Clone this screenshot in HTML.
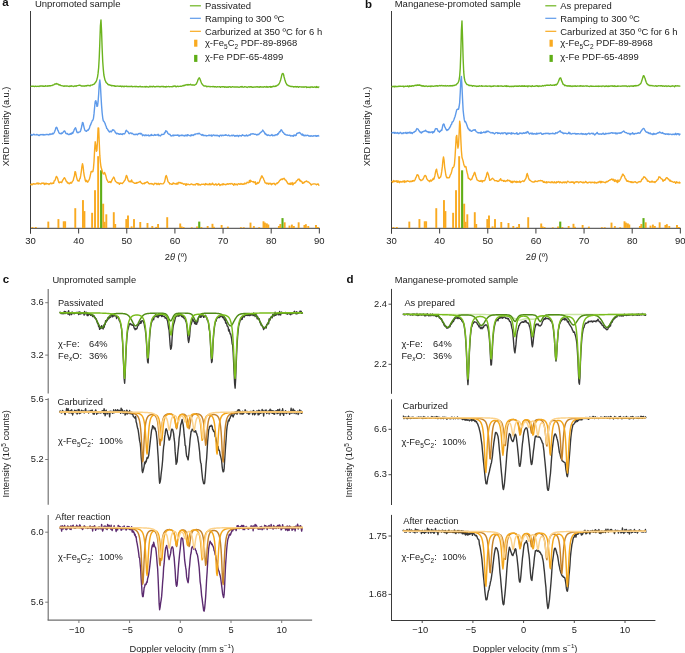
<!DOCTYPE html>
<html><head><meta charset="utf-8"><style>
html,body{margin:0;padding:0;background:#fff;width:685px;height:653px;overflow:hidden}
svg{display:block;will-change:transform}
text{font-family:"Liberation Sans", sans-serif}
.t{opacity:0.99}
</style></head><body>
<svg width="685" height="653" viewBox="0 0 685 653">
<rect width="685" height="653" fill="#fff"/>
<line x1="30.5" y1="11" x2="30.5" y2="233.5" stroke="#3c3c3c" stroke-width="1"/>
<line x1="30.5" y1="228.3" x2="319.84" y2="228.3" stroke="#3c3c3c" stroke-width="1"/>
<line x1="30.5" y1="228.3" x2="30.5" y2="233.5" stroke="#3c3c3c" stroke-width="1"/>
<text x="30.5" y="243.7" font-size="9.5" text-anchor="middle" font-weight="normal" fill="#222" >30</text>
<line x1="78.64" y1="228.3" x2="78.64" y2="233.5" stroke="#3c3c3c" stroke-width="1"/>
<text x="78.64" y="243.7" font-size="9.5" text-anchor="middle" font-weight="normal" fill="#222" >40</text>
<line x1="126.78" y1="228.3" x2="126.78" y2="233.5" stroke="#3c3c3c" stroke-width="1"/>
<text x="126.78" y="243.7" font-size="9.5" text-anchor="middle" font-weight="normal" fill="#222" >50</text>
<line x1="174.92" y1="228.3" x2="174.92" y2="233.5" stroke="#3c3c3c" stroke-width="1"/>
<text x="174.92" y="243.7" font-size="9.5" text-anchor="middle" font-weight="normal" fill="#222" >60</text>
<line x1="223.06" y1="228.3" x2="223.06" y2="233.5" stroke="#3c3c3c" stroke-width="1"/>
<text x="223.06" y="243.7" font-size="9.5" text-anchor="middle" font-weight="normal" fill="#222" >70</text>
<line x1="271.2" y1="228.3" x2="271.2" y2="233.5" stroke="#3c3c3c" stroke-width="1"/>
<text x="271.2" y="243.7" font-size="9.5" text-anchor="middle" font-weight="normal" fill="#222" >80</text>
<line x1="319.34" y1="228.3" x2="319.34" y2="233.5" stroke="#3c3c3c" stroke-width="1"/>
<text x="319.34" y="243.7" font-size="9.5" text-anchor="middle" font-weight="normal" fill="#222" >90</text>
<text x="176" y="260.1" font-size="9.3" text-anchor="middle" fill="#222">2<tspan font-style="italic">θ</tspan> (º)</text>
<rect x="31.48" y="227" width="1.9" height="1" fill="#f9aa20"/>
<rect x="34.85" y="227" width="1.9" height="1" fill="#f9aa20"/>
<rect x="47.36" y="221.6" width="1.9" height="6.4" fill="#f9aa20"/>
<rect x="57.47" y="219.1" width="1.9" height="8.9" fill="#f9aa20"/>
<rect x="62.77" y="221.3" width="1.9" height="6.7" fill="#f9aa20"/>
<rect x="64.21" y="221.3" width="1.9" height="6.7" fill="#f9aa20"/>
<rect x="74.32" y="208.2" width="1.9" height="19.8" fill="#f9aa20"/>
<rect x="82.02" y="200.1" width="1.9" height="27.9" fill="#f9aa20"/>
<rect x="83.47" y="211.1" width="1.9" height="16.9" fill="#f9aa20"/>
<rect x="91.17" y="212.8" width="1.9" height="15.2" fill="#f9aa20"/>
<rect x="94.06" y="190.2" width="1.9" height="37.8" fill="#f9aa20"/>
<rect x="97.19" y="156.2" width="1.9" height="71.8" fill="#f9aa20"/>
<rect x="102.24" y="203.7" width="1.9" height="24.3" fill="#f9aa20"/>
<rect x="103.69" y="221.8" width="1.9" height="6.2" fill="#f9aa20"/>
<rect x="105.37" y="214.3" width="1.9" height="13.7" fill="#f9aa20"/>
<rect x="112.83" y="212.2" width="1.9" height="15.8" fill="#f9aa20"/>
<rect x="114.28" y="224" width="1.9" height="4" fill="#f9aa20"/>
<rect x="125.35" y="219.1" width="1.9" height="8.9" fill="#f9aa20"/>
<rect x="127.03" y="215.5" width="1.9" height="12.5" fill="#f9aa20"/>
<rect x="130.64" y="226.4" width="1.9" height="1.6" fill="#f9aa20"/>
<rect x="133.05" y="219.1" width="1.9" height="8.9" fill="#f9aa20"/>
<rect x="139.31" y="222" width="1.9" height="6" fill="#f9aa20"/>
<rect x="146.53" y="223" width="1.9" height="5" fill="#f9aa20"/>
<rect x="151.34" y="226" width="1.9" height="2" fill="#f9aa20"/>
<rect x="155.2" y="226.9" width="1.9" height="1.1" fill="#f9aa20"/>
<rect x="157.12" y="224" width="1.9" height="4" fill="#f9aa20"/>
<rect x="166.27" y="217.2" width="1.9" height="10.8" fill="#f9aa20"/>
<rect x="179.27" y="223.5" width="1.9" height="4.5" fill="#f9aa20"/>
<rect x="180.71" y="226.5" width="1.9" height="1.5" fill="#f9aa20"/>
<rect x="182.64" y="227" width="1.9" height="1" fill="#f9aa20"/>
<rect x="190.82" y="227.3" width="1.9" height="0.7" fill="#f9aa20"/>
<rect x="196.11" y="226.5" width="1.9" height="1.5" fill="#f9aa20"/>
<rect x="200.45" y="227" width="1.9" height="1" fill="#f9aa20"/>
<rect x="206.71" y="226" width="1.9" height="2" fill="#f9aa20"/>
<rect x="211.52" y="223.8" width="1.9" height="4.2" fill="#f9aa20"/>
<rect x="212.96" y="226.8" width="1.9" height="1.2" fill="#f9aa20"/>
<rect x="220.67" y="225" width="1.9" height="3" fill="#f9aa20"/>
<rect x="226.92" y="226.6" width="1.9" height="1.4" fill="#f9aa20"/>
<rect x="239.92" y="227.2" width="1.9" height="0.8" fill="#f9aa20"/>
<rect x="242.81" y="227.2" width="1.9" height="0.8" fill="#f9aa20"/>
<rect x="249.55" y="222.6" width="1.9" height="5.4" fill="#f9aa20"/>
<rect x="252.92" y="226.1" width="1.9" height="1.9" fill="#f9aa20"/>
<rect x="258.21" y="227.2" width="1.9" height="0.8" fill="#f9aa20"/>
<rect x="262.55" y="221.3" width="1.9" height="6.7" fill="#f9aa20"/>
<rect x="263.99" y="222.6" width="1.9" height="5.4" fill="#f9aa20"/>
<rect x="265.92" y="223.4" width="1.9" height="4.6" fill="#f9aa20"/>
<rect x="267.36" y="224.5" width="1.9" height="3.5" fill="#f9aa20"/>
<rect x="277.95" y="226" width="1.9" height="2" fill="#f9aa20"/>
<rect x="279.4" y="224" width="1.9" height="4" fill="#f9aa20"/>
<rect x="283.73" y="222.3" width="1.9" height="5.7" fill="#f9aa20"/>
<rect x="288.54" y="225.6" width="1.9" height="2.4" fill="#f9aa20"/>
<rect x="290.95" y="224.6" width="1.9" height="3.4" fill="#f9aa20"/>
<rect x="292.88" y="226" width="1.9" height="2" fill="#f9aa20"/>
<rect x="297.69" y="222.3" width="1.9" height="5.7" fill="#f9aa20"/>
<rect x="303.47" y="225" width="1.9" height="3" fill="#f9aa20"/>
<rect x="304.91" y="224.2" width="1.9" height="3.8" fill="#f9aa20"/>
<rect x="307.32" y="226" width="1.9" height="2" fill="#f9aa20"/>
<rect x="315.02" y="225" width="1.9" height="3" fill="#f9aa20"/>
<rect x="316.95" y="227" width="1.9" height="1" fill="#f9aa20"/>
<rect x="100.07" y="170.3" width="2.1" height="57.7" fill="#5fae16"/>
<rect x="198.18" y="221.6" width="2.1" height="6.4" fill="#5fae16"/>
<rect x="281.46" y="218.1" width="2.1" height="9.9" fill="#5fae16"/>
<path d="M30.5 86.34L31.08 86.4L31.66 86.27L32.23 86.14L32.81 86.23L33.39 86.11L33.97 86.35L34.54 86.63L35.12 86.22L35.7 86.19L36.28 86.43L36.85 86.4L37.43 86.34L38.01 86.11L38.59 86.31L39.17 86.47L39.74 86.01L40.32 86.2L40.9 85.88L41.48 86.01L42.05 85.88L42.63 86.23L43.21 85.99L43.79 86.32L44.36 86.28L44.94 86.19L45.52 85.67L46.1 86.08L46.68 86.17L47.25 86.18L47.83 85.78L48.41 85.97L48.99 85.81L49.56 85.78L50.14 86.1L50.72 85.58L51.3 85.62L51.87 85.66L52.45 85.14L53.03 85.02L53.61 84.82L54.18 84.54L54.76 83.99L55.34 84.05L55.92 84.16L56.5 83.47L57.07 84.05L57.65 84.05L58.23 84.12L58.81 84.97L59.38 84.96L59.96 84.78L60.54 85.28L61.12 85.59L61.69 85.58L62.27 85.9L62.85 85.85L63.43 86.09L64.01 86.33L64.58 85.91L65.16 86.15L65.74 86.03L66.32 86.19L66.89 85.92L67.47 86.06L68.05 86.16L68.63 86.41L69.2 86.47L69.78 85.93L70.36 86.05L70.94 86.37L71.52 85.78L72.09 86.11L72.67 86.18L73.25 86.46L73.83 86.32L74.4 86.06L74.98 86L75.56 85.96L76.14 86.27L76.71 85.72L77.29 85.61L77.87 85.61L78.45 85.38L79.03 85.29L79.6 85.11L80.18 85.45L80.76 85.48L81.34 85.95L81.91 85.94L82.49 85.86L83.07 86.06L83.65 85.87L84.22 86.18L84.8 85.95L85.38 86.06L85.96 85.62L86.53 85.95L87.11 85.46L87.69 85.34L88.27 85.66L88.85 85.46L89.42 85.61L90 85.98L90.58 85.19L91.16 85.1L91.73 85.12L92.31 84.99L92.89 84.6L93.47 84.3L94.04 84.13L94.62 83.63L95.2 82.67L95.78 82.08L96.36 81L96.93 79.18L97.51 77.12L98.09 73.16L98.67 67.49L99.24 57.48L99.82 42.78L100.4 25.98L100.98 19.85L101.55 30.88L102.13 47.93L102.71 61.32L103.29 69.19L103.87 75L104.44 77.61L105.02 80.21L105.6 81.25L106.18 82.61L106.75 83.2L107.33 83.4L107.91 84.45L108.49 84.84L109.06 84.79L109.64 84.97L110.22 85.18L110.8 85.16L111.38 85.75L111.95 85.5L112.53 85.71L113.11 85.63L113.69 85.74L114.26 85.66L114.84 86.28L115.42 86.02L116 86.31L116.57 86.14L117.15 86.02L117.73 86.14L118.31 86.12L118.89 86.27L119.46 86.21L120.04 86.25L120.62 86.03L121.2 86.18L121.77 86.74L122.35 86.24L122.93 86.18L123.51 86.5L124.08 86.74L124.66 86.13L125.24 86.41L125.82 86.33L126.39 86.09L126.97 86.65L127.55 86.5L128.13 86.53L128.71 86.35L129.28 86.63L129.86 86.42L130.44 86.51L131.02 86.31L131.59 86.29L132.17 86.86L132.75 86.46L133.33 86.64L133.9 86.57L134.48 86.49L135.06 86.48L135.64 86.73L136.22 86.53L136.79 86.57L137.37 86.61L137.95 86.87L138.53 86.77L139.1 86.71L139.68 86.5L140.26 86.32L140.84 86.84L141.41 86.85L141.99 86.61L142.57 86.76L143.15 86.82L143.73 86.83L144.3 86.85L144.88 86.55L145.46 86.99L146.04 86.39L146.61 86.85L147.19 86.77L147.77 86.86L148.35 87.08L148.92 87L149.5 86.42L150.08 86.3L150.66 86.86L151.24 86.46L151.81 86.68L152.39 86.87L152.97 86.32L153.55 86.22L154.12 86.74L154.7 86.7L155.28 86.64L155.86 86.7L156.43 86.5L157.01 86.36L157.59 86.66L158.17 86.48L158.74 86.33L159.32 86.81L159.9 86.68L160.48 86.79L161.06 86.48L161.63 86.55L162.21 86.48L162.79 86.5L163.37 86.74L163.94 86.52L164.52 86.77L165.1 86.76L165.68 87.13L166.25 86.38L166.83 86.88L167.41 86.66L167.99 86.67L168.57 86.35L169.14 86.57L169.72 86.83L170.3 86.64L170.88 86.67L171.45 86.58L172.03 86.89L172.61 86.62L173.19 86.13L173.76 86.46L174.34 86.16L174.92 85.86L175.5 86.44L176.08 86.83L176.65 86.53L177.23 86.23L177.81 86.24L178.39 86.66L178.96 86.4L179.54 86.32L180.12 86.23L180.7 86.18L181.27 86.26L181.85 86.11L182.43 85.93L183.01 85.53L183.59 85.74L184.16 85.34L184.74 85.58L185.32 84.91L185.9 85.01L186.47 84.91L187.05 84.5L187.63 85.08L188.21 84.96L188.78 84.53L189.36 84.82L189.94 84.78L190.52 84.2L191.1 84.91L191.67 84.93L192.25 85.03L192.83 84.82L193.41 85.01L193.98 84.99L194.56 85.19L195.14 84.79L195.72 84.35L196.29 84.1L196.87 82.74L197.45 81.51L198.03 79.58L198.6 78.73L199.18 77.81L199.76 78.44L200.34 79.98L200.92 81.58L201.49 83.02L202.07 83.96L202.65 84.7L203.23 85.26L203.8 85.92L204.38 85.95L204.96 86L205.54 86.02L206.11 86.11L206.69 86.69L207.27 86.52L207.85 86.48L208.43 86.44L209 86.32L209.58 86.58L210.16 86.82L210.74 86.57L211.31 86.63L211.89 86.65L212.47 86.75L213.05 86.39L213.62 86.7L214.2 86.58L214.78 86.98L215.36 86.62L215.94 86.93L216.51 87.15L217.09 86.76L217.67 86.7L218.25 86.88L218.82 86.85L219.4 86.64L219.98 86.96L220.56 87.31L221.13 86.82L221.71 86.84L222.29 86.66L222.87 86.96L223.45 86.62L224.02 86.66L224.6 87.19L225.18 86.71L225.76 87.15L226.33 87.25L226.91 86.98L227.49 87.05L228.07 87.36L228.64 86.89L229.22 86.81L229.8 86.64L230.38 86.95L230.95 87.27L231.53 87.16L232.11 86.74L232.69 86.77L233.27 86.85L233.84 87.02L234.42 86.92L235 87.01L235.58 87.03L236.15 86.9L236.73 86.96L237.31 87.02L237.89 86.96L238.46 87.09L239.04 87.39L239.62 87.11L240.2 87L240.78 86.61L241.35 87.07L241.93 86.56L242.51 86.68L243.09 87.18L243.66 87.15L244.24 86.96L244.82 86.62L245.4 86.92L245.97 86.85L246.55 87.14L247.13 87.5L247.71 87.05L248.29 86.83L248.86 86.75L249.44 86.99L250.02 86.97L250.6 86.75L251.17 87.03L251.75 86.75L252.33 87.25L252.91 87.24L253.48 87.24L254.06 86.9L254.64 87.12L255.22 86.97L255.8 86.92L256.37 86.93L256.95 86.71L257.53 86.68L258.11 87.17L258.68 86.95L259.26 87.04L259.84 87.21L260.42 86.6L260.99 86.81L261.57 87.02L262.15 87.06L262.73 86.88L263.31 87.19L263.88 87L264.46 86.68L265.04 86.73L265.62 87.1L266.19 87.02L266.77 86.49L267.35 87.19L267.93 87.01L268.5 87.15L269.08 86.75L269.66 86.75L270.24 86.54L270.81 87.31L271.39 86.68L271.97 87.02L272.55 86.48L273.13 86.6L273.7 86.13L274.28 86.33L274.86 86.53L275.44 85.91L276.01 86.27L276.59 85.91L277.17 85.35L277.75 85.12L278.32 84.64L278.9 84.05L279.48 82.99L280.06 81.6L280.64 79.93L281.21 77.56L281.79 75.12L282.37 73.57L282.95 73.47L283.52 74.35L284.1 76.99L284.68 79.17L285.26 81.04L285.83 82.92L286.41 83.69L286.99 84.9L287.57 84.95L288.15 85.59L288.72 85.75L289.3 85.85L289.88 86.32L290.46 86.29L291.03 86.57L291.61 86.52L292.19 86.37L292.77 86.65L293.34 86.74L293.92 86.99L294.5 86.62L295.08 86.85L295.66 86.51L296.23 87.06L296.81 86.71L297.39 86.57L297.97 86.97L298.54 87.25L299.12 86.69L299.7 86.8L300.28 86.89L300.85 86.82L301.43 87.16L302.01 86.91L302.59 86.94L303.16 87.24L303.74 86.95L304.32 87.22L304.9 86.92L305.48 86.87L306.05 86.74L306.63 87.56L307.21 87.09L307.79 87.22L308.36 87.17L308.94 87.21L309.52 87.19L310.1 87.61L310.67 86.97L311.25 86.86L311.83 86.98L312.41 86.91L312.99 87.38L313.56 87.4L314.14 87.01L314.72 86.92L315.3 87.15L315.87 87.54L316.45 86.61L317.03 87.35L317.61 87L318.18 87.47L318.76 87.01L319.34 87.19" fill="none" stroke="#6cb41e" stroke-width="1.4" stroke-linejoin="round"/>
<path d="M30.5 134.28L31.08 134.49L31.66 135.44L32.23 135.21L32.81 134.72L33.39 134.53L33.97 134.12L34.54 134.72L35.12 134.86L35.7 134.84L36.28 134.83L36.85 134.42L37.43 134.84L38.01 134.85L38.59 135.38L39.17 135.6L39.74 134.8L40.32 134.54L40.9 134.82L41.48 134.6L42.05 134.54L42.63 134.8L43.21 134.4L43.79 135.05L44.36 134.76L44.94 134.89L45.52 134.71L46.1 134.47L46.68 134.37L47.25 134.63L47.83 134.49L48.41 134.77L48.99 134.64L49.56 134.06L50.14 134.58L50.72 133.95L51.3 134.16L51.87 134.18L52.45 133.3L53.03 133.9L53.61 133.47L54.18 132.6L54.76 131.31L55.34 129.69L55.92 127.71L56.5 127.14L57.07 127.84L57.65 129.8L58.23 130.88L58.81 132.59L59.38 133.25L59.96 133.51L60.54 133.55L61.12 133.96L61.69 132.91L62.27 133.38L62.85 132.64L63.43 131.8L64.01 131.19L64.58 130.94L65.16 131.92L65.74 133.12L66.32 133.64L66.89 133.91L67.47 133.41L68.05 134.32L68.63 134.61L69.2 134.55L69.78 134.21L70.36 133.45L70.94 134.36L71.52 133.8L72.09 132.63L72.67 133.4L73.25 131.94L73.83 130.81L74.4 129.32L74.98 128.43L75.56 127.71L76.14 129.48L76.71 131.67L77.29 132.67L77.87 132.51L78.45 132.6L79.03 132.09L79.6 131.94L80.18 131.64L80.76 130.27L81.34 128L81.91 125.53L82.49 122.48L83.07 122.91L83.65 125.59L84.22 128.07L84.8 130.07L85.38 130.81L85.96 130.97L86.53 131.3L87.11 130.58L87.69 129.94L88.27 130.23L88.85 129.12L89.42 128.14L90 125.94L90.58 124.9L91.16 123.27L91.73 121.98L92.31 120.53L92.89 120.1L93.47 118.19L94.04 113.67L94.62 107.12L95.2 101.54L95.78 100.68L96.36 102.52L96.93 106.38L97.51 106.17L98.09 101.69L98.67 93.93L99.24 84.49L99.82 79.98L100.4 85.19L100.98 95.83L101.55 105.22L102.13 112.71L102.71 117.76L103.29 120.84L103.87 121.36L104.44 122.22L105.02 123.32L105.6 125.24L106.18 126.35L106.75 128.48L107.33 128.76L107.91 130.02L108.49 130.72L109.06 131.62L109.64 132.07L110.22 131.24L110.8 131.5L111.38 131.8L111.95 130.92L112.53 129.85L113.11 130.17L113.69 129.85L114.26 130.6L114.84 131.26L115.42 132.76L116 132.9L116.57 133.85L117.15 133.31L117.73 133.51L118.31 134.05L118.89 133.78L119.46 134.39L120.04 134.27L120.62 133.83L121.2 134.24L121.77 134.05L122.35 134.51L122.93 133.79L123.51 133.67L124.08 133.96L124.66 133.76L125.24 132.77L125.82 130.95L126.39 130.31L126.97 131.09L127.55 131.38L128.13 132.01L128.71 133.15L129.28 133.66L129.86 133.27L130.44 132.9L131.02 132.89L131.59 133.72L132.17 133.3L132.75 133.79L133.33 134.19L133.9 134.57L134.48 134.34L135.06 134.76L135.64 134.25L136.22 134.44L136.79 134.11L137.37 134.84L137.95 134.18L138.53 133.63L139.1 133.54L139.68 133.46L140.26 133.92L140.84 133.27L141.41 133.79L141.99 134.32L142.57 135.69L143.15 135.2L143.73 134.87L144.3 135.26L144.88 135.84L145.46 134.96L146.04 134.93L146.61 135.59L147.19 135.32L147.77 135.4L148.35 134.94L148.92 135.93L149.5 135.85L150.08 135.4L150.66 135.46L151.24 134.38L151.81 135.45L152.39 135.13L152.97 135.38L153.55 135.49L154.12 135.08L154.7 134.54L155.28 135.37L155.86 134.92L156.43 135.08L157.01 134.97L157.59 135.07L158.17 134.28L158.74 135.68L159.32 135.28L159.9 135.6L160.48 135.93L161.06 135.11L161.63 134.33L162.21 134.61L162.79 134.36L163.37 134.43L163.94 134.26L164.52 132.76L165.1 132.7L165.68 130.83L166.25 130.98L166.83 131.4L167.41 132.45L167.99 133.55L168.57 134.04L169.14 134.42L169.72 134.22L170.3 135.01L170.88 135.84L171.45 135.95L172.03 135.73L172.61 135.52L173.19 135L173.76 135.86L174.34 135.28L174.92 135.29L175.5 135.22L176.08 135.38L176.65 135.18L177.23 135.33L177.81 134.93L178.39 135.22L178.96 136.29L179.54 135.36L180.12 135.29L180.7 135.61L181.27 135.68L181.85 134.95L182.43 135.32L183.01 135.77L183.59 135.51L184.16 135.46L184.74 136.03L185.32 135.14L185.9 135.44L186.47 135.2L187.05 136L187.63 134.62L188.21 135.13L188.78 135.18L189.36 135.65L189.94 135.62L190.52 135.92L191.1 134.72L191.67 135.63L192.25 135.18L192.83 134.99L193.41 135.41L193.98 134.73L194.56 134.13L195.14 134.61L195.72 133.89L196.29 133.89L196.87 133.92L197.45 133.57L198.03 133.95L198.6 133.37L199.18 133.17L199.76 133.86L200.34 134.14L200.92 134.3L201.49 135.16L202.07 134.87L202.65 134.44L203.23 135.58L203.8 135.3L204.38 135.53L204.96 135.45L205.54 135.68L206.11 135.46L206.69 135.96L207.27 135.65L207.85 135.64L208.43 135.66L209 134.92L209.58 135.45L210.16 135.41L210.74 135.61L211.31 134.99L211.89 136.19L212.47 135.58L213.05 135.06L213.62 134.87L214.2 135.44L214.78 135.52L215.36 135.27L215.94 135.6L216.51 135.31L217.09 135.79L217.67 135.28L218.25 135.56L218.82 135.97L219.4 136.61L219.98 135.18L220.56 135.4L221.13 135.25L221.71 135.9L222.29 135.13L222.87 135.4L223.45 135.58L224.02 135.21L224.6 135.22L225.18 135.41L225.76 134.76L226.33 135.02L226.91 135.44L227.49 135.66L228.07 135.53L228.64 134.9L229.22 135.42L229.8 135.93L230.38 135.83L230.95 135.58L231.53 135.26L232.11 135.86L232.69 135.38L233.27 135.14L233.84 135.29L234.42 136.19L235 135.7L235.58 136.07L236.15 135.41L236.73 135.98L237.31 135.36L237.89 135.54L238.46 136.59L239.04 135.9L239.62 135.39L240.2 135.55L240.78 135.7L241.35 136.05L241.93 135.36L242.51 134.85L243.09 135.42L243.66 135.53L244.24 135.54L244.82 136L245.4 135.57L245.97 135.73L246.55 134.92L247.13 135.63L247.71 136.03L248.29 135.39L248.86 135.03L249.44 134.8L250.02 135.24L250.6 133.91L251.17 134L251.75 134.03L252.33 134.05L252.91 133.6L253.48 134.03L254.06 133.98L254.64 134.34L255.22 134.42L255.8 134.16L256.37 134.7L256.95 135.09L257.53 134.32L258.11 134.49L258.68 134.63L259.26 133.58L259.84 133.55L260.42 132.33L260.99 132.32L261.57 131.87L262.15 131.08L262.73 130.07L263.31 131L263.88 131.64L264.46 132.57L265.04 133.96L265.62 133.43L266.19 134.83L266.77 134.7L267.35 135.5L267.93 135.15L268.5 134.9L269.08 135.34L269.66 135.57L270.24 135.33L270.81 135.53L271.39 135.13L271.97 134.49L272.55 135.7L273.13 135.6L273.7 135.35L274.28 135.28L274.86 135.61L275.44 134.92L276.01 134.7L276.59 134.72L277.17 135.01L277.75 133.6L278.32 134.12L278.9 132.73L279.48 131.76L280.06 131.85L280.64 130.58L281.21 129.74L281.79 130.31L282.37 131.46L282.95 132.41L283.52 132.59L284.1 133.64L284.68 134.33L285.26 134.21L285.83 134.92L286.41 134.98L286.99 134.93L287.57 135.05L288.15 135.35L288.72 135.39L289.3 135.19L289.88 135.27L290.46 135.91L291.03 135.56L291.61 135.83L292.19 135.95L292.77 135.68L293.34 136.32L293.92 135.03L294.5 135.59L295.08 135L295.66 135.65L296.23 135.28L296.81 133.39L297.39 133.25L297.97 133.31L298.54 132.85L299.12 132.63L299.7 132.52L300.28 133.26L300.85 133.94L301.43 134.2L302.01 135.08L302.59 134.1L303.16 135.49L303.74 134.98L304.32 135.88L304.9 135.48L305.48 135.28L306.05 135.82L306.63 135.35L307.21 135.37L307.79 135.13L308.36 135.77L308.94 136L309.52 136.22L310.1 135.77L310.67 136.26L311.25 135.86L311.83 135.82L312.41 136.1L312.99 136.3L313.56 135.75L314.14 135.79L314.72 135.83L315.3 135.94L315.87 135.55L316.45 136.33L317.03 135.76L317.61 136.11L318.18 135.6L318.76 136.08L319.34 136.1" fill="none" stroke="#5e9aea" stroke-width="1.4" stroke-linejoin="round"/>
<path d="M30.5 183.73L31.08 184.83L31.66 184.09L32.23 184.72L32.81 184.35L33.39 183.62L33.97 183.74L34.54 184.11L35.12 183.94L35.7 183.93L36.28 183.78L36.85 183.09L37.43 183.8L38.01 182.9L38.59 184.06L39.17 183.57L39.74 183.57L40.32 183.79L40.9 184L41.48 183.23L42.05 183.08L42.63 183.38L43.21 182.94L43.79 183.41L44.36 184.55L44.94 183.35L45.52 184.11L46.1 183.19L46.68 183.92L47.25 183.62L47.83 183.72L48.41 183.98L48.99 184.48L49.56 183.74L50.14 183.66L50.72 183.1L51.3 183.72L51.87 183.24L52.45 183.57L53.03 182.92L53.61 183.31L54.18 180.92L54.76 180.57L55.34 179.57L55.92 177.39L56.5 176.39L57.07 177.37L57.65 178.45L58.23 180.59L58.81 182.67L59.38 182.71L59.96 182L60.54 182.2L61.12 182.3L61.69 182.58L62.27 181.06L62.85 179.97L63.43 179.18L64.01 178.03L64.58 177.75L65.16 178.82L65.74 180.07L66.32 181.48L66.89 181.41L67.47 183.08L68.05 182.62L68.63 183.2L69.2 183.84L69.78 183.5L70.36 182.38L70.94 183.16L71.52 183.09L72.09 181.89L72.67 181.16L73.25 180.36L73.83 177.66L74.4 176.11L74.98 171.6L75.56 172.1L76.14 175.07L76.71 177.83L77.29 179.82L77.87 180.77L78.45 180.8L79.03 181.18L79.6 178.94L80.18 178.33L80.76 175.23L81.34 171.43L81.91 166.68L82.49 163.73L83.07 166.26L83.65 171.67L84.22 175.62L84.8 177.93L85.38 180.74L85.96 181.68L86.53 180.35L87.11 181.27L87.69 182.19L88.27 181.14L88.85 180.28L89.42 178.94L90 176.84L90.58 174.21L91.16 171.41L91.73 171.41L92.31 171.85L92.89 171.68L93.47 168.18L94.04 161.27L94.62 149.72L95.2 141.78L95.78 145.42L96.36 151.27L96.93 150.58L97.51 140.78L98.09 127.96L98.67 128.24L99.24 142.15L99.82 155.66L100.4 162.32L100.98 167.01L101.55 168.79L102.13 170.79L102.71 172.94L103.29 173.91L103.87 174.02L104.44 172.46L105.02 173.41L105.6 175.04L106.18 177.11L106.75 179.67L107.33 180.15L107.91 181.6L108.49 182.41L109.06 182.4L109.64 181.57L110.22 181.75L110.8 182.62L111.38 181.35L111.95 180.12L112.53 179L113.11 178.01L113.69 177.07L114.26 177.84L114.84 179.76L115.42 181.34L116 181.74L116.57 182.09L117.15 182.91L117.73 182.64L118.31 183.15L118.89 183.3L119.46 184.35L120.04 182.94L120.62 183.26L121.2 183.21L121.77 183.43L122.35 183.6L122.93 182.72L123.51 182.25L124.08 181.27L124.66 180.54L125.24 179.56L125.82 177.3L126.39 175.39L126.97 176.19L127.55 178.26L128.13 180.31L128.71 181.04L129.28 181.79L129.86 181.17L130.44 181.18L131.02 181.96L131.59 180.03L132.17 181.25L132.75 182.19L133.33 182.51L133.9 182.71L134.48 183.27L135.06 183.4L135.64 183.4L136.22 182.56L136.79 183.23L137.37 182.7L137.95 182.48L138.53 182.35L139.1 182.01L139.68 181.82L140.26 181.36L140.84 182.5L141.41 183.14L141.99 183.53L142.57 183.9L143.15 183.34L143.73 183.36L144.3 183.74L144.88 182.61L145.46 183.09L146.04 182.5L146.61 182.37L147.19 181.73L147.77 182.3L148.35 182.99L148.92 183.68L149.5 183.96L150.08 183.64L150.66 183.71L151.24 183.49L151.81 184.09L152.39 183.83L152.97 184.24L153.55 184.77L154.12 183.98L154.7 183.33L155.28 183.62L155.86 183.35L156.43 183.47L157.01 184.59L157.59 184.09L158.17 183.29L158.74 184.25L159.32 184.5L159.9 183.74L160.48 183.55L161.06 183.64L161.63 183.84L162.21 183.87L162.79 183.92L163.37 183.59L163.94 182.92L164.52 181.81L165.1 179.59L165.68 176.25L166.25 175.61L166.83 177.08L167.41 179.12L167.99 181.61L168.57 182.23L169.14 182.62L169.72 184.04L170.3 183.88L170.88 183.8L171.45 184.2L172.03 184.32L172.61 184.03L173.19 182.79L173.76 183.6L174.34 183.69L174.92 183.43L175.5 183.91L176.08 184.27L176.65 183.39L177.23 182.94L177.81 184.16L178.39 182.82L178.96 182.27L179.54 182.81L180.12 182.93L180.7 182.59L181.27 183.49L181.85 183.15L182.43 183.16L183.01 183.82L183.59 184.21L184.16 183.67L184.74 184.17L185.32 184.03L185.9 185.38L186.47 183.81L187.05 184.77L187.63 184.14L188.21 184.12L188.78 184.52L189.36 184.61L189.94 184.78L190.52 184.37L191.1 183.96L191.67 183.99L192.25 184.47L192.83 184.5L193.41 184.88L193.98 184.44L194.56 184.73L195.14 184.94L195.72 184.34L196.29 183.6L196.87 183.74L197.45 183.63L198.03 184.99L198.6 183.9L199.18 184.83L199.76 184.55L200.34 185.06L200.92 184.74L201.49 184.24L202.07 184.2L202.65 184.33L203.23 184.37L203.8 184.06L204.38 184.28L204.96 185.02L205.54 183.54L206.11 184.42L206.69 183.9L207.27 184.39L207.85 184.69L208.43 184.28L209 184.66L209.58 183.6L210.16 184.81L210.74 184.04L211.31 184.59L211.89 184.4L212.47 183.15L213.05 183.98L213.62 184.42L214.2 185.02L214.78 184.45L215.36 184.44L215.94 183.69L216.51 184.97L217.09 185.14L217.67 184.34L218.25 184.22L218.82 183.6L219.4 184.72L219.98 185.54L220.56 184.65L221.13 184.89L221.71 184.57L222.29 183.88L222.87 184.93L223.45 183.77L224.02 184.23L224.6 184.45L225.18 184.72L225.76 184.51L226.33 184.5L226.91 183.98L227.49 183.74L228.07 184.35L228.64 184L229.22 183.73L229.8 183.74L230.38 184.09L230.95 183.47L231.53 183.7L232.11 183.57L232.69 184.38L233.27 184.48L233.84 185.19L234.42 183.61L235 183.97L235.58 184.68L236.15 184.17L236.73 184.11L237.31 185.02L237.89 184.09L238.46 183.71L239.04 183.62L239.62 184.35L240.2 184.32L240.78 183.55L241.35 183.7L241.93 184.35L242.51 184.34L243.09 183.75L243.66 184.27L244.24 184.18L244.82 183.03L245.4 183.58L245.97 183.76L246.55 183.11L247.13 182.15L247.71 182.66L248.29 182.74L248.86 182.66L249.44 180.5L250.02 182.24L250.6 180.28L251.17 181.15L251.75 181.45L252.33 181.69L252.91 181.73L253.48 181.55L254.06 182.71L254.64 182.39L255.22 181.78L255.8 184.31L256.37 183.4L256.95 183.85L257.53 182.48L258.11 183.26L258.68 182.85L259.26 182.15L259.84 180.49L260.42 178.79L260.99 177.98L261.57 176.05L262.15 175.98L262.73 177.4L263.31 178.09L263.88 179.75L264.46 180.91L265.04 182.73L265.62 183.1L266.19 182.95L266.77 183.82L267.35 183.13L267.93 183.47L268.5 184.14L269.08 183.24L269.66 183.73L270.24 183.3L270.81 183.97L271.39 184.67L271.97 183.6L272.55 184.04L273.13 183.53L273.7 183.39L274.28 183.32L274.86 184.48L275.44 184.81L276.01 183.85L276.59 183.14L277.17 183.51L277.75 182.65L278.32 182.61L278.9 181.66L279.48 180.85L280.06 180.31L280.64 179.48L281.21 179.61L281.79 179.09L282.37 179.54L282.95 178.73L283.52 178.87L284.1 178.34L284.68 179.16L285.26 180.1L285.83 180.18L286.41 181.29L286.99 181.91L287.57 183.17L288.15 183.95L288.72 183.8L289.3 183.42L289.88 184.33L290.46 183.05L291.03 184.43L291.61 183.47L292.19 182.49L292.77 184.89L293.34 184.33L293.92 183.02L294.5 183.35L295.08 182.86L295.66 182.53L296.23 181.17L296.81 180.71L297.39 180.28L297.97 179.31L298.54 179.3L299.12 179.01L299.7 180.77L300.28 180.3L300.85 181.58L301.43 181.25L302.01 181.99L302.59 183.39L303.16 182.44L303.74 183.01L304.32 182.52L304.9 181.75L305.48 181.66L306.05 181.22L306.63 181.04L307.21 181.68L307.79 181.98L308.36 181.9L308.94 182.24L309.52 183.19L310.1 183.36L310.67 184.13L311.25 185.05L311.83 184.37L312.41 184.08L312.99 184.09L313.56 183.83L314.14 183.85L314.72 183.85L315.3 184.15L315.87 184.16L316.45 184.71L317.03 184.21L317.61 184.32L318.18 183.87L318.76 185.18L319.34 184.68" fill="none" stroke="#f9aa20" stroke-width="1.4" stroke-linejoin="round"/>
<text x="2.3" y="6.1" font-size="11.5" text-anchor="start" font-weight="bold" fill="#111" >a</text>
<text x="34.9" y="6.8" font-size="9.5" text-anchor="start" font-weight="normal" fill="#222" >Unpromoted sample</text>
<text transform="translate(9.4 126.5) rotate(-90)" font-size="9.2" text-anchor="middle" fill="#222">XRD intensity (a.u.)</text>
<line x1="189.9" y1="5.8" x2="200.9" y2="5.8" stroke="#6cb41e" stroke-width="1.2"/>
<line x1="189.9" y1="18.3" x2="200.9" y2="18.3" stroke="#5e9aea" stroke-width="1.2"/>
<line x1="189.9" y1="31.3" x2="200.9" y2="31.3" stroke="#f9aa20" stroke-width="1.2"/>
<rect x="194.1" y="39.7" width="3.3" height="7" fill="#f9aa20"/>
<rect x="194.1" y="54.9" width="3.3" height="7" fill="#5fae16"/>
<text x="204.9" y="9.3" font-size="9.45" text-anchor="start" font-weight="normal" fill="#222" >Passivated</text>
<text x="204.9" y="21.6" font-size="9.45" text-anchor="start" font-weight="normal" fill="#222" >Ramping to 300 ºC</text>
<text x="204.9" y="34.5" font-size="9.45" text-anchor="start" font-weight="normal" fill="#222" >Carburized at 350 ºC for 6 h</text>
<text x="204.9" y="45.8" font-size="9.45" fill="#222">χ-Fe<tspan font-size="6.5" dy="2.7">5</tspan><tspan dy="-2.7">C</tspan><tspan font-size="6.5" dy="2.7">2</tspan><tspan dy="-2.7"> PDF-89-8968</tspan></text>
<text x="204.9" y="60.3" font-size="9.45" text-anchor="start" font-weight="normal" fill="#222" >χ-Fe PDF-65-4899</text>
<line x1="391.5" y1="11" x2="391.5" y2="233.5" stroke="#3c3c3c" stroke-width="1"/>
<line x1="391.5" y1="228.3" x2="680.84" y2="228.3" stroke="#3c3c3c" stroke-width="1"/>
<line x1="391.5" y1="228.3" x2="391.5" y2="233.5" stroke="#3c3c3c" stroke-width="1"/>
<text x="391.5" y="243.7" font-size="9.5" text-anchor="middle" font-weight="normal" fill="#222" >30</text>
<line x1="439.64" y1="228.3" x2="439.64" y2="233.5" stroke="#3c3c3c" stroke-width="1"/>
<text x="439.64" y="243.7" font-size="9.5" text-anchor="middle" font-weight="normal" fill="#222" >40</text>
<line x1="487.78" y1="228.3" x2="487.78" y2="233.5" stroke="#3c3c3c" stroke-width="1"/>
<text x="487.78" y="243.7" font-size="9.5" text-anchor="middle" font-weight="normal" fill="#222" >50</text>
<line x1="535.92" y1="228.3" x2="535.92" y2="233.5" stroke="#3c3c3c" stroke-width="1"/>
<text x="535.92" y="243.7" font-size="9.5" text-anchor="middle" font-weight="normal" fill="#222" >60</text>
<line x1="584.06" y1="228.3" x2="584.06" y2="233.5" stroke="#3c3c3c" stroke-width="1"/>
<text x="584.06" y="243.7" font-size="9.5" text-anchor="middle" font-weight="normal" fill="#222" >70</text>
<line x1="632.2" y1="228.3" x2="632.2" y2="233.5" stroke="#3c3c3c" stroke-width="1"/>
<text x="632.2" y="243.7" font-size="9.5" text-anchor="middle" font-weight="normal" fill="#222" >80</text>
<line x1="680.34" y1="228.3" x2="680.34" y2="233.5" stroke="#3c3c3c" stroke-width="1"/>
<text x="680.34" y="243.7" font-size="9.5" text-anchor="middle" font-weight="normal" fill="#222" >90</text>
<text x="537" y="260.1" font-size="9.3" text-anchor="middle" fill="#222">2<tspan font-style="italic">θ</tspan> (º)</text>
<rect x="392.48" y="227" width="1.9" height="1" fill="#f9aa20"/>
<rect x="395.85" y="227" width="1.9" height="1" fill="#f9aa20"/>
<rect x="408.36" y="221.6" width="1.9" height="6.4" fill="#f9aa20"/>
<rect x="418.47" y="219.1" width="1.9" height="8.9" fill="#f9aa20"/>
<rect x="423.77" y="221.3" width="1.9" height="6.7" fill="#f9aa20"/>
<rect x="425.21" y="221.3" width="1.9" height="6.7" fill="#f9aa20"/>
<rect x="435.32" y="208.2" width="1.9" height="19.8" fill="#f9aa20"/>
<rect x="443.02" y="200.1" width="1.9" height="27.9" fill="#f9aa20"/>
<rect x="444.47" y="211.1" width="1.9" height="16.9" fill="#f9aa20"/>
<rect x="452.17" y="212.8" width="1.9" height="15.2" fill="#f9aa20"/>
<rect x="455.06" y="190.2" width="1.9" height="37.8" fill="#f9aa20"/>
<rect x="458.19" y="156.2" width="1.9" height="71.8" fill="#f9aa20"/>
<rect x="463.24" y="203.7" width="1.9" height="24.3" fill="#f9aa20"/>
<rect x="464.69" y="221.8" width="1.9" height="6.2" fill="#f9aa20"/>
<rect x="466.37" y="214.3" width="1.9" height="13.7" fill="#f9aa20"/>
<rect x="473.83" y="212.2" width="1.9" height="15.8" fill="#f9aa20"/>
<rect x="475.28" y="224" width="1.9" height="4" fill="#f9aa20"/>
<rect x="486.35" y="219.1" width="1.9" height="8.9" fill="#f9aa20"/>
<rect x="488.03" y="215.5" width="1.9" height="12.5" fill="#f9aa20"/>
<rect x="491.64" y="226.4" width="1.9" height="1.6" fill="#f9aa20"/>
<rect x="494.05" y="219.1" width="1.9" height="8.9" fill="#f9aa20"/>
<rect x="500.31" y="222" width="1.9" height="6" fill="#f9aa20"/>
<rect x="507.53" y="223" width="1.9" height="5" fill="#f9aa20"/>
<rect x="512.34" y="226" width="1.9" height="2" fill="#f9aa20"/>
<rect x="516.2" y="226.9" width="1.9" height="1.1" fill="#f9aa20"/>
<rect x="518.12" y="224" width="1.9" height="4" fill="#f9aa20"/>
<rect x="527.27" y="217.2" width="1.9" height="10.8" fill="#f9aa20"/>
<rect x="540.27" y="223.5" width="1.9" height="4.5" fill="#f9aa20"/>
<rect x="541.71" y="226.5" width="1.9" height="1.5" fill="#f9aa20"/>
<rect x="543.64" y="227" width="1.9" height="1" fill="#f9aa20"/>
<rect x="551.82" y="227.3" width="1.9" height="0.7" fill="#f9aa20"/>
<rect x="557.11" y="226.5" width="1.9" height="1.5" fill="#f9aa20"/>
<rect x="561.45" y="227" width="1.9" height="1" fill="#f9aa20"/>
<rect x="567.71" y="226" width="1.9" height="2" fill="#f9aa20"/>
<rect x="572.52" y="223.8" width="1.9" height="4.2" fill="#f9aa20"/>
<rect x="573.96" y="226.8" width="1.9" height="1.2" fill="#f9aa20"/>
<rect x="581.67" y="225" width="1.9" height="3" fill="#f9aa20"/>
<rect x="587.92" y="226.6" width="1.9" height="1.4" fill="#f9aa20"/>
<rect x="600.92" y="227.2" width="1.9" height="0.8" fill="#f9aa20"/>
<rect x="603.81" y="227.2" width="1.9" height="0.8" fill="#f9aa20"/>
<rect x="610.55" y="222.6" width="1.9" height="5.4" fill="#f9aa20"/>
<rect x="613.92" y="226.1" width="1.9" height="1.9" fill="#f9aa20"/>
<rect x="619.21" y="227.2" width="1.9" height="0.8" fill="#f9aa20"/>
<rect x="623.55" y="221.3" width="1.9" height="6.7" fill="#f9aa20"/>
<rect x="624.99" y="222.6" width="1.9" height="5.4" fill="#f9aa20"/>
<rect x="626.92" y="223.4" width="1.9" height="4.6" fill="#f9aa20"/>
<rect x="628.36" y="224.5" width="1.9" height="3.5" fill="#f9aa20"/>
<rect x="638.95" y="226" width="1.9" height="2" fill="#f9aa20"/>
<rect x="640.4" y="224" width="1.9" height="4" fill="#f9aa20"/>
<rect x="644.73" y="222.3" width="1.9" height="5.7" fill="#f9aa20"/>
<rect x="649.54" y="225.6" width="1.9" height="2.4" fill="#f9aa20"/>
<rect x="651.95" y="224.6" width="1.9" height="3.4" fill="#f9aa20"/>
<rect x="653.88" y="226" width="1.9" height="2" fill="#f9aa20"/>
<rect x="658.69" y="222.3" width="1.9" height="5.7" fill="#f9aa20"/>
<rect x="664.47" y="225" width="1.9" height="3" fill="#f9aa20"/>
<rect x="665.91" y="224.2" width="1.9" height="3.8" fill="#f9aa20"/>
<rect x="668.32" y="226" width="1.9" height="2" fill="#f9aa20"/>
<rect x="676.02" y="225" width="1.9" height="3" fill="#f9aa20"/>
<rect x="677.95" y="227" width="1.9" height="1" fill="#f9aa20"/>
<rect x="461.07" y="170.3" width="2.1" height="57.7" fill="#5fae16"/>
<rect x="559.18" y="221.6" width="2.1" height="6.4" fill="#5fae16"/>
<rect x="642.46" y="218.1" width="2.1" height="9.9" fill="#5fae16"/>
<path d="M391.5 86.76L392.08 86.54L392.66 86.69L393.23 86.31L393.81 86.52L394.39 86.95L394.97 86.09L395.54 86.61L396.12 86.73L396.7 86.44L397.28 86.52L397.85 86.63L398.43 86.2L399.01 86.43L399.59 86.14L400.17 86.18L400.74 86.19L401.32 86.29L401.9 86.35L402.48 86.42L403.05 85.99L403.63 86.75L404.21 86.56L404.79 86.46L405.36 86.21L405.94 86.26L406.52 86.39L407.1 86.35L407.68 85.86L408.25 86.39L408.83 86.87L409.41 85.77L409.99 86.38L410.56 86.2L411.14 86.05L411.72 86.33L412.3 85.68L412.87 85.91L413.45 86.11L414.03 85.63L414.61 85.47L415.18 85.47L415.76 85.23L416.34 85.58L416.92 84.96L417.5 85.33L418.07 84.88L418.65 85.38L419.23 85.3L419.81 84.85L420.38 85.55L420.96 85.42L421.54 85.66L422.12 86.19L422.69 85.67L423.27 85.74L423.85 86.36L424.43 86.1L425.01 86.46L425.58 86.21L426.16 85.95L426.74 86.15L427.32 86.46L427.89 86.4L428.47 86.2L429.05 86.21L429.63 86.18L430.2 86.07L430.78 86.64L431.36 86.2L431.94 85.94L432.52 86.09L433.09 86.35L433.67 86.32L434.25 86.14L434.83 86L435.4 86.13L435.98 85.72L436.56 85.76L437.14 86.17L437.71 85.8L438.29 85.89L438.87 85.96L439.45 85.7L440.03 85.45L440.6 85.88L441.18 85.59L441.76 85.45L442.34 85.81L442.91 85.85L443.49 85.65L444.07 85.93L444.65 85.92L445.22 85.55L445.8 85.97L446.38 85.95L446.96 85.91L447.53 85.63L448.11 85.91L448.69 85.96L449.27 85.97L449.85 85.66L450.42 86.03L451 85.57L451.58 85.74L452.16 86.03L452.73 85.51L453.31 85.46L453.89 85.71L454.47 85.25L455.04 85.11L455.62 85.01L456.2 84.92L456.78 83.82L457.36 83.62L457.93 82.84L458.51 81.71L459.09 79.87L459.67 76.11L460.24 68.24L460.82 52.28L461.4 30.49L461.98 20.87L462.55 37.7L463.13 58.71L463.71 71.94L464.29 77.95L464.87 80.68L465.44 82.37L466.02 83.14L466.6 84.05L467.18 84.64L467.75 84.6L468.33 84.99L468.91 85.48L469.49 85.27L470.06 85.55L470.64 85.38L471.22 85.51L471.8 85.64L472.38 86.29L472.95 85.77L473.53 85.79L474.11 85.82L474.69 85.94L475.26 86.14L475.84 86.06L476.42 86.5L477 86.11L477.57 86.4L478.15 86.15L478.73 86.24L479.31 85.8L479.89 86.1L480.46 86.12L481.04 86.09L481.62 85.68L482.2 86.36L482.77 86.08L483.35 86.08L483.93 86.12L484.51 86.13L485.08 86.28L485.66 85.91L486.24 85.99L486.82 86.26L487.39 86.24L487.97 86.12L488.55 86.08L489.13 86.03L489.71 86.2L490.28 86.48L490.86 85.99L491.44 86.55L492.02 86.41L492.59 86.12L493.17 86.4L493.75 85.9L494.33 85.85L494.9 85.94L495.48 86.14L496.06 86.16L496.64 86.12L497.22 86.25L497.79 85.76L498.37 86.34L498.95 85.92L499.53 86.09L500.1 86.14L500.68 85.98L501.26 85.93L501.84 86.01L502.41 86.23L502.99 86.36L503.57 86.36L504.15 86.01L504.73 86.06L505.3 86.03L505.88 86.33L506.46 85.78L507.04 86.5L507.61 86.13L508.19 86.06L508.77 86.31L509.35 86.46L509.92 86.31L510.5 86.46L511.08 86.26L511.66 86.5L512.24 86.5L512.81 86.2L513.39 86.54L513.97 86.26L514.55 86.24L515.12 86.02L515.7 86.16L516.28 86.39L516.86 85.93L517.43 86.36L518.01 86.29L518.59 86.28L519.17 85.73L519.74 86.19L520.32 86.36L520.9 86.04L521.48 86.23L522.06 85.68L522.63 86.35L523.21 86.06L523.79 86.39L524.37 85.79L524.94 86.35L525.52 86.14L526.1 86.37L526.68 85.99L527.25 86.05L527.83 86.68L528.41 86L528.99 86.02L529.57 86.11L530.14 85.95L530.72 86.43L531.3 86.54L531.88 86L532.45 85.77L533.03 86.4L533.61 86.38L534.19 86.31L534.76 86.38L535.34 85.93L535.92 86.07L536.5 85.79L537.08 85.77L537.65 86.29L538.23 85.91L538.81 86.54L539.39 86.03L539.96 85.85L540.54 86.13L541.12 86.32L541.7 85.99L542.27 85.57L542.85 85.87L543.43 86.03L544.01 85.56L544.59 85.43L545.16 85.75L545.74 85.48L546.32 85.13L546.9 85.21L547.47 85.05L548.05 85.22L548.63 85.13L549.21 85.33L549.78 85.22L550.36 84.72L550.94 85.17L551.52 85.31L552.1 85.24L552.67 85.4L553.25 85.07L553.83 84.99L554.41 85.38L554.98 84.89L555.56 84.55L556.14 85.06L556.72 84.34L557.29 83.88L557.87 82.75L558.45 81.49L559.03 79.92L559.6 78.49L560.18 77.85L560.76 77.88L561.34 80.11L561.92 81.37L562.49 82.78L563.07 84.15L563.65 84.63L564.23 84.72L564.8 85.73L565.38 85.31L565.96 85.67L566.54 85.75L567.11 86.09L567.69 85.73L568.27 86.1L568.85 85.75L569.43 86.19L570 85.8L570.58 85.91L571.16 86.43L571.74 86.1L572.31 86.06L572.89 86.54L573.47 86.14L574.05 85.89L574.62 86.24L575.2 85.83L575.78 86.34L576.36 86.36L576.94 85.98L577.51 85.97L578.09 86.15L578.67 86.12L579.25 85.91L579.82 86.25L580.4 85.68L580.98 86.03L581.56 86.04L582.13 86.07L582.71 86.2L583.29 85.87L583.87 86.27L584.45 86.1L585.02 86L585.6 85.84L586.18 85.88L586.76 86.22L587.33 85.93L587.91 86.16L588.49 86.38L589.07 86.37L589.64 86.49L590.22 86.08L590.8 85.91L591.38 86.37L591.95 86.22L592.53 86.4L593.11 86.15L593.69 86.41L594.27 86.33L594.84 86.31L595.42 86.26L596 86.24L596.58 86.2L597.15 86.2L597.73 86.37L598.31 86.03L598.89 86.53L599.46 86.12L600.04 86.36L600.62 86.13L601.2 86.09L601.78 86.59L602.35 86.08L602.93 85.86L603.51 85.99L604.09 86.07L604.66 86.62L605.24 86.19L605.82 86.35L606.4 85.92L606.97 86.22L607.55 86.29L608.13 86.53L608.71 85.98L609.29 86.27L609.86 86.2L610.44 85.91L611.02 86.13L611.6 86.07L612.17 85.62L612.75 86.26L613.33 86.24L613.91 86.03L614.48 85.83L615.06 86.45L615.64 86.18L616.22 86.34L616.8 86.43L617.37 86L617.95 86.29L618.53 86.06L619.11 86.09L619.68 86.09L620.26 86.1L620.84 86.34L621.42 86.12L621.99 86.06L622.57 86.03L623.15 86.16L623.73 85.88L624.31 85.97L624.88 86.06L625.46 85.94L626.04 86.03L626.62 85.92L627.19 86.49L627.77 86.33L628.35 86.13L628.93 86.01L629.5 86.49L630.08 86.07L630.66 85.97L631.24 86.04L631.81 86.02L632.39 86.24L632.97 85.91L633.55 86.35L634.13 85.66L634.7 85.97L635.28 85.55L635.86 86.12L636.44 85.58L637.01 85.56L637.59 85.68L638.17 85.61L638.75 84.91L639.32 84.8L639.9 84.14L640.48 83.83L641.06 82.79L641.64 81.32L642.21 79.42L642.79 77.44L643.37 75.74L643.95 75.74L644.52 77.22L645.1 78.46L645.68 80.8L646.26 82.29L646.83 83.61L647.41 84.05L647.99 84.71L648.57 84.83L649.15 85.43L649.72 85.44L650.3 85.5L650.88 85.7L651.46 85.63L652.03 85.4L652.61 85.92L653.19 85.89L653.77 85.82L654.34 86.1L654.92 86.17L655.5 85.69L656.08 85.77L656.66 86.3L657.23 86.28L657.81 85.82L658.39 85.73L658.97 85.86L659.54 85.9L660.12 85.67L660.7 86.03L661.28 85.74L661.85 85.76L662.43 86.24L663.01 85.89L663.59 86.03L664.16 86.18L664.74 86.23L665.32 85.98L665.9 86.06L666.48 85.88L667.05 86.44L667.63 86.2L668.21 85.82L668.79 86.06L669.36 86.22L669.94 86.17L670.52 86.47L671.1 86.37L671.67 85.95L672.25 86.05L672.83 85.79L673.41 86.13L673.99 86.11L674.56 86.67L675.14 86.09L675.72 85.61L676.3 85.93L676.87 86.1L677.45 85.8L678.03 85.88L678.61 85.99L679.18 86.15L679.76 86.04L680.34 85.88" fill="none" stroke="#6cb41e" stroke-width="1.4" stroke-linejoin="round"/>
<path d="M391.5 133.33L392.08 132.8L392.66 132.81L393.23 132.46L393.81 132.7L394.39 133.27L394.97 132.36L395.54 132.98L396.12 133.3L396.7 132.86L397.28 133.11L397.85 132.56L398.43 133.53L399.01 133.45L399.59 133.1L400.17 132.3L400.74 132.58L401.32 133.39L401.9 133.68L402.48 133.11L403.05 133.49L403.63 132.74L404.21 132.91L404.79 132.98L405.36 133.14L405.94 132.35L406.52 133.33L407.1 133.48L407.68 132.48L408.25 132.38L408.83 133.05L409.41 132.63L409.99 131.93L410.56 133.17L411.14 132.88L411.72 132.59L412.3 133.57L412.87 132.71L413.45 132.25L414.03 132.42L414.61 131.68L415.18 131.32L415.76 131.04L416.34 129.64L416.92 128.59L417.5 128.9L418.07 129.09L418.65 130.13L419.23 131.02L419.81 131.71L420.38 132.53L420.96 132.17L421.54 133.02L422.12 131.89L422.69 132.05L423.27 131.34L423.85 131.3L424.43 131.05L425.01 130.97L425.58 130.24L426.16 131.07L426.74 131.5L427.32 131.76L427.89 131.82L428.47 132.45L429.05 131.79L429.63 132.55L430.2 132.51L430.78 132.22L431.36 132.04L431.94 131.83L432.52 133.03L433.09 131.6L433.67 132.48L434.25 131.6L434.83 130.37L435.4 128.84L435.98 128.57L436.56 128.79L437.14 128.76L437.71 130.12L438.29 131.37L438.87 131.44L439.45 132.19L440.03 131.07L440.6 131.23L441.18 129.95L441.76 130.29L442.34 127.57L442.91 124.91L443.49 124.02L444.07 124.1L444.65 126.61L445.22 127.53L445.8 128.93L446.38 129.84L446.96 130.47L447.53 129.74L448.11 129.89L448.69 129.21L449.27 128.22L449.85 127.5L450.42 126.41L451 124.8L451.58 124.33L452.16 122.03L452.73 121.99L453.31 121.02L453.89 119.67L454.47 118.1L455.04 116.46L455.62 114.35L456.2 111.91L456.78 109.78L457.36 109.39L457.93 109.02L458.51 109.28L459.09 106.74L459.67 102.56L460.24 92.71L460.82 80.26L461.4 76.53L461.98 86.57L462.55 98.96L463.13 110.12L463.71 115.48L464.29 119.69L464.87 121.85L465.44 121.56L466.02 122.84L466.6 124.22L467.18 126.1L467.75 127.63L468.33 128.98L468.91 128.88L469.49 130.49L470.06 129.91L470.64 130.7L471.22 131.27L471.8 131.19L472.38 130.49L472.95 130.36L473.53 130.03L474.11 129.75L474.69 130.18L475.26 129.73L475.84 131.13L476.42 131.76L477 132.12L477.57 132.33L478.15 132.91L478.73 132.6L479.31 132.83L479.89 132.78L480.46 133.33L481.04 131.89L481.62 133.2L482.2 132.61L482.77 132.61L483.35 132.34L483.93 131.96L484.51 132.5L485.08 132.25L485.66 132.48L486.24 131.31L486.82 131.98L487.39 131.18L487.97 131.13L488.55 131.44L489.13 131.9L489.71 132.12L490.28 132.57L490.86 132.92L491.44 132.92L492.02 132.48L492.59 132.98L493.17 132.76L493.75 133.21L494.33 133.91L494.9 133.44L495.48 133.08L496.06 132.57L496.64 132.67L497.22 132.57L497.79 133.55L498.37 132.96L498.95 133.3L499.53 133.04L500.1 133.34L500.68 133.87L501.26 133.04L501.84 133.19L502.41 133.01L502.99 133.69L503.57 132.94L504.15 132.9L504.73 132.81L505.3 132.8L505.88 133.56L506.46 134.41L507.04 132.99L507.61 133.77L508.19 133.5L508.77 132.96L509.35 133.29L509.92 133.32L510.5 133.14L511.08 134.19L511.66 132.66L512.24 133.58L512.81 133.57L513.39 133.2L513.97 133.5L514.55 133.79L515.12 133.51L515.7 133.62L516.28 133.73L516.86 132.64L517.43 134.05L518.01 134.37L518.59 133.85L519.17 133.87L519.74 132.9L520.32 133.41L520.9 133.13L521.48 133.22L522.06 133.83L522.63 133.11L523.21 133.36L523.79 132.62L524.37 133.26L524.94 133.25L525.52 132.72L526.1 132.38L526.68 133.01L527.25 131.55L527.83 131.84L528.41 132.36L528.99 133.5L529.57 134.08L530.14 133.49L530.72 133.13L531.3 133.28L531.88 133.91L532.45 133.13L533.03 134.09L533.61 134.09L534.19 133.56L534.76 133.8L535.34 133.85L535.92 134.18L536.5 133.14L537.08 134.04L537.65 133.42L538.23 133.27L538.81 133.62L539.39 133.49L539.96 133.19L540.54 132.95L541.12 133.21L541.7 134.17L542.27 134.38L542.85 133.85L543.43 134.07L544.01 133.39L544.59 133.57L545.16 133.71L545.74 133.17L546.32 133.21L546.9 133.64L547.47 133.47L548.05 133.17L548.63 133.75L549.21 133.49L549.78 134L550.36 133.58L550.94 133.46L551.52 133.62L552.1 133.49L552.67 133.28L553.25 133.37L553.83 133.81L554.41 133.74L554.98 133.95L555.56 132.69L556.14 133.11L556.72 132.95L557.29 132.94L557.87 132.35L558.45 131.88L559.03 131.9L559.6 131.26L560.18 130.66L560.76 131.97L561.34 132.33L561.92 132.18L562.49 133.13L563.07 132.78L563.65 133.71L564.23 133.29L564.8 133.14L565.38 133.36L565.96 133.25L566.54 133.66L567.11 133.68L567.69 133.64L568.27 133.42L568.85 132.19L569.43 133.7L570 132.92L570.58 133.78L571.16 134.15L571.74 133.81L572.31 133.55L572.89 133.64L573.47 133.67L574.05 133.5L574.62 133.5L575.2 133.36L575.78 134.21L576.36 133.74L576.94 134.13L577.51 133.65L578.09 133.78L578.67 133.69L579.25 133.94L579.82 134.09L580.4 133.86L580.98 133.5L581.56 133.46L582.13 134.44L582.71 133.66L583.29 133.66L583.87 134.37L584.45 134.22L585.02 134L585.6 133.63L586.18 134.73L586.76 133.95L587.33 134.01L587.91 133.73L588.49 133.23L589.07 133.27L589.64 133.96L590.22 133.96L590.8 133.71L591.38 133.34L591.95 133.23L592.53 133.68L593.11 133.23L593.69 134.17L594.27 134.27L594.84 134.94L595.42 134.16L596 133.58L596.58 133.46L597.15 132.43L597.73 133.57L598.31 133.74L598.89 134.2L599.46 134.05L600.04 134.04L600.62 133.89L601.2 134.07L601.78 134.38L602.35 133.37L602.93 133.6L603.51 133.22L604.09 134.42L604.66 134.28L605.24 134.04L605.82 133.24L606.4 133.76L606.97 133.55L607.55 133.62L608.13 133.44L608.71 133.63L609.29 133.16L609.86 133.53L610.44 133.16L611.02 132.82L611.6 132.82L612.17 132.67L612.75 133.22L613.33 132.89L613.91 133.23L614.48 133.08L615.06 132.74L615.64 133.78L616.22 133.06L616.8 133.79L617.37 133.7L617.95 132.87L618.53 133.12L619.11 133.23L619.68 132.99L620.26 132.68L620.84 133.2L621.42 132.48L621.99 132.33L622.57 131.58L623.15 131.56L623.73 131.09L624.31 131.63L624.88 132.28L625.46 132.49L626.04 132.65L626.62 132.68L627.19 133.39L627.77 133.6L628.35 133.45L628.93 133.31L629.5 133.88L630.08 134.68L630.66 133.59L631.24 133.85L631.81 133.88L632.39 132.7L632.97 133.77L633.55 133.43L634.13 134.25L634.7 133.58L635.28 133.34L635.86 133.53L636.44 133.64L637.01 133.28L637.59 133.4L638.17 132.75L638.75 133.02L639.32 133.14L639.9 133.21L640.48 132.12L641.06 131.18L641.64 130.58L642.21 129.49L642.79 128.93L643.37 128.45L643.95 128.45L644.52 129.54L645.1 130.53L645.68 131.49L646.26 132.16L646.83 132.29L647.41 132.13L647.99 132.95L648.57 132.57L649.15 133.53L649.72 133.59L650.3 132.98L650.88 133.97L651.46 134.08L652.03 133.79L652.61 134.44L653.19 134.54L653.77 133.31L654.34 134.21L654.92 133.95L655.5 133.92L656.08 134.07L656.66 133.32L657.23 133.25L657.81 132.98L658.39 132.78L658.97 132.8L659.54 132.04L660.12 132.12L660.7 132.87L661.28 132.84L661.85 133.28L662.43 132.61L663.01 133.25L663.59 133.48L664.16 133.82L664.74 133.64L665.32 134.3L665.9 133.94L666.48 133.99L667.05 134.01L667.63 134.31L668.21 133.85L668.79 134.5L669.36 134.25L669.94 134.13L670.52 134.1L671.1 134.3L671.67 134.5L672.25 134.48L672.83 134.26L673.41 134.46L673.99 134.16L674.56 134.62L675.14 134.12L675.72 133.3L676.3 134.67L676.87 134.18L677.45 133.68L678.03 134.07L678.61 133.8L679.18 135L679.76 134.36L680.34 133.54" fill="none" stroke="#5e9aea" stroke-width="1.4" stroke-linejoin="round"/>
<path d="M391.5 181.85L392.08 181.43L392.66 182.47L393.23 181.13L393.81 180.59L394.39 181.64L394.97 181.45L395.54 181.42L396.12 180.64L396.7 181.79L397.28 182.35L397.85 180.74L398.43 182.12L399.01 181.34L399.59 182.65L400.17 181.78L400.74 181.5L401.32 182.08L401.9 181.81L402.48 181.31L403.05 181.89L403.63 181.33L404.21 180.75L404.79 182.46L405.36 181.38L405.94 181.25L406.52 181.67L407.1 180.8L407.68 180.88L408.25 181.24L408.83 181.21L409.41 181.45L409.99 181.89L410.56 181.14L411.14 181.52L411.72 181.51L412.3 180.67L412.87 181.15L413.45 180.47L414.03 181.12L414.61 180.42L415.18 179.52L415.76 177.8L416.34 176.92L416.92 174.89L417.5 174.75L418.07 175.12L418.65 176.39L419.23 178.63L419.81 179.57L420.38 179.59L420.96 180.68L421.54 180.09L422.12 179.96L422.69 179.76L423.27 178.58L423.85 177.45L424.43 175.93L425.01 175.43L425.58 175.72L426.16 176.47L426.74 178.89L427.32 179.27L427.89 180.14L428.47 180.73L429.05 180.64L429.63 181.68L430.2 180.71L430.78 180.03L431.36 181.08L431.94 180.16L432.52 179.99L433.09 178.4L433.67 179.5L434.25 178.12L434.83 175.89L435.4 172.76L435.98 170.05L436.56 169.17L437.14 172.42L437.71 174.64L438.29 176.76L438.87 178.35L439.45 178.28L440.03 177.18L440.6 176.99L441.18 174.82L441.76 171.14L442.34 166.63L442.91 160.44L443.49 156.95L444.07 160.06L444.65 167.1L445.22 170.64L445.8 174.76L446.38 176.82L446.96 177.79L447.53 177.36L448.11 177.84L448.69 177.85L449.27 177.65L449.85 176.15L450.42 174.61L451 173.82L451.58 171.73L452.16 169.32L452.73 167.54L453.31 167.47L453.89 166.5L454.47 163.97L455.04 156.68L455.62 147.15L456.2 136.91L456.78 135.35L457.36 143.19L457.93 148.16L458.51 145.02L459.09 134.02L459.67 121.15L460.24 124.78L460.82 139.16L461.4 150.71L461.98 157.27L462.55 159.17L463.13 161.11L463.71 163.97L464.29 165.65L464.87 167.01L465.44 166.39L466.02 166.79L466.6 170.36L467.18 172.75L467.75 174.89L468.33 178.34L468.91 178.28L469.49 179.02L470.06 179.27L470.64 179.97L471.22 179.24L471.8 179.34L472.38 177.58L472.95 176.03L473.53 175.28L474.11 173.23L474.69 172.28L475.26 173.83L475.84 176.15L476.42 177.65L477 179.89L477.57 180.22L478.15 180.56L478.73 180.75L479.31 181.21L479.89 181.07L480.46 181.24L481.04 180.42L481.62 181.18L482.2 181.92L482.77 180.64L483.35 180.71L483.93 180.97L484.51 180.64L485.08 179.82L485.66 177.63L486.24 176.75L486.82 173.71L487.39 172.26L487.97 173.46L488.55 175.22L489.13 177.79L489.71 180.24L490.28 179.88L490.86 180L491.44 179.02L492.02 178.68L492.59 178.3L493.17 178.94L493.75 179.38L494.33 180.17L494.9 180.78L495.48 180.65L496.06 180.58L496.64 180.64L497.22 181.43L497.79 181.15L498.37 181.37L498.95 181.04L499.53 179.93L500.1 179.86L500.68 178.61L501.26 180.46L501.84 180.47L502.41 180.37L502.99 180.35L503.57 181.31L504.15 180.43L504.73 180.95L505.3 181.57L505.88 181.12L506.46 180.65L507.04 181.04L507.61 179.94L508.19 180.51L508.77 180.36L509.35 180.5L509.92 181.37L510.5 180.95L511.08 182.42L511.66 181.41L512.24 182.65L512.81 181.31L513.39 182.11L513.97 181.32L514.55 181.27L515.12 181.96L515.7 182.2L516.28 181.33L516.86 182.44L517.43 181.55L518.01 181.96L518.59 182.06L519.17 182.15L519.74 181.06L520.32 182.57L520.9 182.06L521.48 181.58L522.06 181.25L522.63 180.86L523.21 180.89L523.79 181.55L524.37 180.81L524.94 179.82L525.52 178.92L526.1 177.97L526.68 174.8L527.25 173.43L527.83 175.56L528.41 177.48L528.99 179.18L529.57 180.07L530.14 180.28L530.72 180.8L531.3 181.3L531.88 181.54L532.45 181.88L533.03 182.03L533.61 181.92L534.19 181.94L534.76 181.39L535.34 180.87L535.92 181.58L536.5 181.33L537.08 181.38L537.65 181.43L538.23 180.83L538.81 180.69L539.39 180.92L539.96 180.82L540.54 180.36L541.12 180.91L541.7 180.76L542.27 180.63L542.85 181.34L543.43 182.37L544.01 181.39L544.59 182.35L545.16 182.53L545.74 182.66L546.32 181.66L546.9 182.97L547.47 182.15L548.05 182L548.63 182.03L549.21 182.42L549.78 182.18L550.36 182.09L550.94 182.76L551.52 181.86L552.1 181.73L552.67 182.56L553.25 182.53L553.83 182.71L554.41 181.74L554.98 182.72L555.56 182.45L556.14 183.03L556.72 181.68L557.29 182.35L557.87 182.13L558.45 181.54L559.03 181.94L559.6 182.77L560.18 182.06L560.76 181.95L561.34 182.67L561.92 182.72L562.49 182.72L563.07 181.93L563.65 182.26L564.23 182.75L564.8 182L565.38 181.96L565.96 182.67L566.54 183L567.11 181.78L567.69 181.14L568.27 181.66L568.85 181.86L569.43 182.25L570 182.59L570.58 182.25L571.16 182L571.74 182.39L572.31 181.89L572.89 182.31L573.47 182.04L574.05 183.54L574.62 182.7L575.2 181.96L575.78 181.89L576.36 182.14L576.94 181.6L577.51 182.01L578.09 182.01L578.67 182.74L579.25 182.15L579.82 181.99L580.4 181.75L580.98 181.82L581.56 182.32L582.13 182.26L582.71 182.86L583.29 182.07L583.87 182.83L584.45 182.47L585.02 182.36L585.6 181.45L586.18 181.78L586.76 182.69L587.33 182.99L587.91 182.45L588.49 182.7L589.07 182.18L589.64 182.19L590.22 182.06L590.8 182.8L591.38 182.51L591.95 182.25L592.53 182.21L593.11 182.6L593.69 182.5L594.27 181.97L594.84 183.12L595.42 182.46L596 182.34L596.58 183L597.15 182.79L597.73 182.28L598.31 182.55L598.89 181.82L599.46 182.01L600.04 181.27L600.62 182.82L601.2 181.4L601.78 182.54L602.35 181.84L602.93 181.75L603.51 182.07L604.09 182.23L604.66 182.33L605.24 182.79L605.82 182.06L606.4 182.17L606.97 181.34L607.55 181.72L608.13 181.2L608.71 180.59L609.29 180.39L609.86 180L610.44 179.74L611.02 179.57L611.6 179.07L612.17 179.09L612.75 180.04L613.33 179.29L613.91 180.13L614.48 181.42L615.06 179.75L615.64 180.84L616.22 181.58L616.8 180.58L617.37 182.48L617.95 180.05L618.53 181.67L619.11 181.4L619.68 180.6L620.26 179.34L620.84 178.58L621.42 176.76L621.99 176.17L622.57 174.21L623.15 174.27L623.73 175.49L624.31 175.8L624.88 177.51L625.46 178.96L626.04 179.24L626.62 181.07L627.19 181.18L627.77 180.68L628.35 181.56L628.93 181.39L629.5 181.56L630.08 181.97L630.66 181.68L631.24 182.48L631.81 181.77L632.39 182.55L632.97 182.11L633.55 182.53L634.13 181.91L634.7 181.92L635.28 181.63L635.86 182.39L636.44 182.53L637.01 183.03L637.59 182.61L638.17 182.08L638.75 181.78L639.32 181.91L639.9 181.52L640.48 181.89L641.06 181.21L641.64 179.79L642.21 179.04L642.79 179L643.37 177.55L643.95 176.66L644.52 177.3L645.1 177.24L645.68 178.25L646.26 179.13L646.83 179.27L647.41 181.16L647.99 180.66L648.57 181.25L649.15 181.37L649.72 182.16L650.3 181.88L650.88 181.96L651.46 181.23L652.03 181.95L652.61 181.31L653.19 182.08L653.77 182.05L654.34 181.79L654.92 182.57L655.5 181.67L656.08 181.36L656.66 180.68L657.23 179.86L657.81 179.53L658.39 178.62L658.97 176.65L659.54 177.25L660.12 177.2L660.7 178.14L661.28 178.82L661.85 178.86L662.43 179.5L663.01 181.22L663.59 180.66L664.16 179.83L664.74 180.36L665.32 179.62L665.9 178.43L666.48 177.72L667.05 177.71L667.63 178.6L668.21 178.86L668.79 179.39L669.36 180.27L669.94 180.98L670.52 180.24L671.1 181.41L671.67 181.44L672.25 181.45L672.83 181.89L673.41 182.18L673.99 182.19L674.56 181.72L675.14 182.2L675.72 183.37L676.3 182.02L676.87 181.76L677.45 182.67L678.03 182.83L678.61 182.79L679.18 182.1L679.76 183.07L680.34 182.28" fill="none" stroke="#f9aa20" stroke-width="1.4" stroke-linejoin="round"/>
<text x="364.9" y="7.9" font-size="11.5" text-anchor="start" font-weight="bold" fill="#111" >b</text>
<text x="394.7" y="7.2" font-size="9.5" text-anchor="start" font-weight="normal" fill="#222" >Manganese-promoted sample</text>
<text transform="translate(370.4 126.5) rotate(-90)" font-size="9.2" text-anchor="middle" fill="#222">XRD intensity (a.u.)</text>
<line x1="545.3" y1="5.8" x2="556.3" y2="5.8" stroke="#6cb41e" stroke-width="1.2"/>
<line x1="545.3" y1="18.3" x2="556.3" y2="18.3" stroke="#5e9aea" stroke-width="1.2"/>
<line x1="545.3" y1="31.3" x2="556.3" y2="31.3" stroke="#f9aa20" stroke-width="1.2"/>
<rect x="549.5" y="39.7" width="3.3" height="7" fill="#f9aa20"/>
<rect x="549.5" y="54.9" width="3.3" height="7" fill="#5fae16"/>
<text x="560.3" y="9.3" font-size="9.45" text-anchor="start" font-weight="normal" fill="#222" >As prepared</text>
<text x="560.3" y="21.6" font-size="9.45" text-anchor="start" font-weight="normal" fill="#222" >Ramping to 300 ºC</text>
<text x="560.3" y="34.5" font-size="9.45" text-anchor="start" font-weight="normal" fill="#222" >Carburized at 350 ºC for 6 h</text>
<text x="560.3" y="45.8" font-size="9.45" fill="#222">χ-Fe<tspan font-size="6.5" dy="2.7">5</tspan><tspan dy="-2.7">C</tspan><tspan font-size="6.5" dy="2.7">2</tspan><tspan dy="-2.7"> PDF-89-8968</tspan></text>
<text x="560.3" y="60.3" font-size="9.45" text-anchor="start" font-weight="normal" fill="#222" >χ-Fe PDF-65-4899</text>
<text x="2.8" y="282.8" font-size="11.5" font-weight="bold" fill="#111">c</text>
<text x="52.38" y="283.4" font-size="9.3" text-anchor="start" font-weight="normal" fill="#222" >Unpromoted sample</text>
<line x1="47.62" y1="620.1" x2="312.12" y2="620.1" stroke="#6e6e6e" stroke-width="1.15"/>
<line x1="78.9" y1="620.1" x2="78.9" y2="623" stroke="#6e6e6e" stroke-width="0.9"/>
<text x="76.9" y="632.9" font-size="9.3" text-anchor="middle" font-weight="normal" fill="#222" >−10</text>
<line x1="129.6" y1="620.1" x2="129.6" y2="623" stroke="#6e6e6e" stroke-width="0.9"/>
<text x="127.6" y="632.9" font-size="9.3" text-anchor="middle" font-weight="normal" fill="#222" >−5</text>
<line x1="180.3" y1="620.1" x2="180.3" y2="623" stroke="#6e6e6e" stroke-width="0.9"/>
<text x="180.3" y="632.9" font-size="9.3" text-anchor="middle" font-weight="normal" fill="#222" >0</text>
<line x1="231" y1="620.1" x2="231" y2="623" stroke="#6e6e6e" stroke-width="0.9"/>
<text x="231" y="632.9" font-size="9.3" text-anchor="middle" font-weight="normal" fill="#222" >5</text>
<line x1="281.7" y1="620.1" x2="281.7" y2="623" stroke="#6e6e6e" stroke-width="0.9"/>
<text x="281.7" y="632.9" font-size="9.3" text-anchor="middle" font-weight="normal" fill="#222" >10</text>
<text x="181.8" y="651.5" font-size="9.3" text-anchor="middle" fill="#222">Doppler velocity (mm s<tspan font-size="6.2" dy="-3.4">−1</tspan><tspan dy="3.4">)</tspan></text>
<text transform="translate(8.7 453.8) rotate(-90)" font-size="9.3" text-anchor="middle" fill="#222">Intensity (10<tspan font-size="6.5" dy="-3.2">5</tspan><tspan dy="3.2"> counts)</tspan></text>
<line x1="48.2" y1="288.9" x2="48.2" y2="393.4" stroke="#6e6e6e" stroke-width="1.15"/>
<line x1="45.2" y1="302.7" x2="48.2" y2="302.7" stroke="#6e6e6e" stroke-width="0.9"/>
<text x="43.68" y="305.3" font-size="9.3" text-anchor="end" font-weight="normal" fill="#222" >3.6</text>
<line x1="45.2" y1="355.1" x2="48.2" y2="355.1" stroke="#6e6e6e" stroke-width="0.9"/>
<text x="43.68" y="357.7" font-size="9.3" text-anchor="end" font-weight="normal" fill="#222" >3.2</text>
<path d="M59.63 311.86L60.13 312.34L60.63 312.79L61.13 313.54L61.63 313.46L62.13 312.88L62.63 313.74L63.13 312.98L63.63 313.72L64.13 311.65L64.63 311.5L65.13 313.62L65.63 311.68L66.13 312.66L66.63 312.85L67.13 312.5L67.63 312.54L68.13 314.21L68.63 310.68L69.13 313.76L69.63 315.04L70.13 313L70.63 312.97L71.13 313.64L71.63 314.64L72.13 311.93L72.63 313.09L73.13 312.85L73.63 313.53L74.13 313.18L74.63 313.64L75.13 312.67L75.63 313.1L76.13 312.47L76.63 312.48L77.13 312.96L77.63 312.98L78.13 312.06L78.63 314.54L79.13 313.02L79.63 311.91L80.13 314.16L80.63 312.51L81.13 313.66L81.63 313.21L82.13 313.47L82.63 313.42L83.13 312.77L83.63 313.34L84.13 315.16L84.63 311.35L85.13 313.45L85.63 313.82L86.13 312.51L86.63 312.27L87.13 315.49L87.63 313.27L88.13 315.54L88.63 314.23L89.13 313.91L89.63 314.38L90.13 314.66L90.63 315.32L91.13 314.85L91.63 314.83L92.13 315.14L92.63 316.55L93.13 316.47L93.63 315.31L94.13 316.19L94.63 317.69L95.13 317.55L95.63 318.55L96.13 318.89L96.63 320.44L97.13 322.04L97.63 323.56L98.13 323.7L98.63 326.56L99.13 325.57L99.63 329.38L100.13 328.14L100.63 328.24L101.13 327.7L101.63 325.73L102.13 328.01L102.63 327.97L103.13 329L103.63 325.31L104.13 327.44L104.63 324.58L105.13 324.49L105.63 320.58L106.13 322.03L106.63 320.67L107.13 320.73L107.63 319.4L108.13 317.57L108.63 318.81L109.13 318.03L109.63 317.47L110.13 317.45L110.63 317.22L111.13 315.96L111.63 314.57L112.13 314.42L112.63 316.8L113.13 316.2L113.63 315.67L114.13 315.24L114.63 315.76L115.13 315.89L115.63 315.75L116.13 315.66L116.63 318.53L117.13 317.14L117.63 316.84L118.13 316.76L118.63 317.97L119.13 320.14L119.63 321.29L120.13 321.87L120.63 324.06L121.13 326.38L121.63 329.32L122.13 336.67L122.63 343.24L123.13 355.46L123.63 365.56L124.13 378.31L124.63 383.27L125.13 374.87L125.63 360.89L126.13 349.25L126.63 341.17L127.13 335.12L127.63 330.48L128.13 328.62L128.63 326.72L129.13 324.92L129.63 323.96L130.13 323.41L130.63 324.13L131.13 324.69L131.63 324.34L132.13 325.24L132.63 325.19L133.13 324.9L133.63 325.94L134.13 328.14L134.63 328.34L135.13 329.67L135.63 328.38L136.13 328.97L136.63 329.01L137.13 328.15L137.63 326L138.13 325.57L138.63 325L139.13 323.15L139.63 323.66L140.13 323.43L140.63 321.46L141.13 323.18L141.63 320.83L142.13 320.78L142.63 320.85L143.13 320.82L143.63 322.57L144.13 323.42L144.63 326.74L145.13 328.56L145.63 332.58L146.13 337.85L146.63 344.95L147.13 355.69L147.63 362.02L148.13 362.97L148.63 354.24L149.13 346.1L149.63 337.21L150.13 331.44L150.63 326.79L151.13 323.88L151.63 322.21L152.13 320.94L152.63 318.34L153.13 318.56L153.63 319.81L154.13 316.85L154.63 316.28L155.13 315.55L155.63 314.59L156.13 316.74L156.63 315.55L157.13 315.62L157.63 316.89L158.13 317.4L158.63 314.27L159.13 315.97L159.63 315.56L160.13 315.35L160.63 315.43L161.13 315.01L161.63 316.51L162.13 315.71L162.63 315.58L163.13 316.53L163.63 316.4L164.13 316.25L164.63 316.45L165.13 318.17L165.63 317.62L166.13 317.86L166.63 318.22L167.13 320.08L167.63 321.31L168.13 324.83L168.63 328.24L169.13 330.46L169.63 337.82L170.13 344.64L170.63 349.19L171.13 348.57L171.63 345.86L172.13 337.49L172.63 331.1L173.13 326.67L173.63 324.27L174.13 322.72L174.63 321.1L175.13 318.94L175.63 316.73L176.13 316.51L176.63 315.79L177.13 316.06L177.63 314.34L178.13 315.84L178.63 316.17L179.13 315.36L179.63 315.85L180.13 314.58L180.63 314.14L181.13 314.93L181.63 316.65L182.13 316.69L182.63 315.57L183.13 317.36L183.63 316.38L184.13 318.56L184.63 318.35L185.13 318.5L185.63 321L186.13 321.55L186.63 324.23L187.13 327.78L187.63 334.61L188.13 339.8L188.63 342.47L189.13 339.88L189.63 336.26L190.13 329.38L190.63 325.2L191.13 324.33L191.63 322.83L192.13 320.92L192.63 318.66L193.13 319.74L193.63 321.23L194.13 321.36L194.63 323.54L195.13 321.68L195.63 324.05L196.13 322.97L196.63 324.3L197.13 322.18L197.63 322.07L198.13 319.4L198.63 317.63L199.13 316.96L199.63 316.66L200.13 315.71L200.63 317.3L201.13 317.16L201.63 316.05L202.13 314.81L202.63 315.65L203.13 315.21L203.63 317.27L204.13 316.43L204.63 316.84L205.13 316.36L205.63 315.33L206.13 316.99L206.63 317.38L207.13 319.63L207.63 320.6L208.13 321.44L208.63 324.1L209.13 329.07L209.63 331.4L210.13 337.98L210.63 347.32L211.13 356.47L211.63 362.62L212.13 361.17L212.63 353.67L213.13 341.08L213.63 335.12L214.13 329.77L214.63 325.9L215.13 323.17L215.63 321.15L216.13 321L216.63 318.67L217.13 318.23L217.63 317.78L218.13 317.46L218.63 316.91L219.13 317.75L219.63 316.71L220.13 316.82L220.63 316.63L221.13 315.86L221.63 316.17L222.13 316.21L222.63 317.65L223.13 317.25L223.63 317.45L224.13 319.24L224.63 320.22L225.13 319L225.63 323.06L226.13 322.62L226.63 323.65L227.13 325.93L227.63 326.34L228.13 327.08L228.63 330.98L229.13 329.42L229.63 331.68L230.13 333.93L230.63 333.69L231.13 336.27L231.63 338.87L232.13 343.67L232.63 345.05L233.13 352.27L233.63 362.22L234.13 373.67L234.63 383.68L235.13 388.17L235.63 379.54L236.13 365.99L236.63 353.69L237.13 343.74L237.63 336.13L238.13 331.02L238.63 326.13L239.13 324.33L239.63 322.65L240.13 320.56L240.63 319.83L241.13 318.06L241.63 319.44L242.13 319.39L242.63 316.6L243.13 316.91L243.63 316L244.13 317.06L244.63 316.07L245.13 315.54L245.63 315.09L246.13 315.26L246.63 314.11L247.13 315.51L247.63 314.17L248.13 315.21L248.63 314.78L249.13 315.6L249.63 314.56L250.13 315.47L250.63 313.7L251.13 315.09L251.63 314.36L252.13 314.78L252.63 314.73L253.13 315.61L253.63 313.08L254.13 315.36L254.63 313.94L255.13 316.64L255.63 314.11L256.13 315.38L256.63 315.25L257.13 318.77L257.63 316.77L258.13 318.74L258.63 318.94L259.13 318.66L259.63 320.89L260.13 322.75L260.63 322.98L261.13 324.98L261.63 324.77L262.13 325.99L262.63 326.42L263.13 327.71L263.63 329.56L264.13 328.41L264.63 328.26L265.13 327.28L265.63 326.7L266.13 328.05L266.63 324.93L267.13 324.2L267.63 323.96L268.13 322.65L268.63 323.78L269.13 318.9L269.63 320.41L270.13 319.84L270.63 317.37L271.13 317.05L271.63 317.36L272.13 317.85L272.63 315.05L273.13 314.02L273.63 315.95L274.13 316.13L274.63 314.2L275.13 312.29L275.63 315.41L276.13 313.78L276.63 314.85L277.13 313.7L277.63 313.32L278.13 313.18L278.63 314.86L279.13 314.77L279.63 311.51L280.13 312.56L280.63 314.96L281.13 313L281.63 312.08L282.13 313.29L282.63 313.16L283.13 313.15L283.63 312.78L284.13 312.92L284.63 312.77L285.13 313.46L285.63 312.42L286.13 312.87L286.63 312.99L287.13 314.28L287.63 313.43L288.13 312.98L288.63 313.55L289.13 313.43L289.63 314.03L290.13 313.5L290.63 314.65L291.13 314.23L291.63 312.98L292.13 312.63L292.63 313.79L293.13 313.46L293.63 312.9L294.13 311.65L294.63 311.32L295.13 313.28L295.63 313.65L296.13 313.68L296.63 311.79L297.13 313.88L297.63 312.46L298.13 313.28L298.63 313.3L299.13 312.2L299.63 312.39L300.13 311.05L300.63 312.09L301.13 311.29L301.63 313.3L302.13 312.96L302.63 313.72" fill="none" stroke="#383838" stroke-width="1.4" stroke-linejoin="round"/>
<path d="M59.63 312.8L60.13 312.8L60.63 312.81L61.13 312.81L61.63 312.81L62.13 312.81L62.63 312.82L63.13 312.82L63.63 312.82L64.13 312.82L64.63 312.83L65.13 312.83L65.63 312.83L66.13 312.84L66.63 312.84L67.13 312.84L67.63 312.85L68.13 312.85L68.63 312.85L69.13 312.86L69.63 312.86L70.13 312.87L70.63 312.87L71.13 312.87L71.63 312.88L72.13 312.88L72.63 312.89L73.13 312.9L73.63 312.9L74.13 312.91L74.63 312.92L75.13 312.92L75.63 312.93L76.13 312.94L76.63 312.95L77.13 312.95L77.63 312.96L78.13 312.97L78.63 312.98L79.13 312.99L79.63 313.01L80.13 313.02L80.63 313.03L81.13 313.04L81.63 313.06L82.13 313.08L82.63 313.09L83.13 313.11L83.63 313.13L84.13 313.15L84.63 313.18L85.13 313.2L85.63 313.23L86.13 313.27L86.63 313.31L87.13 313.35L87.63 313.4L88.13 313.46L88.63 313.53L89.13 313.62L89.63 313.73L90.13 313.86L90.63 314.02L91.13 314.21L91.63 314.45L92.13 314.73L92.63 315.07L93.13 315.47L93.63 315.94L94.13 316.48L94.63 317.1L95.13 317.8L95.63 318.58L96.13 319.43L96.63 320.35L97.13 321.32L97.63 322.32L98.13 323.33L98.63 324.32L99.13 325.26L99.63 326.1L100.13 326.82L100.63 327.37L101.13 327.7L101.63 327.81L102.13 327.68L102.63 327.31L103.13 326.75L103.63 326.02L104.13 325.16L104.63 324.22L105.13 323.23L105.63 322.22L106.13 321.23L106.63 320.28L107.13 319.38L107.63 318.54L108.13 317.78L108.63 317.1L109.13 316.49L109.63 315.97L110.13 315.52L110.63 315.13L111.13 314.81L111.63 314.54L112.13 314.32L112.63 314.14L113.13 314L113.63 313.88L114.13 313.79L114.63 313.71L115.13 313.65L115.63 313.61L116.13 313.57L116.63 313.54L117.13 313.52L117.63 313.5L118.13 313.49L118.63 313.49L119.13 313.48L119.63 313.48L120.13 313.49L120.63 313.5L121.13 313.51L121.63 313.53L122.13 313.55L122.63 313.59L123.13 313.63L123.63 313.68L124.13 313.74L124.63 313.83L125.13 313.93L125.63 314.06L126.13 314.23L126.63 314.43L127.13 314.69L127.63 315L128.13 315.37L128.63 315.82L129.13 316.35L129.63 316.96L130.13 317.65L130.63 318.42L131.13 319.27L131.63 320.17L132.13 321.12L132.63 322.08L133.13 323.02L133.63 323.9L134.13 324.68L134.63 325.29L135.13 325.69L135.63 325.86L136.13 325.76L136.63 325.41L137.13 324.84L137.63 324.1L138.13 323.24L138.63 322.31L139.13 321.34L139.63 320.38L140.13 319.46L140.63 318.59L141.13 317.8L141.63 317.08L142.13 316.44L142.63 315.89L143.13 315.41L143.63 315.01L144.13 314.68L144.63 314.4L145.13 314.17L145.63 313.99L146.13 313.84L146.63 313.73L147.13 313.63L147.63 313.55L148.13 313.49L148.63 313.43L149.13 313.39L149.63 313.35L150.13 313.32L150.63 313.29L151.13 313.27L151.63 313.25L152.13 313.23L152.63 313.21L153.13 313.2L153.63 313.18L154.13 313.17L154.63 313.16L155.13 313.16L155.63 313.15L156.13 313.15L156.63 313.14L157.13 313.14L157.63 313.14L158.13 313.15L158.63 313.15L159.13 313.16L159.63 313.17L160.13 313.18L160.63 313.19L161.13 313.21L161.63 313.23L162.13 313.26L162.63 313.3L163.13 313.34L163.63 313.4L164.13 313.48L164.63 313.59L165.13 313.75L165.63 313.98L166.13 314.3L166.63 314.74L167.13 315.33L167.63 316.07L168.13 316.97L168.63 317.98L169.13 319.03L169.63 319.99L170.13 320.67L170.63 320.9L171.13 320.6L171.63 319.86L172.13 318.88L172.63 317.83L173.13 316.83L173.63 315.96L174.13 315.23L174.63 314.67L175.13 314.24L175.63 313.93L176.13 313.72L176.63 313.56L177.13 313.46L177.63 313.38L178.13 313.32L178.63 313.28L179.13 313.24L179.63 313.21L180.13 313.19L180.63 313.18L181.13 313.16L181.63 313.15L182.13 313.14L182.63 313.14L183.13 313.14L183.63 313.14L184.13 313.14L184.63 313.15L185.13 313.16L185.63 313.17L186.13 313.19L186.63 313.21L187.13 313.23L187.63 313.26L188.13 313.3L188.63 313.35L189.13 313.41L189.63 313.5L190.13 313.62L190.63 313.79L191.13 314.04L191.63 314.38L192.13 314.85L192.63 315.47L193.13 316.26L193.63 317.21L194.13 318.29L194.63 319.41L195.13 320.43L195.63 321.15L196.13 321.4L196.63 321.08L197.13 320.3L197.63 319.26L198.13 318.15L198.63 317.09L199.13 316.16L199.63 315.39L200.13 314.79L200.63 314.34L201.13 314.01L201.63 313.78L202.13 313.62L202.63 313.51L203.13 313.43L203.63 313.36L204.13 313.32L204.63 313.28L205.13 313.25L205.63 313.23L206.13 313.21L206.63 313.2L207.13 313.18L207.63 313.18L208.13 313.17L208.63 313.16L209.13 313.16L209.63 313.16L210.13 313.16L210.63 313.17L211.13 313.17L211.63 313.18L212.13 313.19L212.63 313.2L213.13 313.21L213.63 313.22L214.13 313.24L214.63 313.26L215.13 313.28L215.63 313.3L216.13 313.33L216.63 313.36L217.13 313.4L217.63 313.45L218.13 313.5L218.63 313.57L219.13 313.65L219.63 313.75L220.13 313.87L220.63 314.02L221.13 314.21L221.63 314.44L222.13 314.72L222.63 315.06L223.13 315.47L223.63 315.96L224.13 316.52L224.63 317.17L225.13 317.9L225.63 318.71L226.13 319.59L226.63 320.52L227.13 321.48L227.63 322.44L228.13 323.37L228.63 324.21L229.13 324.93L229.63 325.47L230.13 325.79L230.63 325.85L231.13 325.66L231.63 325.22L232.13 324.58L232.63 323.79L233.13 322.9L233.63 321.95L234.13 320.99L234.63 320.05L235.13 319.15L235.63 318.32L236.13 317.56L236.63 316.88L237.13 316.28L237.63 315.76L238.13 315.32L238.63 314.96L239.13 314.65L239.63 314.41L240.13 314.21L240.63 314.05L241.13 313.92L241.63 313.82L242.13 313.74L242.63 313.68L243.13 313.63L243.63 313.59L244.13 313.56L244.63 313.53L245.13 313.52L245.63 313.5L246.13 313.5L246.63 313.49L247.13 313.49L247.63 313.5L248.13 313.51L248.63 313.52L249.13 313.54L249.63 313.56L250.13 313.6L250.63 313.64L251.13 313.69L251.63 313.76L252.13 313.84L252.63 313.94L253.13 314.08L253.63 314.24L254.13 314.44L254.63 314.68L255.13 314.98L255.63 315.33L256.13 315.75L256.63 316.24L257.13 316.81L257.63 317.46L258.13 318.18L258.63 318.98L259.13 319.86L259.63 320.79L260.13 321.76L260.63 322.76L261.13 323.76L261.63 324.73L262.13 325.64L262.63 326.43L263.13 327.08L263.63 327.54L264.13 327.78L264.63 327.78L265.13 327.55L265.63 327.1L266.13 326.46L266.63 325.66L267.13 324.76L267.63 323.79L268.13 322.79L268.63 321.78L269.13 320.79L269.63 319.85L270.13 318.97L270.63 318.16L271.13 317.42L271.63 316.76L272.13 316.18L272.63 315.68L273.13 315.25L273.63 314.88L274.13 314.57L274.63 314.32L275.13 314.1L275.63 313.93L276.13 313.79L276.63 313.67L277.13 313.57L277.63 313.49L278.13 313.43L278.63 313.37L279.13 313.33L279.63 313.28L280.13 313.25L280.63 313.22L281.13 313.19L281.63 313.16L282.13 313.14L282.63 313.12L283.13 313.1L283.63 313.08L284.13 313.07L284.63 313.05L285.13 313.04L285.63 313.02L286.13 313.01L286.63 313L287.13 312.99L287.63 312.98L288.13 312.97L288.63 312.96L289.13 312.95L289.63 312.94L290.13 312.93L290.63 312.93L291.13 312.92L291.63 312.91L292.13 312.91L292.63 312.9L293.13 312.89L293.63 312.89L294.13 312.88L294.63 312.88L295.13 312.87L295.63 312.87L296.13 312.86L296.63 312.86L297.13 312.85L297.63 312.85L298.13 312.85L298.63 312.84L299.13 312.84L299.63 312.84L300.13 312.83L300.63 312.83L301.13 312.83L301.63 312.82L302.13 312.82L302.63 312.82" fill="none" stroke="#4f8c16" stroke-width="1.45" stroke-linejoin="round"/>
<path d="M59.63 312.78L60.13 312.78L60.63 312.78L61.13 312.78L61.63 312.78L62.13 312.78L62.63 312.78L63.13 312.79L63.63 312.79L64.13 312.79L64.63 312.79L65.13 312.79L65.63 312.79L66.13 312.79L66.63 312.79L67.13 312.79L67.63 312.8L68.13 312.8L68.63 312.8L69.13 312.8L69.63 312.8L70.13 312.8L70.63 312.81L71.13 312.81L71.63 312.81L72.13 312.81L72.63 312.81L73.13 312.81L73.63 312.82L74.13 312.82L74.63 312.82L75.13 312.82L75.63 312.82L76.13 312.83L76.63 312.83L77.13 312.83L77.63 312.83L78.13 312.83L78.63 312.84L79.13 312.84L79.63 312.84L80.13 312.84L80.63 312.85L81.13 312.85L81.63 312.85L82.13 312.86L82.63 312.86L83.13 312.86L83.63 312.86L84.13 312.87L84.63 312.87L85.13 312.88L85.63 312.88L86.13 312.88L86.63 312.89L87.13 312.89L87.63 312.9L88.13 312.9L88.63 312.9L89.13 312.91L89.63 312.91L90.13 312.92L90.63 312.92L91.13 312.93L91.63 312.94L92.13 312.94L92.63 312.95L93.13 312.96L93.63 312.96L94.13 312.97L94.63 312.98L95.13 312.99L95.63 312.99L96.13 313L96.63 313.01L97.13 313.02L97.63 313.03L98.13 313.04L98.63 313.05L99.13 313.07L99.63 313.08L100.13 313.09L100.63 313.11L101.13 313.12L101.63 313.14L102.13 313.15L102.63 313.17L103.13 313.19L103.63 313.21L104.13 313.23L104.63 313.26L105.13 313.28L105.63 313.31L106.13 313.34L106.63 313.37L107.13 313.4L107.63 313.44L108.13 313.48L108.63 313.52L109.13 313.57L109.63 313.63L110.13 313.68L110.63 313.75L111.13 313.82L111.63 313.9L112.13 313.99L112.63 314.08L113.13 314.2L113.63 314.32L114.13 314.47L114.63 314.63L115.13 314.82L115.63 315.04L116.13 315.3L116.63 315.61L117.13 315.98L117.63 316.42L118.13 316.96L118.63 317.63L119.13 318.48L119.63 319.55L120.13 320.95L120.63 322.81L121.13 325.33L121.63 328.83L122.13 333.79L122.63 340.85L123.13 350.69L123.63 363.05L124.13 374.58L124.63 378.33L125.13 371.22L125.63 358.78L126.13 347.12L126.63 338.29L127.13 332.04L127.63 327.66L128.13 324.55L128.63 322.31L129.13 320.65L129.63 319.4L130.13 318.44L130.63 317.69L131.13 317.1L131.63 316.63L132.13 316.25L132.63 315.94L133.13 315.7L133.63 315.5L134.13 315.34L134.63 315.21L135.13 315.11L135.63 315.04L136.13 315L136.63 314.98L137.13 314.98L137.63 315L138.13 315.05L138.63 315.12L139.13 315.23L139.63 315.37L140.13 315.55L140.63 315.78L141.13 316.07L141.63 316.44L142.13 316.92L142.63 317.53L143.13 318.33L143.63 319.39L144.13 320.82L144.63 322.79L145.13 325.55L145.63 329.5L146.13 335.12L146.63 342.74L147.13 351.53L147.63 357.96L148.13 357.41L148.63 350.34L149.13 341.55L149.63 334.19L150.13 328.81L150.63 325.03L151.13 322.38L151.63 320.47L152.13 319.08L152.63 318.05L153.13 317.26L153.63 316.64L154.13 316.16L154.63 315.78L155.13 315.47L155.63 315.22L156.13 315.01L156.63 314.84L157.13 314.7L157.63 314.59L158.13 314.5L158.63 314.42L159.13 314.37L159.63 314.33L160.13 314.3L160.63 314.29L161.13 314.29L161.63 314.31L162.13 314.34L162.63 314.39L163.13 314.46L163.63 314.56L164.13 314.68L164.63 314.85L165.13 315.06L165.63 315.33L166.13 315.7L166.63 316.18L167.13 316.82L167.63 317.71L168.13 318.96L168.63 320.74L169.13 323.28L169.63 326.77L170.13 331L170.63 334.54L171.13 335.05L171.63 332.1L172.13 327.85L172.63 324.11L173.13 321.34L173.63 319.39L174.13 318.02L174.63 317.06L175.13 316.36L175.63 315.85L176.13 315.47L176.63 315.18L177.13 314.97L177.63 314.81L178.13 314.69L178.63 314.61L179.13 314.56L179.63 314.54L180.13 314.54L180.63 314.57L181.13 314.63L181.63 314.73L182.13 314.86L182.63 315.03L183.13 315.27L183.63 315.59L184.13 316L184.63 316.57L185.13 317.35L185.63 318.43L186.13 319.97L186.63 322.17L187.13 325.26L187.63 329.28L188.13 333.36L188.63 335.32L189.13 333.58L189.63 329.55L190.13 325.49L190.63 322.32L191.13 320.07L191.63 318.49L192.13 317.38L192.63 316.58L193.13 316L193.63 315.56L194.13 315.23L194.63 314.98L195.13 314.79L195.63 314.64L196.13 314.52L196.63 314.43L197.13 314.37L197.63 314.33L198.13 314.3L198.63 314.29L199.13 314.29L199.63 314.31L200.13 314.34L200.63 314.38L201.13 314.45L201.63 314.52L202.13 314.62L202.63 314.74L203.13 314.89L203.63 315.07L204.13 315.29L204.63 315.56L205.13 315.9L205.63 316.31L206.13 316.83L206.63 317.5L207.13 318.36L207.63 319.51L208.13 321.05L208.63 323.17L209.13 326.15L209.63 330.41L210.13 336.43L210.63 344.43L211.13 353.15L211.63 358.5L212.13 356.4L212.63 348.6L213.13 339.96L213.63 333.02L214.13 328.02L214.63 324.51L215.13 322.05L215.63 320.29L216.13 319L216.63 318.03L217.13 317.31L217.63 316.74L218.13 316.31L218.63 315.96L219.13 315.69L219.63 315.48L220.13 315.32L220.63 315.19L221.13 315.1L221.63 315.03L222.13 314.99L222.63 314.97L223.13 314.98L223.63 315.01L224.13 315.06L224.63 315.14L225.13 315.25L225.63 315.39L226.13 315.56L226.63 315.77L227.13 316.04L227.63 316.37L228.13 316.78L228.63 317.28L229.13 317.92L229.63 318.73L230.13 319.78L230.63 321.15L231.13 322.99L231.63 325.48L232.13 328.96L232.63 333.89L233.13 340.94L233.63 350.75L234.13 363.09L234.63 374.59L235.13 378.33L235.63 371.2L236.13 358.73L236.63 347.06L237.13 338.2L237.63 331.92L238.13 327.52L238.63 324.39L239.13 322.12L239.63 320.44L240.13 319.16L240.63 318.17L241.13 317.39L241.63 316.77L242.13 316.26L242.63 315.85L243.13 315.5L243.63 315.21L244.13 314.97L244.63 314.76L245.13 314.57L245.63 314.42L246.13 314.28L246.63 314.16L247.13 314.05L247.63 313.95L248.13 313.87L248.63 313.79L249.13 313.72L249.63 313.66L250.13 313.61L250.63 313.56L251.13 313.51L251.63 313.47L252.13 313.43L252.63 313.39L253.13 313.36L253.63 313.33L254.13 313.3L254.63 313.27L255.13 313.25L255.63 313.23L256.13 313.2L256.63 313.18L257.13 313.17L257.63 313.15L258.13 313.13L258.63 313.12L259.13 313.1L259.63 313.09L260.13 313.07L260.63 313.06L261.13 313.05L261.63 313.04L262.13 313.03L262.63 313.02L263.13 313.01L263.63 313L264.13 312.99L264.63 312.98L265.13 312.97L265.63 312.97L266.13 312.96L266.63 312.95L267.13 312.95L267.63 312.94L268.13 312.93L268.63 312.93L269.13 312.92L269.63 312.92L270.13 312.91L270.63 312.91L271.13 312.9L271.63 312.9L272.13 312.89L272.63 312.89L273.13 312.89L273.63 312.88L274.13 312.88L274.63 312.87L275.13 312.87L275.63 312.87L276.13 312.86L276.63 312.86L277.13 312.86L277.63 312.85L278.13 312.85L278.63 312.85L279.13 312.85L279.63 312.84L280.13 312.84L280.63 312.84L281.13 312.84L281.63 312.83L282.13 312.83L282.63 312.83L283.13 312.83L283.63 312.82L284.13 312.82L284.63 312.82L285.13 312.82L285.63 312.82L286.13 312.81L286.63 312.81L287.13 312.81L287.63 312.81L288.13 312.81L288.63 312.81L289.13 312.8L289.63 312.8L290.13 312.8L290.63 312.8L291.13 312.8L291.63 312.8L292.13 312.8L292.63 312.79L293.13 312.79L293.63 312.79L294.13 312.79L294.63 312.79L295.13 312.79L295.63 312.79L296.13 312.79L296.63 312.78L297.13 312.78L297.63 312.78L298.13 312.78L298.63 312.78L299.13 312.78L299.63 312.78L300.13 312.78L300.63 312.78L301.13 312.78L301.63 312.77L302.13 312.77L302.63 312.77" fill="none" stroke="#79bd1d" stroke-width="1.45" stroke-linejoin="round"/>
<text x="57.9" y="305.8" font-size="9.3" text-anchor="start" font-weight="normal" fill="#222" >Passivated</text>
<text x="58.08" y="347.4" font-size="9.3" fill="#222">χ-Fe:</text>
<text x="88.98" y="347.4" font-size="9.3" fill="#222">64%</text>
<text x="58.08" y="358.8" font-size="9.3" fill="#222">Fe<tspan font-size="6.5" font-style="italic" dy="2.2">x</tspan><tspan dy="-2.2">O:</tspan></text>
<text x="88.98" y="358.8" font-size="9.3" fill="#222">36%</text>
<line x1="48.2" y1="398.3" x2="48.2" y2="504.8" stroke="#6e6e6e" stroke-width="1.15"/>
<line x1="45.2" y1="399.5" x2="48.2" y2="399.5" stroke="#6e6e6e" stroke-width="0.9"/>
<text x="43.68" y="402.1" font-size="9.3" text-anchor="end" font-weight="normal" fill="#222" >5.6</text>
<line x1="45.2" y1="459.5" x2="48.2" y2="459.5" stroke="#6e6e6e" stroke-width="0.9"/>
<text x="43.68" y="462.1" font-size="9.3" text-anchor="end" font-weight="normal" fill="#222" >5.2</text>
<path d="M59.63 412.55L60.13 411.02L60.63 412.53L61.13 411.4L61.63 412.94L62.13 412.49L62.63 410.48L63.13 412L63.63 412.09L64.13 411.53L64.63 413.38L65.13 414.64L65.63 411.43L66.13 411.46L66.63 408.54L67.13 411.8L67.63 411.33L68.13 408.67L68.63 412.44L69.13 412.91L69.63 410.87L70.13 411.43L70.63 410.51L71.13 413.17L71.63 409.66L72.13 411.52L72.63 415L73.13 412.08L73.63 412.72L74.13 411.77L74.63 410.19L75.13 411.95L75.63 412.63L76.13 410.43L76.63 412.53L77.13 413.92L77.63 413.65L78.13 409.56L78.63 410.5L79.13 409.51L79.63 413.65L80.13 412.94L80.63 413.08L81.13 410.65L81.63 410.2L82.13 412.12L82.63 412.16L83.13 410.68L83.63 412.22L84.13 412.99L84.63 412.35L85.13 410.4L85.63 408.75L86.13 411.6L86.63 412.25L87.13 411.6L87.63 411.34L88.13 410.94L88.63 413.1L89.13 411.92L89.63 412.19L90.13 410.5L90.63 411.04L91.13 412.25L91.63 410.45L92.13 410.06L92.63 411.49L93.13 413.85L93.63 412.29L94.13 414.25L94.63 411.8L95.13 411.52L95.63 409.86L96.13 411.11L96.63 414.21L97.13 412.5L97.63 413.13L98.13 413.09L98.63 411.99L99.13 411.68L99.63 412.18L100.13 413.03L100.63 412.71L101.13 412.76L101.63 412.24L102.13 410.81L102.63 411.6L103.13 410.55L103.63 413.55L104.13 408.76L104.63 411.66L105.13 415.68L105.63 411.47L106.13 410.25L106.63 411.97L107.13 413.99L107.63 411.75L108.13 412.94L108.63 412.15L109.13 411.43L109.63 416.85L110.13 412.11L110.63 411.17L111.13 411.25L111.63 412.59L112.13 412.63L112.63 413.19L113.13 412.22L113.63 409.8L114.13 412.82L114.63 411.52L115.13 411.56L115.63 409.72L116.13 411.12L116.63 410.88L117.13 411.94L117.63 409.76L118.13 412.08L118.63 412.19L119.13 410.28L119.63 411.04L120.13 410.68L120.63 413.4L121.13 408.11L121.63 411.48L122.13 409.46L122.63 411.37L123.13 413.35L123.63 411.09L124.13 412.29L124.63 410.8L125.13 415.11L125.63 413.56L126.13 413.91L126.63 410.17L127.13 410.55L127.63 413.94L128.13 412.02L128.63 411.97L129.13 412.93L129.63 410.54L130.13 413.7L130.63 412.68L131.13 413.6L131.63 412.19L132.13 414.36L132.63 413.08L133.13 415.97L133.63 416.78L134.13 417.13L134.63 417.38L135.13 418.33L135.63 416.46L136.13 421.84L136.63 423.22L137.13 426.11L137.63 428.32L138.13 429.88L138.63 433.3L139.13 437.26L139.63 441.14L140.13 442.94L140.63 447.68L141.13 456.71L141.63 462.03L142.13 470.83L142.63 472.49L143.13 470.85L143.63 468.66L144.13 466.28L144.63 462.18L145.13 463.77L145.63 461.3L146.13 462.04L146.63 459.5L147.13 457.51L147.63 458.39L148.13 457.35L148.63 455.81L149.13 452.02L149.63 447.3L150.13 442.8L150.63 438.24L151.13 433.98L151.63 430.03L152.13 428.85L152.63 425.7L153.13 427.23L153.63 426.55L154.13 428.85L154.63 428L155.13 428.24L155.63 430.88L156.13 431.68L156.63 436.41L157.13 440.77L157.63 449.8L158.13 456.55L158.63 465.87L159.13 477.11L159.63 483.25L160.13 482.03L160.63 479.1L161.13 474.05L161.63 469.98L162.13 465.77L162.63 460.27L163.13 452.33L163.63 446.7L164.13 443.79L164.63 436.94L165.13 434.16L165.63 429.96L166.13 428.71L166.63 429.79L167.13 430.9L167.63 433.92L168.13 435.48L168.63 438.02L169.13 440.06L169.63 439.92L170.13 437.68L170.63 435.8L171.13 431.39L171.63 429.3L172.13 429.29L172.63 429.35L173.13 431.5L173.63 433.63L174.13 438.7L174.63 442.34L175.13 451.39L175.63 457.17L176.13 464.36L176.63 462.93L177.13 461.71L177.63 454.66L178.13 449.71L178.63 445.1L179.13 438.22L179.63 435.09L180.13 430.52L180.63 424.94L181.13 423.87L181.63 421.68L182.13 419.49L182.63 422.34L183.13 424.33L183.63 428.56L184.13 434.44L184.63 438.75L185.13 445.55L185.63 445.9L186.13 452.07L186.63 456.25L187.13 456.77L187.63 458.65L188.13 459.97L188.63 455.34L189.13 450.63L189.63 445.39L190.13 439.08L190.63 435.39L191.13 431.21L191.63 431.5L192.13 429.1L192.63 429.99L193.13 430.03L193.63 428.83L194.13 431.88L194.63 431.71L195.13 431.97L195.63 430.7L196.13 432.21L196.63 433.4L197.13 435.22L197.63 436.62L198.13 440.27L198.63 443.13L199.13 447.65L199.63 451.99L200.13 458.77L200.63 462.45L201.13 463.8L201.63 469.83L202.13 474.53L202.63 479.28L203.13 481.33L203.63 483.47L204.13 483.81L204.63 483.05L205.13 477.46L205.63 471.02L206.13 463.92L206.63 458.39L207.13 450.5L207.63 441.33L208.13 435.95L208.63 430.19L209.13 428.47L209.63 426.46L210.13 426.27L210.63 426.24L211.13 425.22L211.63 426.23L212.13 426.08L212.63 429.67L213.13 429.66L213.63 431.63L214.13 431.3L214.63 431.36L215.13 436.46L215.63 437.38L216.13 439.73L216.63 441.98L217.13 444.7L217.63 446.58L218.13 446.37L218.63 450.15L219.13 450.07L219.63 451.52L220.13 455.04L220.63 456.37L221.13 458.33L221.63 460.71L222.13 466.3L222.63 469.99L223.13 471.81L223.63 471.59L224.13 468.64L224.63 460.79L225.13 453.08L225.63 445.57L226.13 439.13L226.63 430.87L227.13 426.43L227.63 423.96L228.13 421.13L228.63 419.95L229.13 420.97L229.63 418.17L230.13 418.19L230.63 416.03L231.13 415.96L231.63 413.09L232.13 414.76L232.63 416.01L233.13 416.96L233.63 415.34L234.13 414.32L234.63 413.17L235.13 412.06L235.63 412.64L236.13 413.72L236.63 411.5L237.13 414.05L237.63 411.04L238.13 409.75L238.63 410.86L239.13 409.79L239.63 410.18L240.13 413.98L240.63 411.89L241.13 412.49L241.63 413.9L242.13 414.02L242.63 411.28L243.13 414.08L243.63 412.61L244.13 412.01L244.63 412.68L245.13 409.8L245.63 410.79L246.13 411.83L246.63 412.94L247.13 411.43L247.63 411.8L248.13 413.49L248.63 414.17L249.13 413.18L249.63 413.95L250.13 411.38L250.63 411.53L251.13 412.49L251.63 411.54L252.13 411.22L252.63 414.54L253.13 411.69L253.63 410.51L254.13 412.75L254.63 414.83L255.13 412.12L255.63 413.9L256.13 411.33L256.63 411.24L257.13 410.94L257.63 411.78L258.13 414.83L258.63 410.22L259.13 414.52L259.63 410.45L260.13 411.64L260.63 413.29L261.13 412.97L261.63 412.43L262.13 409.46L262.63 412.56L263.13 410.43L263.63 415.96L264.13 411.67L264.63 412.29L265.13 410.23L265.63 411.26L266.13 410.01L266.63 413.51L267.13 411.6L267.63 412.87L268.13 410.95L268.63 411.23L269.13 413.98L269.63 410.5L270.13 409.23L270.63 412.63L271.13 410.24L271.63 411.32L272.13 413.4L272.63 410.74L273.13 413.35L273.63 410.95L274.13 414.3L274.63 414.04L275.13 411.27L275.63 411.67L276.13 410.72L276.63 412.31L277.13 413.77L277.63 409.77L278.13 413.41L278.63 409.96L279.13 410.68L279.63 409.25L280.13 415.24L280.63 412.09L281.13 412.38L281.63 410.96L282.13 413.64L282.63 408.76L283.13 412.04L283.63 415.4L284.13 411.41L284.63 412.03L285.13 413.04L285.63 410.75L286.13 412.04L286.63 413.48L287.13 412.3L287.63 412.57L288.13 411.46L288.63 412.49L289.13 412.09L289.63 414.24L290.13 413.12L290.63 411.62L291.13 408.23L291.63 413.1L292.13 413.16L292.63 410.59L293.13 408.92L293.63 410.24L294.13 413.43L294.63 410.36L295.13 411.29L295.63 412.34L296.13 413.89L296.63 411.97L297.13 411.85L297.63 411.15L298.13 414.51L298.63 413.64L299.13 411.85L299.63 409.85L300.13 410.78L300.63 412.89L301.13 410.89L301.63 413.37L302.13 412.56L302.63 412.45" fill="none" stroke="#383838" stroke-width="1.4" stroke-linejoin="round"/>
<path d="M59.63 412.04L60.13 412.04L60.63 412.04L61.13 412.04L61.63 412.04L62.13 412.04L62.63 412.04L63.13 412.04L63.63 412.04L64.13 412.04L64.63 412.04L65.13 412.04L65.63 412.04L66.13 412.04L66.63 412.04L67.13 412.04L67.63 412.04L68.13 412.04L68.63 412.04L69.13 412.04L69.63 412.04L70.13 412.05L70.63 412.05L71.13 412.05L71.63 412.05L72.13 412.05L72.63 412.05L73.13 412.05L73.63 412.05L74.13 412.05L74.63 412.05L75.13 412.05L75.63 412.05L76.13 412.05L76.63 412.05L77.13 412.05L77.63 412.05L78.13 412.05L78.63 412.06L79.13 412.06L79.63 412.06L80.13 412.06L80.63 412.06L81.13 412.06L81.63 412.06L82.13 412.06L82.63 412.06L83.13 412.06L83.63 412.06L84.13 412.06L84.63 412.06L85.13 412.07L85.63 412.07L86.13 412.07L86.63 412.07L87.13 412.07L87.63 412.07L88.13 412.07L88.63 412.07L89.13 412.07L89.63 412.07L90.13 412.08L90.63 412.08L91.13 412.08L91.63 412.08L92.13 412.08L92.63 412.08L93.13 412.08L93.63 412.09L94.13 412.09L94.63 412.09L95.13 412.09L95.63 412.09L96.13 412.09L96.63 412.09L97.13 412.1L97.63 412.1L98.13 412.1L98.63 412.1L99.13 412.1L99.63 412.11L100.13 412.11L100.63 412.11L101.13 412.11L101.63 412.11L102.13 412.12L102.63 412.12L103.13 412.12L103.63 412.12L104.13 412.13L104.63 412.13L105.13 412.13L105.63 412.13L106.13 412.14L106.63 412.14L107.13 412.14L107.63 412.15L108.13 412.15L108.63 412.15L109.13 412.16L109.63 412.16L110.13 412.17L110.63 412.17L111.13 412.17L111.63 412.18L112.13 412.18L112.63 412.19L113.13 412.19L113.63 412.2L114.13 412.21L114.63 412.21L115.13 412.22L115.63 412.22L116.13 412.23L116.63 412.24L117.13 412.25L117.63 412.26L118.13 412.26L118.63 412.27L119.13 412.28L119.63 412.29L120.13 412.3L120.63 412.32L121.13 412.33L121.63 412.34L122.13 412.36L122.63 412.37L123.13 412.39L123.63 412.4L124.13 412.42L124.63 412.44L125.13 412.46L125.63 412.49L126.13 412.51L126.63 412.54L127.13 412.57L127.63 412.6L128.13 412.64L128.63 412.68L129.13 412.72L129.63 412.77L130.13 412.83L130.63 412.89L131.13 412.96L131.63 413.03L132.13 413.12L132.63 413.22L133.13 413.34L133.63 413.47L134.13 413.63L134.63 413.81L135.13 414.03L135.63 414.29L136.13 414.6L136.63 415L137.13 415.48L137.63 416.1L138.13 416.91L138.63 417.97L139.13 419.41L139.63 421.42L140.13 424.28L140.63 428.48L141.13 434.67L141.63 443.47L142.13 454.08L142.63 461.72L143.13 459.98L143.63 450.56L144.13 440.3L144.63 432.44L145.13 427.04L145.63 423.39L146.13 420.9L146.63 419.15L147.13 417.89L147.63 416.98L148.13 416.29L148.63 415.78L149.13 415.39L149.63 415.09L150.13 414.87L150.63 414.72L151.13 414.61L151.63 414.56L152.13 414.55L152.63 414.59L153.13 414.68L153.63 414.82L154.13 415.04L154.63 415.34L155.13 415.75L155.63 416.33L156.13 417.12L156.63 418.23L157.13 419.82L157.63 422.16L158.13 425.63L158.63 430.69L159.13 437.39L159.63 443.77L160.13 445.35L160.63 440.6L161.13 433.59L161.63 427.68L162.13 423.5L162.63 420.67L163.13 418.74L163.63 417.4L164.13 416.45L164.63 415.75L165.13 415.23L165.63 414.84L166.13 414.54L166.63 414.31L167.13 414.14L167.63 414.01L168.13 413.92L168.63 413.86L169.13 413.83L169.63 413.84L170.13 413.87L170.63 413.94L171.13 414.06L171.63 414.23L172.13 414.48L172.63 414.83L173.13 415.32L173.63 416.04L174.13 417.08L174.63 418.63L175.13 420.92L175.63 424.04L176.13 427.32L176.63 428.72L177.13 426.93L177.63 423.59L178.13 420.58L178.63 418.41L179.13 416.95L179.63 415.97L180.13 415.31L180.63 414.85L181.13 414.54L181.63 414.33L182.13 414.21L182.63 414.15L183.13 414.14L183.63 414.2L184.13 414.32L184.63 414.52L185.13 414.83L185.63 415.27L186.13 415.92L186.63 416.87L187.13 418.3L187.63 420.41L188.13 423.37L188.63 426.74L189.13 428.7L189.63 427.49L190.13 424.26L190.63 421.1L191.13 418.75L191.63 417.16L192.13 416.09L192.63 415.36L193.13 414.86L193.63 414.5L194.13 414.25L194.63 414.07L195.13 413.95L195.63 413.88L196.13 413.84L196.63 413.83L197.13 413.86L197.63 413.91L198.13 414L198.63 414.13L199.13 414.3L199.63 414.52L200.13 414.82L200.63 415.2L201.13 415.71L201.63 416.39L202.13 417.33L202.63 418.64L203.13 420.52L203.63 423.28L204.13 427.36L204.63 433.16L205.13 440.17L205.63 445.21L206.13 444.06L206.63 437.84L207.13 431.08L207.63 425.9L208.13 422.34L208.63 419.95L209.13 418.31L209.63 417.18L210.13 416.37L210.63 415.79L211.13 415.36L211.63 415.05L212.13 414.83L212.63 414.69L213.13 414.59L213.63 414.55L214.13 414.56L214.63 414.61L215.13 414.71L215.63 414.86L216.13 415.08L216.63 415.36L217.13 415.75L217.63 416.25L218.13 416.93L218.63 417.83L219.13 419.06L219.63 420.77L220.13 423.2L220.63 426.76L221.13 432.03L221.63 439.72L222.13 449.86L222.63 459.54L223.13 461.93L223.63 454.74L224.13 444.12L224.63 435.15L225.13 428.81L225.63 424.51L226.13 421.57L226.63 419.52L227.13 418.05L227.63 416.97L228.13 416.15L228.63 415.52L229.13 415.02L229.63 414.63L230.13 414.31L230.63 414.04L231.13 413.82L231.63 413.64L232.13 413.48L232.63 413.34L233.13 413.23L233.63 413.13L234.13 413.04L234.63 412.96L235.13 412.89L235.63 412.83L236.13 412.78L236.63 412.73L237.13 412.68L237.63 412.64L238.13 412.61L238.63 412.57L239.13 412.54L239.63 412.51L240.13 412.49L240.63 412.47L241.13 412.44L241.63 412.42L242.13 412.41L242.63 412.39L243.13 412.37L243.63 412.36L244.13 412.34L244.63 412.33L245.13 412.32L245.63 412.3L246.13 412.29L246.63 412.28L247.13 412.27L247.63 412.26L248.13 412.26L248.63 412.25L249.13 412.24L249.63 412.23L250.13 412.23L250.63 412.22L251.13 412.21L251.63 412.21L252.13 412.2L252.63 412.19L253.13 412.19L253.63 412.18L254.13 412.18L254.63 412.17L255.13 412.17L255.63 412.17L256.13 412.16L256.63 412.16L257.13 412.15L257.63 412.15L258.13 412.15L258.63 412.14L259.13 412.14L259.63 412.14L260.13 412.13L260.63 412.13L261.13 412.13L261.63 412.13L262.13 412.12L262.63 412.12L263.13 412.12L263.63 412.12L264.13 412.11L264.63 412.11L265.13 412.11L265.63 412.11L266.13 412.11L266.63 412.1L267.13 412.1L267.63 412.1L268.13 412.1L268.63 412.1L269.13 412.09L269.63 412.09L270.13 412.09L270.63 412.09L271.13 412.09L271.63 412.09L272.13 412.09L272.63 412.08L273.13 412.08L273.63 412.08L274.13 412.08L274.63 412.08L275.13 412.08L275.63 412.08L276.13 412.08L276.63 412.07L277.13 412.07L277.63 412.07L278.13 412.07L278.63 412.07L279.13 412.07L279.63 412.07L280.13 412.07L280.63 412.07L281.13 412.06L281.63 412.06L282.13 412.06L282.63 412.06L283.13 412.06L283.63 412.06L284.13 412.06L284.63 412.06L285.13 412.06L285.63 412.06L286.13 412.06L286.63 412.06L287.13 412.06L287.63 412.05L288.13 412.05L288.63 412.05L289.13 412.05L289.63 412.05L290.13 412.05L290.63 412.05L291.13 412.05L291.63 412.05L292.13 412.05L292.63 412.05L293.13 412.05L293.63 412.05L294.13 412.05L294.63 412.05L295.13 412.05L295.63 412.05L296.13 412.04L296.63 412.04L297.13 412.04L297.63 412.04L298.13 412.04L298.63 412.04L299.13 412.04L299.63 412.04L300.13 412.04L300.63 412.04L301.13 412.04L301.63 412.04L302.13 412.04L302.63 412.04" fill="none" stroke="#c6832a" stroke-width="1.45" stroke-linejoin="round"/>
<path d="M59.63 412.03L60.13 412.03L60.63 412.03L61.13 412.03L61.63 412.03L62.13 412.03L62.63 412.03L63.13 412.03L63.63 412.03L64.13 412.03L64.63 412.03L65.13 412.03L65.63 412.03L66.13 412.03L66.63 412.03L67.13 412.03L67.63 412.04L68.13 412.04L68.63 412.04L69.13 412.04L69.63 412.04L70.13 412.04L70.63 412.04L71.13 412.04L71.63 412.04L72.13 412.04L72.63 412.04L73.13 412.04L73.63 412.04L74.13 412.04L74.63 412.04L75.13 412.04L75.63 412.04L76.13 412.04L76.63 412.04L77.13 412.04L77.63 412.04L78.13 412.04L78.63 412.04L79.13 412.05L79.63 412.05L80.13 412.05L80.63 412.05L81.13 412.05L81.63 412.05L82.13 412.05L82.63 412.05L83.13 412.05L83.63 412.05L84.13 412.05L84.63 412.05L85.13 412.05L85.63 412.05L86.13 412.05L86.63 412.05L87.13 412.06L87.63 412.06L88.13 412.06L88.63 412.06L89.13 412.06L89.63 412.06L90.13 412.06L90.63 412.06L91.13 412.06L91.63 412.06L92.13 412.06L92.63 412.07L93.13 412.07L93.63 412.07L94.13 412.07L94.63 412.07L95.13 412.07L95.63 412.07L96.13 412.07L96.63 412.07L97.13 412.07L97.63 412.08L98.13 412.08L98.63 412.08L99.13 412.08L99.63 412.08L100.13 412.08L100.63 412.08L101.13 412.09L101.63 412.09L102.13 412.09L102.63 412.09L103.13 412.09L103.63 412.09L104.13 412.1L104.63 412.1L105.13 412.1L105.63 412.1L106.13 412.1L106.63 412.11L107.13 412.11L107.63 412.11L108.13 412.11L108.63 412.11L109.13 412.12L109.63 412.12L110.13 412.12L110.63 412.12L111.13 412.13L111.63 412.13L112.13 412.13L112.63 412.14L113.13 412.14L113.63 412.14L114.13 412.15L114.63 412.15L115.13 412.15L115.63 412.16L116.13 412.16L116.63 412.17L117.13 412.17L117.63 412.18L118.13 412.18L118.63 412.19L119.13 412.19L119.63 412.2L120.13 412.2L120.63 412.21L121.13 412.22L121.63 412.22L122.13 412.23L122.63 412.24L123.13 412.25L123.63 412.26L124.13 412.27L124.63 412.28L125.13 412.29L125.63 412.3L126.13 412.31L126.63 412.32L127.13 412.34L127.63 412.35L128.13 412.37L128.63 412.38L129.13 412.4L129.63 412.42L130.13 412.44L130.63 412.47L131.13 412.49L131.63 412.52L132.13 412.55L132.63 412.58L133.13 412.62L133.63 412.66L134.13 412.7L134.63 412.75L135.13 412.81L135.63 412.87L136.13 412.94L136.63 413.02L137.13 413.12L137.63 413.22L138.13 413.35L138.63 413.49L139.13 413.67L139.63 413.87L140.13 414.12L140.63 414.42L141.13 414.8L141.63 415.28L142.13 415.89L142.63 416.69L143.13 417.76L143.63 419.24L144.13 421.32L144.63 424.34L145.13 428.8L145.63 435.29L146.13 443.85L146.63 452.01L147.13 454.06L147.63 448.05L148.13 439.17L148.63 431.68L149.13 426.39L149.63 422.83L150.13 420.41L150.63 418.74L151.13 417.56L151.63 416.72L152.13 416.11L152.63 415.66L153.13 415.34L153.63 415.12L154.13 414.99L154.63 414.92L155.13 414.93L155.63 415.01L156.13 415.17L156.63 415.43L157.13 415.81L157.63 416.36L158.13 417.16L158.63 418.3L159.13 419.98L159.63 422.47L160.13 426.17L160.63 431.35L161.13 437.24L161.63 440.65L162.13 438.53L162.63 432.86L163.13 427.31L163.63 423.19L164.13 420.39L164.63 418.49L165.13 417.18L165.63 416.26L166.13 415.6L166.63 415.12L167.13 414.77L167.63 414.5L168.13 414.31L168.63 414.18L169.13 414.1L169.63 414.06L170.13 414.06L170.63 414.11L171.13 414.21L171.63 414.38L172.13 414.62L172.63 414.98L173.13 415.51L173.63 416.27L174.13 417.41L174.63 419.11L175.13 421.58L175.63 424.71L176.13 427.35L176.63 427.46L177.13 424.93L177.63 421.79L178.13 419.29L178.63 417.56L179.13 416.41L179.63 415.64L180.13 415.13L180.63 414.8L181.13 414.59L181.63 414.49L182.13 414.47L182.63 414.53L183.13 414.69L183.63 414.96L184.13 415.38L184.63 416.01L185.13 416.96L185.63 418.4L186.13 420.52L186.63 423.44L187.13 426.5L187.63 427.8L188.13 426.12L188.63 422.98L189.13 420.15L189.63 418.12L190.13 416.75L190.63 415.83L191.13 415.2L191.63 414.77L192.13 414.48L192.63 414.28L193.13 414.15L193.63 414.08L194.13 414.05L194.63 414.07L195.13 414.14L195.63 414.25L196.13 414.41L196.63 414.63L197.13 414.94L197.63 415.36L198.13 415.93L198.63 416.72L199.13 417.82L199.63 419.41L200.13 421.75L200.63 425.21L201.13 430.14L201.63 436.08L202.13 440.36L202.63 439.4L203.13 434.13L203.63 428.4L204.13 424.02L204.63 421.01L205.13 419L205.63 417.64L206.13 416.7L206.63 416.04L207.13 415.59L207.63 415.28L208.13 415.07L208.63 414.96L209.13 414.92L209.63 414.95L210.13 415.05L210.63 415.23L211.13 415.5L211.63 415.88L212.13 416.41L212.63 417.14L213.13 418.14L213.63 419.56L214.13 421.59L214.63 424.56L215.13 428.97L215.63 435.42L216.13 443.93L216.63 452.04L217.13 454.05L217.63 448L218.13 439.07L218.63 431.53L219.13 426.2L219.63 422.58L220.13 420.11L220.63 418.38L221.13 417.14L221.63 416.23L222.13 415.54L222.63 415.01L223.13 414.59L223.63 414.25L224.13 413.98L224.63 413.76L225.13 413.57L225.63 413.41L226.13 413.28L226.63 413.17L227.13 413.07L227.63 412.98L228.13 412.9L228.63 412.84L229.13 412.78L229.63 412.73L230.13 412.68L230.63 412.64L231.13 412.6L231.63 412.56L232.13 412.53L232.63 412.5L233.13 412.48L233.63 412.45L234.13 412.43L234.63 412.41L235.13 412.39L235.63 412.37L236.13 412.36L236.63 412.34L237.13 412.33L237.63 412.32L238.13 412.3L238.63 412.29L239.13 412.28L239.63 412.27L240.13 412.26L240.63 412.25L241.13 412.24L241.63 412.24L242.13 412.23L242.63 412.22L243.13 412.21L243.63 412.21L244.13 412.2L244.63 412.2L245.13 412.19L245.63 412.18L246.13 412.18L246.63 412.17L247.13 412.17L247.63 412.16L248.13 412.16L248.63 412.16L249.13 412.15L249.63 412.15L250.13 412.15L250.63 412.14L251.13 412.14L251.63 412.14L252.13 412.13L252.63 412.13L253.13 412.13L253.63 412.12L254.13 412.12L254.63 412.12L255.13 412.12L255.63 412.11L256.13 412.11L256.63 412.11L257.13 412.11L257.63 412.1L258.13 412.1L258.63 412.1L259.13 412.1L259.63 412.1L260.13 412.09L260.63 412.09L261.13 412.09L261.63 412.09L262.13 412.09L262.63 412.09L263.13 412.08L263.63 412.08L264.13 412.08L264.63 412.08L265.13 412.08L265.63 412.08L266.13 412.08L266.63 412.08L267.13 412.07L267.63 412.07L268.13 412.07L268.63 412.07L269.13 412.07L269.63 412.07L270.13 412.07L270.63 412.07L271.13 412.07L271.63 412.06L272.13 412.06L272.63 412.06L273.13 412.06L273.63 412.06L274.13 412.06L274.63 412.06L275.13 412.06L275.63 412.06L276.13 412.06L276.63 412.06L277.13 412.06L277.63 412.05L278.13 412.05L278.63 412.05L279.13 412.05L279.63 412.05L280.13 412.05L280.63 412.05L281.13 412.05L281.63 412.05L282.13 412.05L282.63 412.05L283.13 412.05L283.63 412.05L284.13 412.05L284.63 412.05L285.13 412.05L285.63 412.04L286.13 412.04L286.63 412.04L287.13 412.04L287.63 412.04L288.13 412.04L288.63 412.04L289.13 412.04L289.63 412.04L290.13 412.04L290.63 412.04L291.13 412.04L291.63 412.04L292.13 412.04L292.63 412.04L293.13 412.04L293.63 412.04L294.13 412.04L294.63 412.04L295.13 412.04L295.63 412.04L296.13 412.04L296.63 412.03L297.13 412.03L297.63 412.03L298.13 412.03L298.63 412.03L299.13 412.03L299.63 412.03L300.13 412.03L300.63 412.03L301.13 412.03L301.63 412.03L302.13 412.03L302.63 412.03" fill="none" stroke="#f5a71b" stroke-width="1.45" stroke-linejoin="round"/>
<path d="M59.63 412.02L60.13 412.02L60.63 412.02L61.13 412.02L61.63 412.02L62.13 412.02L62.63 412.02L63.13 412.02L63.63 412.02L64.13 412.02L64.63 412.02L65.13 412.02L65.63 412.02L66.13 412.02L66.63 412.02L67.13 412.02L67.63 412.02L68.13 412.02L68.63 412.02L69.13 412.02L69.63 412.02L70.13 412.02L70.63 412.02L71.13 412.02L71.63 412.02L72.13 412.02L72.63 412.02L73.13 412.02L73.63 412.02L74.13 412.02L74.63 412.02L75.13 412.03L75.63 412.03L76.13 412.03L76.63 412.03L77.13 412.03L77.63 412.03L78.13 412.03L78.63 412.03L79.13 412.03L79.63 412.03L80.13 412.03L80.63 412.03L81.13 412.03L81.63 412.03L82.13 412.03L82.63 412.03L83.13 412.03L83.63 412.03L84.13 412.03L84.63 412.03L85.13 412.03L85.63 412.03L86.13 412.03L86.63 412.03L87.13 412.03L87.63 412.03L88.13 412.03L88.63 412.03L89.13 412.03L89.63 412.03L90.13 412.03L90.63 412.04L91.13 412.04L91.63 412.04L92.13 412.04L92.63 412.04L93.13 412.04L93.63 412.04L94.13 412.04L94.63 412.04L95.13 412.04L95.63 412.04L96.13 412.04L96.63 412.04L97.13 412.04L97.63 412.04L98.13 412.04L98.63 412.04L99.13 412.04L99.63 412.04L100.13 412.05L100.63 412.05L101.13 412.05L101.63 412.05L102.13 412.05L102.63 412.05L103.13 412.05L103.63 412.05L104.13 412.05L104.63 412.05L105.13 412.05L105.63 412.05L106.13 412.05L106.63 412.05L107.13 412.06L107.63 412.06L108.13 412.06L108.63 412.06L109.13 412.06L109.63 412.06L110.13 412.06L110.63 412.06L111.13 412.06L111.63 412.06L112.13 412.07L112.63 412.07L113.13 412.07L113.63 412.07L114.13 412.07L114.63 412.07L115.13 412.07L115.63 412.07L116.13 412.08L116.63 412.08L117.13 412.08L117.63 412.08L118.13 412.08L118.63 412.08L119.13 412.08L119.63 412.09L120.13 412.09L120.63 412.09L121.13 412.09L121.63 412.09L122.13 412.1L122.63 412.1L123.13 412.1L123.63 412.1L124.13 412.1L124.63 412.11L125.13 412.11L125.63 412.11L126.13 412.11L126.63 412.12L127.13 412.12L127.63 412.12L128.13 412.13L128.63 412.13L129.13 412.13L129.63 412.14L130.13 412.14L130.63 412.14L131.13 412.15L131.63 412.15L132.13 412.16L132.63 412.16L133.13 412.17L133.63 412.17L134.13 412.18L134.63 412.18L135.13 412.19L135.63 412.19L136.13 412.2L136.63 412.21L137.13 412.22L137.63 412.22L138.13 412.23L138.63 412.24L139.13 412.25L139.63 412.26L140.13 412.27L140.63 412.28L141.13 412.29L141.63 412.31L142.13 412.32L142.63 412.33L143.13 412.35L143.63 412.37L144.13 412.39L144.63 412.41L145.13 412.43L145.63 412.45L146.13 412.48L146.63 412.51L147.13 412.54L147.63 412.57L148.13 412.61L148.63 412.66L149.13 412.71L149.63 412.76L150.13 412.83L150.63 412.9L151.13 412.98L151.63 413.08L152.13 413.19L152.63 413.32L153.13 413.48L153.63 413.66L154.13 413.89L154.63 414.18L155.13 414.53L155.63 414.99L156.13 415.58L156.63 416.38L157.13 417.46L157.63 418.98L158.13 421.14L158.63 424.25L159.13 428.56L159.63 433.77L160.13 437.98L160.63 438.2L161.13 434.3L161.63 429.21L162.13 424.97L162.63 421.96L163.13 419.93L163.63 418.6L164.13 417.77L164.63 417.3L165.13 417.13L165.63 417.23L166.13 417.65L166.63 418.44L167.13 419.74L167.63 421.74L168.13 424.57L168.63 427.86L169.13 430.13L169.63 429.55L170.13 426.6L170.63 423.25L171.13 420.57L171.63 418.69L172.13 417.41L172.63 416.55L173.13 415.99L173.63 415.65L174.13 415.48L174.63 415.48L175.13 415.64L175.63 416.01L176.13 416.64L176.63 417.63L177.13 419.05L177.63 420.71L178.13 421.86L178.63 421.61L179.13 420.19L179.63 418.59L180.13 417.35L180.63 416.55L181.13 416.1L181.63 415.93L182.13 416.03L182.63 416.4L183.13 417.1L183.63 418.22L184.13 419.75L184.63 421.31L185.13 421.95L185.63 421.11L186.13 419.48L186.63 417.96L187.13 416.86L187.63 416.14L188.13 415.72L188.63 415.5L189.13 415.47L189.63 415.59L190.13 415.88L190.63 416.38L191.13 417.15L191.63 418.3L192.13 420L192.63 422.46L193.13 425.69L193.63 428.92L194.13 430.29L194.63 428.65L195.13 425.43L195.63 422.41L196.13 420.19L196.63 418.72L197.13 417.81L197.63 417.31L198.13 417.13L198.63 417.23L199.13 417.61L199.63 418.34L200.13 419.52L200.63 421.34L201.13 424.06L201.63 427.97L202.13 432.95L202.63 437.47L203.13 438.51L203.63 435.11L204.13 429.89L204.63 425.27L205.13 421.86L205.63 419.47L206.13 417.81L206.63 416.63L207.13 415.77L207.63 415.13L208.13 414.64L208.63 414.26L209.13 413.96L209.63 413.72L210.13 413.52L210.63 413.36L211.13 413.22L211.63 413.1L212.13 413L212.63 412.92L213.13 412.84L213.63 412.78L214.13 412.72L214.63 412.67L215.13 412.63L215.63 412.58L216.13 412.55L216.63 412.52L217.13 412.49L217.63 412.46L218.13 412.43L218.63 412.41L219.13 412.39L219.63 412.37L220.13 412.35L220.63 412.34L221.13 412.32L221.63 412.31L222.13 412.3L222.63 412.28L223.13 412.27L223.63 412.26L224.13 412.25L224.63 412.24L225.13 412.23L225.63 412.23L226.13 412.22L226.63 412.21L227.13 412.2L227.63 412.2L228.13 412.19L228.63 412.18L229.13 412.18L229.63 412.17L230.13 412.17L230.63 412.16L231.13 412.16L231.63 412.15L232.13 412.15L232.63 412.15L233.13 412.14L233.63 412.14L234.13 412.13L234.63 412.13L235.13 412.13L235.63 412.12L236.13 412.12L236.63 412.12L237.13 412.12L237.63 412.11L238.13 412.11L238.63 412.11L239.13 412.11L239.63 412.1L240.13 412.1L240.63 412.1L241.13 412.1L241.63 412.09L242.13 412.09L242.63 412.09L243.13 412.09L243.63 412.09L244.13 412.09L244.63 412.08L245.13 412.08L245.63 412.08L246.13 412.08L246.63 412.08L247.13 412.08L247.63 412.07L248.13 412.07L248.63 412.07L249.13 412.07L249.63 412.07L250.13 412.07L250.63 412.07L251.13 412.07L251.63 412.06L252.13 412.06L252.63 412.06L253.13 412.06L253.63 412.06L254.13 412.06L254.63 412.06L255.13 412.06L255.63 412.06L256.13 412.06L256.63 412.05L257.13 412.05L257.63 412.05L258.13 412.05L258.63 412.05L259.13 412.05L259.63 412.05L260.13 412.05L260.63 412.05L261.13 412.05L261.63 412.05L262.13 412.05L262.63 412.05L263.13 412.05L263.63 412.04L264.13 412.04L264.63 412.04L265.13 412.04L265.63 412.04L266.13 412.04L266.63 412.04L267.13 412.04L267.63 412.04L268.13 412.04L268.63 412.04L269.13 412.04L269.63 412.04L270.13 412.04L270.63 412.04L271.13 412.04L271.63 412.04L272.13 412.04L272.63 412.04L273.13 412.03L273.63 412.03L274.13 412.03L274.63 412.03L275.13 412.03L275.63 412.03L276.13 412.03L276.63 412.03L277.13 412.03L277.63 412.03L278.13 412.03L278.63 412.03L279.13 412.03L279.63 412.03L280.13 412.03L280.63 412.03L281.13 412.03L281.63 412.03L282.13 412.03L282.63 412.03L283.13 412.03L283.63 412.03L284.13 412.03L284.63 412.03L285.13 412.03L285.63 412.03L286.13 412.03L286.63 412.03L287.13 412.03L287.63 412.03L288.13 412.03L288.63 412.02L289.13 412.02L289.63 412.02L290.13 412.02L290.63 412.02L291.13 412.02L291.63 412.02L292.13 412.02L292.63 412.02L293.13 412.02L293.63 412.02L294.13 412.02L294.63 412.02L295.13 412.02L295.63 412.02L296.13 412.02L296.63 412.02L297.13 412.02L297.63 412.02L298.13 412.02L298.63 412.02L299.13 412.02L299.63 412.02L300.13 412.02L300.63 412.02L301.13 412.02L301.63 412.02L302.13 412.02L302.63 412.02" fill="none" stroke="#fcd28a" stroke-width="1.45" stroke-linejoin="round"/>
<text x="57.5" y="404.7" font-size="9.3" text-anchor="start" font-weight="normal" fill="#222" >Carburized</text>
<text x="58.08" y="444.2" font-size="9.3" fill="#222">χ-Fe<tspan font-size="6.5" dy="2.8">5</tspan><tspan dy="-2.8">C</tspan><tspan font-size="6.5" dy="2.8">2</tspan><tspan dy="-2.8">:</tspan></text>
<text x="98.98" y="444.2" font-size="9.3" fill="#222">100%</text>
<line x1="48.2" y1="515.1" x2="48.2" y2="620.2" stroke="#6e6e6e" stroke-width="1.15"/>
<line x1="45.2" y1="532.2" x2="48.2" y2="532.2" stroke="#6e6e6e" stroke-width="0.9"/>
<text x="43.68" y="534.8" font-size="9.3" text-anchor="end" font-weight="normal" fill="#222" >6.0</text>
<line x1="45.2" y1="602.2" x2="48.2" y2="602.2" stroke="#6e6e6e" stroke-width="0.9"/>
<text x="43.68" y="604.8" font-size="9.3" text-anchor="end" font-weight="normal" fill="#222" >5.6</text>
<path d="M59.63 528.51L60.13 528.27L60.63 526.18L61.13 527L61.63 531.1L62.13 525.64L62.63 526.77L63.13 529.14L63.63 527.25L64.13 526.25L64.63 525.46L65.13 528.33L65.63 529.07L66.13 529.66L66.63 527.58L67.13 529.11L67.63 525.91L68.13 527.76L68.63 526.46L69.13 527.77L69.63 528.66L70.13 529.15L70.63 525.98L71.13 529.45L71.63 526.77L72.13 525.92L72.63 527.24L73.13 525.25L73.63 527.51L74.13 527.95L74.63 527.19L75.13 528.33L75.63 527.02L76.13 527.51L76.63 525.28L77.13 527.57L77.63 526.19L78.13 526.81L78.63 527.36L79.13 527.79L79.63 524.96L80.13 525.09L80.63 527.03L81.13 528.23L81.63 528.05L82.13 528.87L82.63 529.5L83.13 528.26L83.63 527.47L84.13 525.91L84.63 526.04L85.13 526.78L85.63 527.91L86.13 527.84L86.63 527.51L87.13 527.26L87.63 528.47L88.13 527.82L88.63 527.96L89.13 527.97L89.63 526.66L90.13 525.91L90.63 528.26L91.13 528.14L91.63 527.16L92.13 526.86L92.63 531.01L93.13 526.33L93.63 527.16L94.13 527.91L94.63 525.72L95.13 527.68L95.63 530.27L96.13 528.94L96.63 528.47L97.13 528.41L97.63 527.67L98.13 528.98L98.63 527.26L99.13 526.85L99.63 527.66L100.13 528.89L100.63 528.01L101.13 528.54L101.63 524.38L102.13 529.34L102.63 531.1L103.13 529.56L103.63 527.01L104.13 526.19L104.63 527.93L105.13 525.98L105.63 528.62L106.13 526.69L106.63 528.98L107.13 529.6L107.63 524.37L108.13 527.95L108.63 526.42L109.13 525.33L109.63 526.55L110.13 527.16L110.63 529.09L111.13 525.16L111.63 529.12L112.13 530.61L112.63 528.42L113.13 528.34L113.63 527.48L114.13 525.69L114.63 528.32L115.13 528.09L115.63 528.63L116.13 531.46L116.63 528.62L117.13 528.16L117.63 529.91L118.13 525.43L118.63 525.74L119.13 526.92L119.63 526.49L120.13 528.57L120.63 527.01L121.13 530.19L121.63 529.86L122.13 528.71L122.63 526.94L123.13 528.5L123.63 528.82L124.13 525.95L124.63 528.15L125.13 528.73L125.63 528.01L126.13 530.12L126.63 529.61L127.13 526.51L127.63 528.02L128.13 526.59L128.63 528.81L129.13 526.64L129.63 529.45L130.13 528.69L130.63 529.73L131.13 528.29L131.63 526.7L132.13 531.91L132.63 529.66L133.13 532.39L133.63 531.84L134.13 532.9L134.63 534.98L135.13 534.35L135.63 536.94L136.13 536.63L136.63 541.45L137.13 543.42L137.63 546.44L138.13 549.47L138.63 552.85L139.13 557.34L139.63 557.94L140.13 563.75L140.63 568.81L141.13 578.47L141.63 585.55L142.13 593.45L142.63 596.66L143.13 596.65L143.63 592.56L144.13 587.86L144.63 586.7L145.13 584.21L145.63 584.74L146.13 584.3L146.63 582.02L147.13 582.42L147.63 578.51L148.13 577.09L148.63 574.54L149.13 571.35L149.63 567.4L150.13 563.09L150.63 558.14L151.13 553.71L151.63 548.66L152.13 546.05L152.63 544.74L153.13 546.69L153.63 542.19L154.13 544.13L154.63 546.42L155.13 547.09L155.63 547.9L156.13 551.38L156.63 556.94L157.13 563.54L157.63 568.72L158.13 578.8L158.63 590.86L159.13 603.41L159.63 609.7L160.13 607.23L160.63 603L161.13 600.07L161.63 596.39L162.13 589.84L162.63 582.28L163.13 576.83L163.63 567.62L164.13 563.69L164.63 556.62L165.13 551.94L165.63 547.98L166.13 547.15L166.63 545.37L167.13 548.07L167.63 550.52L168.13 555.85L168.63 557.73L169.13 559.49L169.63 557.11L170.13 555.3L170.63 553.44L171.13 549.32L171.63 547.74L172.13 546.83L172.63 547.13L173.13 548.61L173.63 554.3L174.13 557.36L174.63 564.35L175.13 570.51L175.63 579.43L176.13 584.72L176.63 586.34L177.13 584.73L177.63 578.67L178.13 571.28L178.63 564.48L179.13 559.14L179.63 553.72L180.13 549.63L180.63 544.85L181.13 538.92L181.63 537.84L182.13 538.5L182.63 538.46L183.13 542.35L183.63 547.03L184.13 552.87L184.63 559.94L185.13 563.53L185.63 567.16L186.13 570.1L186.63 576.88L187.13 579.25L187.63 581.3L188.13 582.79L188.63 578.45L189.13 569.84L189.63 565.5L190.13 559.43L190.63 554.78L191.13 553L191.63 548.29L192.13 547.05L192.63 546.6L193.13 547.02L193.63 549.03L194.13 547.44L194.63 548.06L195.13 548.77L195.63 550.37L196.13 550.86L196.63 553.42L197.13 553.99L197.63 555.82L198.13 559.12L198.63 563.1L199.13 567.3L199.63 574.24L200.13 581.58L200.63 584.81L201.13 589.87L201.63 595.83L202.13 598.89L202.63 603.14L203.13 606.56L203.63 610.29L204.13 611.19L204.63 608.39L205.13 603.25L205.63 597.09L206.13 588.7L206.63 579.04L207.13 572.29L207.63 563L208.13 555.03L208.63 548.91L209.13 545.49L209.63 543.33L210.13 541.11L210.63 542.77L211.13 542.74L211.63 544.41L212.13 544.07L212.63 545.72L213.13 546.48L213.63 547.69L214.13 550.61L214.63 551.4L215.13 554.44L215.63 555.57L216.13 559.3L216.63 560.4L217.13 564L217.63 566.26L218.13 569.12L218.63 570.4L219.13 571.63L219.63 574.12L220.13 575.38L220.63 578.03L221.13 581.76L221.63 585.3L222.13 589.48L222.63 593.89L223.13 595.96L223.63 597.59L224.13 594.37L224.63 585.59L225.13 574.14L225.63 564.11L226.13 557.57L226.63 549.79L227.13 544.78L227.63 540.32L228.13 538.3L228.63 537.42L229.13 534.94L229.63 534.15L230.13 535.22L230.63 534.31L231.13 532.68L231.63 531.6L232.13 529.38L232.63 530.87L233.13 529.71L233.63 529.55L234.13 528.15L234.63 528.67L235.13 528.27L235.63 528.92L236.13 530.5L236.63 528.79L237.13 525.62L237.63 526.58L238.13 525.55L238.63 526.68L239.13 528.68L239.63 528.38L240.13 526.78L240.63 528.06L241.13 526.44L241.63 525.38L242.13 525.36L242.63 526.17L243.13 529.65L243.63 525.39L244.13 529.35L244.63 529.47L245.13 527.15L245.63 527.35L246.13 526.48L246.63 527.39L247.13 528.44L247.63 527.44L248.13 528.96L248.63 529.25L249.13 527.95L249.63 527.92L250.13 527.33L250.63 527.95L251.13 525.71L251.63 528.04L252.13 527.74L252.63 526.1L253.13 530.73L253.63 525.93L254.13 526.08L254.63 527.85L255.13 524.44L255.63 526.2L256.13 525.08L256.63 525.93L257.13 527.21L257.63 527.91L258.13 529.11L258.63 528.66L259.13 529.24L259.63 528.32L260.13 526.7L260.63 529.13L261.13 526.67L261.63 526.47L262.13 529.77L262.63 528.63L263.13 527.75L263.63 528.57L264.13 528.77L264.63 525.32L265.13 527.27L265.63 525.6L266.13 527.6L266.63 526.38L267.13 529.5L267.63 528.21L268.13 526.17L268.63 527.39L269.13 525.55L269.63 527.48L270.13 528.26L270.63 527.82L271.13 524.45L271.63 526.9L272.13 528.2L272.63 527.88L273.13 529.2L273.63 525.44L274.13 528.22L274.63 526.41L275.13 527.71L275.63 528.04L276.13 528.47L276.63 526.52L277.13 527.7L277.63 525.61L278.13 525.24L278.63 528.27L279.13 527.33L279.63 524.92L280.13 526.1L280.63 527.44L281.13 529.81L281.63 529.02L282.13 528.64L282.63 524.66L283.13 527.26L283.63 528.15L284.13 528.02L284.63 528.05L285.13 527.05L285.63 530.12L286.13 529.68L286.63 527.27L287.13 525.9L287.63 530.57L288.13 526.56L288.63 529.25L289.13 530.35L289.63 525.96L290.13 527.86L290.63 526.87L291.13 528.2L291.63 527.9L292.13 530.41L292.63 528.32L293.13 527.4L293.63 529.14L294.13 526.99L294.63 526.85L295.13 530.86L295.63 526.15L296.13 526.66L296.63 527.48L297.13 525.78L297.63 524.16L298.13 529.04L298.63 526.2L299.13 526.58L299.63 526.84L300.13 525.9L300.63 525.76L301.13 527.66L301.63 531.1L302.13 528.54L302.63 528.56" fill="none" stroke="#5c2b70" stroke-width="1.4" stroke-linejoin="round"/>
<path d="M59.63 527.54L60.13 527.54L60.63 527.54L61.13 527.54L61.63 527.54L62.13 527.54L62.63 527.54L63.13 527.54L63.63 527.54L64.13 527.55L64.63 527.55L65.13 527.55L65.63 527.55L66.13 527.55L66.63 527.55L67.13 527.55L67.63 527.55L68.13 527.55L68.63 527.55L69.13 527.55L69.63 527.55L70.13 527.55L70.63 527.55L71.13 527.55L71.63 527.55L72.13 527.55L72.63 527.55L73.13 527.56L73.63 527.56L74.13 527.56L74.63 527.56L75.13 527.56L75.63 527.56L76.13 527.56L76.63 527.56L77.13 527.56L77.63 527.56L78.13 527.56L78.63 527.56L79.13 527.56L79.63 527.56L80.13 527.57L80.63 527.57L81.13 527.57L81.63 527.57L82.13 527.57L82.63 527.57L83.13 527.57L83.63 527.57L84.13 527.57L84.63 527.57L85.13 527.57L85.63 527.58L86.13 527.58L86.63 527.58L87.13 527.58L87.63 527.58L88.13 527.58L88.63 527.58L89.13 527.58L89.63 527.59L90.13 527.59L90.63 527.59L91.13 527.59L91.63 527.59L92.13 527.59L92.63 527.59L93.13 527.6L93.63 527.6L94.13 527.6L94.63 527.6L95.13 527.6L95.63 527.6L96.13 527.61L96.63 527.61L97.13 527.61L97.63 527.61L98.13 527.61L98.63 527.62L99.13 527.62L99.63 527.62L100.13 527.62L100.63 527.62L101.13 527.63L101.63 527.63L102.13 527.63L102.63 527.63L103.13 527.64L103.63 527.64L104.13 527.64L104.63 527.65L105.13 527.65L105.63 527.65L106.13 527.66L106.63 527.66L107.13 527.66L107.63 527.67L108.13 527.67L108.63 527.68L109.13 527.68L109.63 527.68L110.13 527.69L110.63 527.69L111.13 527.7L111.63 527.7L112.13 527.71L112.63 527.72L113.13 527.72L113.63 527.73L114.13 527.73L114.63 527.74L115.13 527.75L115.63 527.76L116.13 527.76L116.63 527.77L117.13 527.78L117.63 527.79L118.13 527.8L118.63 527.81L119.13 527.82L119.63 527.83L120.13 527.85L120.63 527.86L121.13 527.87L121.63 527.89L122.13 527.91L122.63 527.92L123.13 527.94L123.63 527.96L124.13 527.98L124.63 528L125.13 528.03L125.63 528.06L126.13 528.09L126.63 528.12L127.13 528.15L127.63 528.19L128.13 528.23L128.63 528.28L129.13 528.33L129.63 528.38L130.13 528.44L130.63 528.51L131.13 528.59L131.63 528.68L132.13 528.78L132.63 528.89L133.13 529.02L133.63 529.18L134.13 529.35L134.63 529.56L135.13 529.81L135.63 530.11L136.13 530.47L136.63 530.91L137.13 531.47L137.63 532.18L138.13 533.09L138.63 534.31L139.13 535.95L139.63 538.24L140.13 541.5L140.63 546.29L141.13 553.35L141.63 563.37L142.13 575.47L142.63 584.18L143.13 582.2L143.63 571.45L144.13 559.76L144.63 550.81L145.13 544.65L145.63 540.49L146.13 537.64L146.63 535.65L147.13 534.22L147.63 533.17L148.13 532.39L148.63 531.8L149.13 531.36L149.63 531.02L150.13 530.78L150.63 530.6L151.13 530.48L151.63 530.42L152.13 530.41L152.63 530.45L153.13 530.55L153.63 530.72L154.13 530.96L154.63 531.31L155.13 531.78L155.63 532.43L156.13 533.33L156.63 534.6L157.13 536.42L157.63 539.08L158.13 543.04L158.63 548.81L159.13 556.44L159.63 563.72L160.13 565.52L160.63 560.1L161.13 552.12L161.63 545.38L162.13 540.61L162.63 537.38L163.13 535.19L163.63 533.66L164.13 532.57L164.63 531.77L165.13 531.18L165.63 530.74L166.13 530.39L166.63 530.13L167.13 529.94L167.63 529.79L168.13 529.69L168.63 529.62L169.13 529.59L169.63 529.59L170.13 529.63L170.63 529.72L171.13 529.85L171.63 530.05L172.13 530.33L172.63 530.72L173.13 531.29L173.63 532.1L174.13 533.29L174.63 535.06L175.13 537.67L175.63 541.22L176.13 544.96L176.63 546.56L177.13 544.52L177.63 540.71L178.13 537.28L178.63 534.81L179.13 533.14L179.63 532.02L180.13 531.27L180.63 530.75L181.13 530.4L181.63 530.16L182.13 530.02L182.63 529.95L183.13 529.95L183.63 530.01L184.13 530.15L184.63 530.38L185.13 530.72L185.63 531.23L186.13 531.97L186.63 533.06L187.13 534.68L187.63 537.09L188.13 540.47L188.63 544.3L189.13 546.54L189.63 545.16L190.13 541.48L190.63 537.87L191.13 535.2L191.63 533.39L192.13 532.16L192.63 531.33L193.13 530.76L193.63 530.35L194.13 530.06L194.63 529.86L195.13 529.72L195.63 529.64L196.13 529.59L196.63 529.59L197.13 529.62L197.63 529.68L198.13 529.78L198.63 529.93L199.13 530.12L199.63 530.38L200.13 530.71L200.63 531.15L201.13 531.73L201.63 532.51L202.13 533.58L202.63 535.07L203.13 537.22L203.63 540.36L204.13 545.01L204.63 551.63L205.13 559.61L205.63 565.36L206.13 564.05L206.63 556.96L207.13 549.25L207.63 543.35L208.13 539.29L208.63 536.56L209.13 534.7L209.63 533.4L210.13 532.48L210.63 531.82L211.13 531.33L211.63 530.98L212.13 530.73L212.63 530.56L213.13 530.46L213.63 530.41L214.13 530.42L214.63 530.47L215.13 530.59L215.63 530.76L216.13 531.01L216.63 531.34L217.13 531.77L217.63 532.35L218.13 533.11L218.63 534.14L219.13 535.54L219.63 537.49L220.13 540.27L220.63 544.33L221.13 550.34L221.63 559.1L222.13 570.67L222.63 581.69L223.13 584.42L223.63 576.22L224.13 564.11L224.63 553.89L225.13 546.66L225.63 541.76L226.13 538.41L226.63 536.07L227.13 534.4L227.63 533.16L228.13 532.23L228.63 531.51L229.13 530.95L229.63 530.49L230.13 530.13L230.63 529.83L231.13 529.58L231.63 529.37L232.13 529.19L232.63 529.03L233.13 528.9L233.63 528.79L234.13 528.68L234.63 528.6L235.13 528.52L235.63 528.45L236.13 528.39L236.63 528.33L237.13 528.28L237.63 528.23L238.13 528.19L238.63 528.15L239.13 528.12L239.63 528.09L240.13 528.06L240.63 528.03L241.13 528.01L241.63 527.98L242.13 527.96L242.63 527.94L243.13 527.92L243.63 527.91L244.13 527.89L244.63 527.88L245.13 527.86L245.63 527.85L246.13 527.84L246.63 527.82L247.13 527.81L247.63 527.8L248.13 527.79L248.63 527.78L249.13 527.77L249.63 527.76L250.13 527.76L250.63 527.75L251.13 527.74L251.63 527.73L252.13 527.73L252.63 527.72L253.13 527.72L253.63 527.71L254.13 527.7L254.63 527.7L255.13 527.69L255.63 527.69L256.13 527.68L256.63 527.68L257.13 527.68L257.63 527.67L258.13 527.67L258.63 527.66L259.13 527.66L259.63 527.66L260.13 527.65L260.63 527.65L261.13 527.65L261.63 527.64L262.13 527.64L262.63 527.64L263.13 527.64L263.63 527.63L264.13 527.63L264.63 527.63L265.13 527.62L265.63 527.62L266.13 527.62L266.63 527.62L267.13 527.62L267.63 527.61L268.13 527.61L268.63 527.61L269.13 527.61L269.63 527.61L270.13 527.6L270.63 527.6L271.13 527.6L271.63 527.6L272.13 527.6L272.63 527.6L273.13 527.59L273.63 527.59L274.13 527.59L274.63 527.59L275.13 527.59L275.63 527.59L276.13 527.59L276.63 527.58L277.13 527.58L277.63 527.58L278.13 527.58L278.63 527.58L279.13 527.58L279.63 527.58L280.13 527.58L280.63 527.57L281.13 527.57L281.63 527.57L282.13 527.57L282.63 527.57L283.13 527.57L283.63 527.57L284.13 527.57L284.63 527.57L285.13 527.57L285.63 527.57L286.13 527.56L286.63 527.56L287.13 527.56L287.63 527.56L288.13 527.56L288.63 527.56L289.13 527.56L289.63 527.56L290.13 527.56L290.63 527.56L291.13 527.56L291.63 527.56L292.13 527.56L292.63 527.56L293.13 527.55L293.63 527.55L294.13 527.55L294.63 527.55L295.13 527.55L295.63 527.55L296.13 527.55L296.63 527.55L297.13 527.55L297.63 527.55L298.13 527.55L298.63 527.55L299.13 527.55L299.63 527.55L300.13 527.55L300.63 527.55L301.13 527.55L301.63 527.55L302.13 527.54L302.63 527.54" fill="none" stroke="#c6832a" stroke-width="1.45" stroke-linejoin="round"/>
<path d="M59.63 527.53L60.13 527.53L60.63 527.53L61.13 527.54L61.63 527.54L62.13 527.54L62.63 527.54L63.13 527.54L63.63 527.54L64.13 527.54L64.63 527.54L65.13 527.54L65.63 527.54L66.13 527.54L66.63 527.54L67.13 527.54L67.63 527.54L68.13 527.54L68.63 527.54L69.13 527.54L69.63 527.54L70.13 527.54L70.63 527.54L71.13 527.54L71.63 527.54L72.13 527.54L72.63 527.54L73.13 527.54L73.63 527.55L74.13 527.55L74.63 527.55L75.13 527.55L75.63 527.55L76.13 527.55L76.63 527.55L77.13 527.55L77.63 527.55L78.13 527.55L78.63 527.55L79.13 527.55L79.63 527.55L80.13 527.55L80.63 527.55L81.13 527.55L81.63 527.55L82.13 527.56L82.63 527.56L83.13 527.56L83.63 527.56L84.13 527.56L84.63 527.56L85.13 527.56L85.63 527.56L86.13 527.56L86.63 527.56L87.13 527.56L87.63 527.56L88.13 527.57L88.63 527.57L89.13 527.57L89.63 527.57L90.13 527.57L90.63 527.57L91.13 527.57L91.63 527.57L92.13 527.57L92.63 527.57L93.13 527.58L93.63 527.58L94.13 527.58L94.63 527.58L95.13 527.58L95.63 527.58L96.13 527.58L96.63 527.58L97.13 527.59L97.63 527.59L98.13 527.59L98.63 527.59L99.13 527.59L99.63 527.59L100.13 527.59L100.63 527.6L101.13 527.6L101.63 527.6L102.13 527.6L102.63 527.6L103.13 527.61L103.63 527.61L104.13 527.61L104.63 527.61L105.13 527.61L105.63 527.62L106.13 527.62L106.63 527.62L107.13 527.62L107.63 527.63L108.13 527.63L108.63 527.63L109.13 527.63L109.63 527.64L110.13 527.64L110.63 527.64L111.13 527.65L111.63 527.65L112.13 527.65L112.63 527.66L113.13 527.66L113.63 527.66L114.13 527.67L114.63 527.67L115.13 527.68L115.63 527.68L116.13 527.69L116.63 527.69L117.13 527.7L117.63 527.7L118.13 527.71L118.63 527.71L119.13 527.72L119.63 527.73L120.13 527.73L120.63 527.74L121.13 527.75L121.63 527.76L122.13 527.76L122.63 527.77L123.13 527.78L123.63 527.79L124.13 527.8L124.63 527.82L125.13 527.83L125.63 527.84L126.13 527.85L126.63 527.87L127.13 527.88L127.63 527.9L128.13 527.92L128.63 527.94L129.13 527.96L129.63 527.98L130.13 528.01L130.63 528.03L131.13 528.06L131.63 528.09L132.13 528.13L132.63 528.16L133.13 528.21L133.63 528.25L134.13 528.3L134.63 528.36L135.13 528.42L135.63 528.49L136.13 528.58L136.63 528.67L137.13 528.77L137.63 528.9L138.13 529.04L138.63 529.2L139.13 529.4L139.63 529.63L140.13 529.92L140.63 530.26L141.13 530.69L141.63 531.24L142.13 531.93L142.63 532.84L143.13 534.07L143.63 535.75L144.13 538.13L144.63 541.57L145.13 546.66L145.63 554.06L146.13 563.81L146.63 573.11L147.13 575.45L147.63 568.6L148.13 558.47L148.63 549.93L149.13 543.91L149.63 539.84L150.13 537.09L150.63 535.18L151.13 533.84L151.63 532.88L152.13 532.18L152.63 531.67L153.13 531.31L153.63 531.06L154.13 530.9L154.63 530.83L155.13 530.84L155.63 530.93L156.13 531.11L156.63 531.41L157.13 531.85L157.63 532.48L158.13 533.38L158.63 534.68L159.13 536.6L159.63 539.44L160.13 543.66L160.63 549.56L161.13 556.27L161.63 560.17L162.13 557.75L162.63 551.28L163.13 544.95L163.63 540.26L164.13 537.06L164.63 534.89L165.13 533.41L165.63 532.36L166.13 531.61L166.63 531.06L167.13 530.65L167.63 530.36L168.13 530.14L168.63 529.99L169.13 529.89L169.63 529.85L170.13 529.85L170.63 529.91L171.13 530.02L171.63 530.21L172.13 530.49L172.63 530.9L173.13 531.5L173.63 532.37L174.13 533.67L174.63 535.61L175.13 538.42L175.63 541.99L176.13 545L176.63 545.12L177.13 542.24L177.63 538.66L178.13 535.81L178.63 533.84L179.13 532.52L179.63 531.65L180.13 531.07L180.63 530.69L181.13 530.46L181.63 530.34L182.13 530.32L182.63 530.39L183.13 530.57L183.63 530.88L184.13 531.35L184.63 532.08L185.13 533.16L185.63 534.79L186.13 537.22L186.63 540.54L187.13 544.03L187.63 545.52L188.13 543.6L188.63 540.02L189.13 536.8L189.63 534.48L190.13 532.91L190.63 531.86L191.13 531.15L191.63 530.66L192.13 530.32L192.63 530.1L193.13 529.95L193.63 529.87L194.13 529.84L194.63 529.86L195.13 529.94L195.63 530.06L196.13 530.25L196.63 530.5L197.13 530.86L197.63 531.33L198.13 531.98L198.63 532.88L199.13 534.14L199.63 535.95L200.13 538.62L200.63 542.56L201.13 548.17L201.63 554.95L202.13 559.83L202.63 558.73L203.13 552.72L203.63 546.19L204.13 541.2L204.63 537.78L205.13 535.48L205.63 533.92L206.13 532.85L206.63 532.11L207.13 531.59L207.63 531.23L208.13 531L208.63 530.87L209.13 530.83L209.63 530.86L210.13 530.98L210.63 531.18L211.13 531.49L211.63 531.93L212.13 532.53L212.63 533.36L213.13 534.5L213.63 536.12L214.13 538.43L214.63 541.82L215.13 546.85L215.63 554.19L216.13 563.9L216.63 573.15L217.13 575.44L217.63 568.54L218.13 558.36L218.63 549.77L219.13 543.69L219.63 539.56L220.13 536.75L220.63 534.78L221.13 533.36L221.63 532.32L222.13 531.54L222.63 530.93L223.13 530.45L223.63 530.07L224.13 529.76L224.63 529.5L225.13 529.29L225.63 529.11L226.13 528.96L226.63 528.83L227.13 528.72L227.63 528.62L228.13 528.53L228.63 528.46L229.13 528.39L229.63 528.33L230.13 528.27L230.63 528.23L231.13 528.18L231.63 528.14L232.13 528.11L232.63 528.07L233.13 528.04L233.63 528.02L234.13 527.99L234.63 527.97L235.13 527.95L235.63 527.93L236.13 527.91L236.63 527.89L237.13 527.88L237.63 527.86L238.13 527.85L238.63 527.83L239.13 527.82L239.63 527.81L240.13 527.8L240.63 527.79L241.13 527.78L241.63 527.77L242.13 527.76L242.63 527.75L243.13 527.74L243.63 527.74L244.13 527.73L244.63 527.72L245.13 527.72L245.63 527.71L246.13 527.7L246.63 527.7L247.13 527.69L247.63 527.69L248.13 527.68L248.63 527.68L249.13 527.67L249.63 527.67L250.13 527.67L250.63 527.66L251.13 527.66L251.63 527.65L252.13 527.65L252.63 527.65L253.13 527.64L253.63 527.64L254.13 527.64L254.63 527.63L255.13 527.63L255.63 527.63L256.13 527.63L256.63 527.62L257.13 527.62L257.63 527.62L258.13 527.62L258.63 527.61L259.13 527.61L259.63 527.61L260.13 527.61L260.63 527.61L261.13 527.6L261.63 527.6L262.13 527.6L262.63 527.6L263.13 527.6L263.63 527.6L264.13 527.59L264.63 527.59L265.13 527.59L265.63 527.59L266.13 527.59L266.63 527.59L267.13 527.58L267.63 527.58L268.13 527.58L268.63 527.58L269.13 527.58L269.63 527.58L270.13 527.58L270.63 527.58L271.13 527.57L271.63 527.57L272.13 527.57L272.63 527.57L273.13 527.57L273.63 527.57L274.13 527.57L274.63 527.57L275.13 527.57L275.63 527.57L276.13 527.56L276.63 527.56L277.13 527.56L277.63 527.56L278.13 527.56L278.63 527.56L279.13 527.56L279.63 527.56L280.13 527.56L280.63 527.56L281.13 527.56L281.63 527.56L282.13 527.56L282.63 527.55L283.13 527.55L283.63 527.55L284.13 527.55L284.63 527.55L285.13 527.55L285.63 527.55L286.13 527.55L286.63 527.55L287.13 527.55L287.63 527.55L288.13 527.55L288.63 527.55L289.13 527.55L289.63 527.55L290.13 527.55L290.63 527.55L291.13 527.54L291.63 527.54L292.13 527.54L292.63 527.54L293.13 527.54L293.63 527.54L294.13 527.54L294.63 527.54L295.13 527.54L295.63 527.54L296.13 527.54L296.63 527.54L297.13 527.54L297.63 527.54L298.13 527.54L298.63 527.54L299.13 527.54L299.63 527.54L300.13 527.54L300.63 527.54L301.13 527.54L301.63 527.54L302.13 527.54L302.63 527.54" fill="none" stroke="#f5a71b" stroke-width="1.45" stroke-linejoin="round"/>
<path d="M59.63 527.52L60.13 527.52L60.63 527.52L61.13 527.52L61.63 527.52L62.13 527.52L62.63 527.52L63.13 527.52L63.63 527.52L64.13 527.52L64.63 527.52L65.13 527.52L65.63 527.52L66.13 527.52L66.63 527.52L67.13 527.52L67.63 527.52L68.13 527.52L68.63 527.53L69.13 527.53L69.63 527.53L70.13 527.53L70.63 527.53L71.13 527.53L71.63 527.53L72.13 527.53L72.63 527.53L73.13 527.53L73.63 527.53L74.13 527.53L74.63 527.53L75.13 527.53L75.63 527.53L76.13 527.53L76.63 527.53L77.13 527.53L77.63 527.53L78.13 527.53L78.63 527.53L79.13 527.53L79.63 527.53L80.13 527.53L80.63 527.53L81.13 527.53L81.63 527.53L82.13 527.53L82.63 527.53L83.13 527.53L83.63 527.53L84.13 527.53L84.63 527.53L85.13 527.54L85.63 527.54L86.13 527.54L86.63 527.54L87.13 527.54L87.63 527.54L88.13 527.54L88.63 527.54L89.13 527.54L89.63 527.54L90.13 527.54L90.63 527.54L91.13 527.54L91.63 527.54L92.13 527.54L92.63 527.54L93.13 527.54L93.63 527.54L94.13 527.54L94.63 527.54L95.13 527.55L95.63 527.55L96.13 527.55L96.63 527.55L97.13 527.55L97.63 527.55L98.13 527.55L98.63 527.55L99.13 527.55L99.63 527.55L100.13 527.55L100.63 527.55L101.13 527.55L101.63 527.55L102.13 527.55L102.63 527.56L103.13 527.56L103.63 527.56L104.13 527.56L104.63 527.56L105.13 527.56L105.63 527.56L106.13 527.56L106.63 527.56L107.13 527.56L107.63 527.56L108.13 527.57L108.63 527.57L109.13 527.57L109.63 527.57L110.13 527.57L110.63 527.57L111.13 527.57L111.63 527.57L112.13 527.57L112.63 527.58L113.13 527.58L113.63 527.58L114.13 527.58L114.63 527.58L115.13 527.58L115.63 527.58L116.13 527.59L116.63 527.59L117.13 527.59L117.63 527.59L118.13 527.59L118.63 527.59L119.13 527.6L119.63 527.6L120.13 527.6L120.63 527.6L121.13 527.6L121.63 527.61L122.13 527.61L122.63 527.61L123.13 527.61L123.63 527.62L124.13 527.62L124.63 527.62L125.13 527.62L125.63 527.63L126.13 527.63L126.63 527.63L127.13 527.64L127.63 527.64L128.13 527.64L128.63 527.65L129.13 527.65L129.63 527.66L130.13 527.66L130.63 527.66L131.13 527.67L131.63 527.67L132.13 527.68L132.63 527.68L133.13 527.69L133.63 527.7L134.13 527.7L134.63 527.71L135.13 527.71L135.63 527.72L136.13 527.73L136.63 527.74L137.13 527.75L137.63 527.75L138.13 527.76L138.63 527.77L139.13 527.78L139.63 527.8L140.13 527.81L140.63 527.82L141.13 527.83L141.63 527.85L142.13 527.86L142.63 527.88L143.13 527.9L143.63 527.92L144.13 527.94L144.63 527.96L145.13 527.99L145.63 528.02L146.13 528.05L146.63 528.08L147.13 528.11L147.63 528.16L148.13 528.2L148.63 528.25L149.13 528.31L149.63 528.37L150.13 528.44L150.63 528.52L151.13 528.62L151.63 528.73L152.13 528.85L152.63 529L153.13 529.18L153.63 529.4L154.13 529.66L154.63 529.98L155.13 530.39L155.63 530.91L156.13 531.59L156.63 532.49L157.13 533.73L157.63 535.45L158.13 537.92L158.63 541.47L159.13 546.38L159.63 552.32L160.13 557.11L160.63 557.36L161.13 552.92L161.63 547.12L162.13 542.29L162.63 538.85L163.13 536.54L163.63 535.03L164.13 534.08L164.63 533.54L165.13 533.34L165.63 533.47L166.13 533.94L166.63 534.84L167.13 536.32L167.63 538.61L168.13 541.83L168.63 545.59L169.13 548.16L169.63 547.51L170.13 544.14L170.63 540.32L171.13 537.27L171.63 535.12L172.13 533.66L172.63 532.69L173.13 532.05L173.63 531.66L174.13 531.47L174.63 531.47L175.13 531.65L175.63 532.07L176.13 532.79L176.63 533.92L177.13 535.53L177.63 537.43L178.13 538.74L178.63 538.46L179.13 536.84L179.63 535.01L180.13 533.6L180.63 532.68L181.13 532.17L181.63 531.98L182.13 532.09L182.63 532.51L183.13 533.31L183.63 534.59L184.13 536.33L184.63 538.11L185.13 538.84L185.63 537.88L186.13 536.03L186.63 534.3L187.13 533.04L187.63 532.22L188.13 531.74L188.63 531.49L189.13 531.45L189.63 531.59L190.13 531.93L190.63 532.49L191.13 533.37L191.63 534.68L192.13 536.63L192.63 539.43L193.13 543.1L193.63 546.79L194.13 548.35L194.63 546.48L195.13 542.81L195.63 539.37L196.13 536.84L196.63 535.17L197.13 534.13L197.63 533.55L198.13 533.35L198.63 533.46L199.13 533.9L199.63 534.73L200.13 536.08L200.63 538.15L201.13 541.25L201.63 545.71L202.13 551.38L202.63 556.53L203.13 557.72L203.63 553.84L204.13 547.9L204.63 542.62L205.13 538.74L205.63 536.02L206.13 534.13L206.63 532.78L207.13 531.8L207.63 531.07L208.13 530.51L208.63 530.08L209.13 529.74L209.63 529.46L210.13 529.23L210.63 529.05L211.13 528.89L211.63 528.76L212.13 528.64L212.63 528.55L213.13 528.46L213.63 528.39L214.13 528.32L214.63 528.26L215.13 528.21L215.63 528.17L216.13 528.13L216.63 528.09L217.13 528.05L217.63 528.02L218.13 527.99L218.63 527.97L219.13 527.95L219.63 527.92L220.13 527.9L220.63 527.89L221.13 527.87L221.63 527.85L222.13 527.84L222.63 527.82L223.13 527.81L223.63 527.8L224.13 527.79L224.63 527.78L225.13 527.77L225.63 527.76L226.13 527.75L226.63 527.74L227.13 527.73L227.63 527.72L228.13 527.72L228.63 527.71L229.13 527.7L229.63 527.7L230.13 527.69L230.63 527.69L231.13 527.68L231.63 527.68L232.13 527.67L232.63 527.67L233.13 527.66L233.63 527.66L234.13 527.65L234.63 527.65L235.13 527.65L235.63 527.64L236.13 527.64L236.63 527.63L237.13 527.63L237.63 527.63L238.13 527.63L238.63 527.62L239.13 527.62L239.63 527.62L240.13 527.61L240.63 527.61L241.13 527.61L241.63 527.61L242.13 527.61L242.63 527.6L243.13 527.6L243.63 527.6L244.13 527.6L244.63 527.6L245.13 527.59L245.63 527.59L246.13 527.59L246.63 527.59L247.13 527.59L247.63 527.58L248.13 527.58L248.63 527.58L249.13 527.58L249.63 527.58L250.13 527.58L250.63 527.58L251.13 527.57L251.63 527.57L252.13 527.57L252.63 527.57L253.13 527.57L253.63 527.57L254.13 527.57L254.63 527.57L255.13 527.57L255.63 527.56L256.13 527.56L256.63 527.56L257.13 527.56L257.63 527.56L258.13 527.56L258.63 527.56L259.13 527.56L259.63 527.56L260.13 527.56L260.63 527.56L261.13 527.55L261.63 527.55L262.13 527.55L262.63 527.55L263.13 527.55L263.63 527.55L264.13 527.55L264.63 527.55L265.13 527.55L265.63 527.55L266.13 527.55L266.63 527.55L267.13 527.55L267.63 527.55L268.13 527.55L268.63 527.54L269.13 527.54L269.63 527.54L270.13 527.54L270.63 527.54L271.13 527.54L271.63 527.54L272.13 527.54L272.63 527.54L273.13 527.54L273.63 527.54L274.13 527.54L274.63 527.54L275.13 527.54L275.63 527.54L276.13 527.54L276.63 527.54L277.13 527.54L277.63 527.54L278.13 527.54L278.63 527.54L279.13 527.53L279.63 527.53L280.13 527.53L280.63 527.53L281.13 527.53L281.63 527.53L282.13 527.53L282.63 527.53L283.13 527.53L283.63 527.53L284.13 527.53L284.63 527.53L285.13 527.53L285.63 527.53L286.13 527.53L286.63 527.53L287.13 527.53L287.63 527.53L288.13 527.53L288.63 527.53L289.13 527.53L289.63 527.53L290.13 527.53L290.63 527.53L291.13 527.53L291.63 527.53L292.13 527.53L292.63 527.53L293.13 527.53L293.63 527.53L294.13 527.53L294.63 527.53L295.13 527.52L295.63 527.52L296.13 527.52L296.63 527.52L297.13 527.52L297.63 527.52L298.13 527.52L298.63 527.52L299.13 527.52L299.63 527.52L300.13 527.52L300.63 527.52L301.13 527.52L301.63 527.52L302.13 527.52L302.63 527.52" fill="none" stroke="#fcd28a" stroke-width="1.45" stroke-linejoin="round"/>
<text x="55.2" y="520.1" font-size="9.3" text-anchor="start" font-weight="normal" fill="#222" >After reaction</text>
<text x="58.08" y="560" font-size="9.3" fill="#222">χ-Fe<tspan font-size="6.5" dy="2.8">5</tspan><tspan dy="-2.8">C</tspan><tspan font-size="6.5" dy="2.8">2</tspan><tspan dy="-2.8">:</tspan></text>
<text x="98.98" y="560" font-size="9.3" fill="#222">100%</text>
<text x="346.5" y="282.8" font-size="11.5" font-weight="bold" fill="#111">d</text>
<text x="394.78" y="283.4" font-size="9.3" text-anchor="start" font-weight="normal" fill="#222" >Manganese-promoted sample</text>
<line x1="391" y1="620.5" x2="655.42" y2="620.5" stroke="#3a3a3a" stroke-width="1.0"/>
<line x1="422.2" y1="620.5" x2="422.2" y2="623" stroke="#3a3a3a" stroke-width="0.9"/>
<text x="420.2" y="632.9" font-size="9.3" text-anchor="middle" font-weight="normal" fill="#222" >−10</text>
<line x1="472.9" y1="620.5" x2="472.9" y2="623" stroke="#3a3a3a" stroke-width="0.9"/>
<text x="470.9" y="632.9" font-size="9.3" text-anchor="middle" font-weight="normal" fill="#222" >−5</text>
<line x1="523.6" y1="620.5" x2="523.6" y2="623" stroke="#3a3a3a" stroke-width="0.9"/>
<text x="523.6" y="632.9" font-size="9.3" text-anchor="middle" font-weight="normal" fill="#222" >0</text>
<line x1="574.3" y1="620.5" x2="574.3" y2="623" stroke="#3a3a3a" stroke-width="0.9"/>
<text x="574.3" y="632.9" font-size="9.3" text-anchor="middle" font-weight="normal" fill="#222" >5</text>
<line x1="625" y1="620.5" x2="625" y2="623" stroke="#3a3a3a" stroke-width="0.9"/>
<text x="625" y="632.9" font-size="9.3" text-anchor="middle" font-weight="normal" fill="#222" >10</text>
<text x="525.1" y="651.5" font-size="9.3" text-anchor="middle" fill="#222">Doppler velocity (mm s<tspan font-size="6.2" dy="-3.4">−1</tspan><tspan dy="3.4">)</tspan></text>
<text transform="translate(352.4 453.8) rotate(-90)" font-size="9.3" text-anchor="middle" fill="#222">Intensity (10<tspan font-size="6.5" dy="-3.2">5</tspan><tspan dy="3.2"> counts)</tspan></text>
<line x1="391.5" y1="288.9" x2="391.5" y2="393.8" stroke="#3a3a3a" stroke-width="1.0"/>
<line x1="388.5" y1="304.2" x2="391.5" y2="304.2" stroke="#3a3a3a" stroke-width="0.9"/>
<text x="386.98" y="306.8" font-size="9.3" text-anchor="end" font-weight="normal" fill="#222" >2.4</text>
<line x1="388.5" y1="364.3" x2="391.5" y2="364.3" stroke="#3a3a3a" stroke-width="0.9"/>
<text x="386.98" y="366.9" font-size="9.3" text-anchor="end" font-weight="normal" fill="#222" >2.2</text>
<path d="M402.93 313.72L403.43 314.46L403.93 313.88L404.43 314.86L404.93 314.37L405.43 314.5L405.93 314.44L406.43 314.2L406.93 313.73L407.43 314.79L407.93 313.81L408.43 313.91L408.93 314.36L409.43 314.16L409.93 314.65L410.43 315.02L410.93 314.65L411.43 314.63L411.93 314.54L412.43 314.97L412.93 313.62L413.43 314.73L413.93 314.09L414.43 313.94L414.93 314.57L415.43 314.38L415.93 314.87L416.43 315.13L416.93 313.42L417.43 314.56L417.93 315.58L418.43 315.04L418.93 315.34L419.43 314.67L419.93 313.91L420.43 314.08L420.93 315.01L421.43 315.14L421.93 314.3L422.43 314.54L422.93 314.82L423.43 313.82L423.93 314.54L424.43 315.53L424.93 315.83L425.43 314.7L425.93 315.68L426.43 314.52L426.93 314.39L427.43 313.69L427.93 315.31L428.43 314.66L428.93 316.04L429.43 315.06L429.93 315.01L430.43 314.04L430.93 315.72L431.43 314.82L431.93 314.95L432.43 313.97L432.93 315.58L433.43 315.66L433.93 314.92L434.43 315.34L434.93 315.58L435.43 315.96L435.93 315.65L436.43 316.61L436.93 315.8L437.43 315.83L437.93 316.15L438.43 315.42L438.93 316.64L439.43 317.97L439.93 318.08L440.43 318.08L440.93 319.29L441.43 318.79L441.93 320.41L442.43 321.62L442.93 322.56L443.43 322.7L443.93 324.44L444.43 325.79L444.93 325.47L445.43 326.81L445.93 326.3L446.43 326.59L446.93 328.19L447.43 328.02L447.93 328.01L448.43 327.34L448.93 327.02L449.43 326.97L449.93 326.71L450.43 324.97L450.93 323.43L451.43 324.07L451.93 322.92L452.43 322.18L452.93 321.21L453.43 321.61L453.93 319.9L454.43 319.6L454.93 317.97L455.43 318.25L455.93 317.9L456.43 318.01L456.93 318.05L457.43 317.42L457.93 318.64L458.43 317.29L458.93 317.7L459.43 318.21L459.93 317.7L460.43 318.92L460.93 319.35L461.43 319.4L461.93 321.15L462.43 321.06L462.93 322.23L463.43 323.01L463.93 324.52L464.43 327.58L464.93 331.25L465.43 336.16L465.93 343.89L466.43 352.29L466.93 365.72L467.43 377.92L467.93 384.63L468.43 377.18L468.93 364.35L469.43 351.64L469.93 343.17L470.43 335.84L470.93 331.54L471.43 327.19L471.93 326.54L472.43 324.56L472.93 323.54L473.43 323.14L473.93 321.96L474.43 321.75L474.93 322.16L475.43 322.14L475.93 322.09L476.43 322.64L476.93 322.89L477.43 324.11L477.93 324.89L478.43 325.14L478.93 326.8L479.43 325.78L479.93 327.05L480.43 328.51L480.93 327.78L481.43 327.34L481.93 328.8L482.43 328.15L482.93 326.92L483.43 327.45L483.93 326.05L484.43 325.41L484.93 325.58L485.43 325.11L485.93 324.67L486.43 325.15L486.93 325.28L487.43 326.7L487.93 328.18L488.43 330.97L488.93 334.07L489.43 339.14L489.93 346.88L490.43 356.73L490.93 364.99L491.43 364.78L491.93 356.7L492.43 347.86L492.93 338.59L493.43 333.66L493.93 328.74L494.43 326.35L494.93 324.17L495.43 322.18L495.93 321.34L496.43 319.78L496.93 319.61L497.43 319.67L497.93 320.78L498.43 318.75L498.93 318.19L499.43 317.43L499.93 318.31L500.43 316.83L500.93 317.17L501.43 317.68L501.93 316.86L502.43 318.22L502.93 318L503.43 317.19L503.93 317.24L504.43 316.92L504.93 316.97L505.43 318.01L505.93 318.24L506.43 318.27L506.93 318.43L507.43 318.26L507.93 319.03L508.43 318.48L508.93 319.68L509.43 321L509.93 321.68L510.43 321.76L510.93 323.12L511.43 325.69L511.93 328.18L512.43 329.61L512.93 334.26L513.43 339.95L513.93 346.71L514.43 350.97L514.93 352.89L515.43 348.84L515.93 344.66L516.43 338.58L516.93 334.28L517.43 331.17L517.93 329.63L518.43 327.76L518.93 325.61L519.43 325.29L519.93 323.76L520.43 323.45L520.93 322.69L521.43 322.27L521.93 322.24L522.43 321.8L522.93 322.31L523.43 322.25L523.93 321.58L524.43 321.04L524.93 321.96L525.43 320.56L525.93 320.7L526.43 322.21L526.93 322.43L527.43 322.97L527.93 322.89L528.43 323.08L528.93 324.43L529.43 326.32L529.93 327.53L530.43 330.23L530.93 333.62L531.43 338.58L531.93 344.57L532.43 346.78L532.93 343.86L533.43 339.03L533.93 334.43L534.43 331.23L534.93 327.72L535.43 326.43L535.93 324.26L536.43 324L536.93 324.51L537.43 324.74L537.93 323.94L538.43 324.54L538.93 325.81L539.43 325.62L539.93 325.69L540.43 325.97L540.93 325.15L541.43 324.66L541.93 323.43L542.43 321.69L542.93 320.97L543.43 320.19L543.93 318.89L544.43 318.59L544.93 319.21L545.43 317.68L545.93 318.82L546.43 318.39L546.93 318.16L547.43 318.54L547.93 318.6L548.43 319.12L548.93 318.51L549.43 318.88L549.93 319.24L550.43 320.8L550.93 320.97L551.43 320.88L551.93 322.31L552.43 323.68L552.93 326.21L553.43 329.38L553.93 334.81L554.43 338.95L554.93 348.54L555.43 356.86L555.93 361.02L556.43 358.42L556.93 350.15L557.43 341.89L557.93 335.64L558.43 329.56L558.93 327.62L559.43 324.41L559.93 323.67L560.43 321.9L560.93 321.42L561.43 320.42L561.93 320.2L562.43 319.33L562.93 318.64L563.43 319.25L563.93 319.21L564.43 319.92L564.93 317.96L565.43 319.04L565.93 319.93L566.43 319.12L566.93 320.07L567.43 321.77L567.93 322.04L568.43 321.59L568.93 323.55L569.43 324.3L569.93 325.04L570.43 325.83L570.93 326.79L571.43 327.26L571.93 328.45L572.43 330.05L572.93 330.65L573.43 332.36L573.93 332.08L574.43 331.9L574.93 333.96L575.43 335.62L575.93 337.61L576.43 340.35L576.93 344.26L577.43 351.95L577.93 360.2L578.43 372.6L578.93 382.48L579.43 384.17L579.93 377.22L580.43 362.54L580.93 351.89L581.43 343.91L581.93 337.44L582.43 333.74L582.93 330.31L583.43 327.97L583.93 327.7L584.43 325.34L584.93 324.5L585.43 323.37L585.93 323.03L586.43 323.33L586.93 322.98L587.43 322.46L587.93 321.91L588.43 322.44L588.93 321.11L589.43 321.67L589.93 321.6L590.43 321.2L590.93 321.6L591.43 321.09L591.93 320.93L592.43 322.13L592.93 321.51L593.43 321.64L593.93 320.97L594.43 321.34L594.93 321.17L595.43 321.33L595.93 321.87L596.43 320.56L596.93 320.82L597.43 320.72L597.93 319.1L598.43 320.32L598.93 321.25L599.43 321.85L599.93 321.6L600.43 322.88L600.93 323.46L601.43 323.18L601.93 324.73L602.43 325.57L602.93 325.63L603.43 325.63L603.93 327.57L604.43 327.43L604.93 327.93L605.43 328.67L605.93 328.69L606.43 329.67L606.93 329.51L607.43 329.51L607.93 328.78L608.43 327.51L608.93 327.11L609.43 326.8L609.93 325.27L610.43 326L610.93 323.48L611.43 322.39L611.93 322.37L612.43 321.33L612.93 320.17L613.43 319.36L613.93 319.05L614.43 318.68L614.93 318.15L615.43 317.19L615.93 317.19L616.43 317.08L616.93 316.78L617.43 314.63L617.93 315.54L618.43 315.45L618.93 315.59L619.43 315.69L619.93 315.97L620.43 315.74L620.93 315.3L621.43 315.32L621.93 316.14L622.43 314.91L622.93 315.33L623.43 315.92L623.93 315.28L624.43 314.05L624.93 315.24L625.43 314.83L625.93 314.94L626.43 315.5L626.93 315.19L627.43 314.8L627.93 315.36L628.43 315.12L628.93 314.93L629.43 315.02L629.93 314.98L630.43 314.67L630.93 314.59L631.43 314.82L631.93 314.32L632.43 314.15L632.93 315.42L633.43 314.64L633.93 314.74L634.43 314.67L634.93 314.74L635.43 314.73L635.93 314.74L636.43 314.3L636.93 315.16L637.43 314.34L637.93 315.2L638.43 313.71L638.93 314.13L639.43 315.15L639.93 314.58L640.43 314.31L640.93 314.82L641.43 314.11L641.93 314.66L642.43 313.51L642.93 314.39L643.43 314.28L643.93 314.87L644.43 315.03L644.93 314.16L645.43 315.39L645.93 314.29" fill="none" stroke="#383838" stroke-width="1.4" stroke-linejoin="round"/>
<path d="M402.93 314.33L403.43 314.33L403.93 314.33L404.43 314.33L404.93 314.33L405.43 314.33L405.93 314.33L406.43 314.33L406.93 314.33L407.43 314.33L407.93 314.33L408.43 314.33L408.93 314.33L409.43 314.33L409.93 314.33L410.43 314.33L410.93 314.33L411.43 314.33L411.93 314.33L412.43 314.33L412.93 314.34L413.43 314.34L413.93 314.34L414.43 314.34L414.93 314.34L415.43 314.34L415.93 314.34L416.43 314.34L416.93 314.34L417.43 314.34L417.93 314.34L418.43 314.34L418.93 314.34L419.43 314.34L419.93 314.34L420.43 314.34L420.93 314.34L421.43 314.34L421.93 314.34L422.43 314.34L422.93 314.34L423.43 314.34L423.93 314.34L424.43 314.34L424.93 314.34L425.43 314.34L425.93 314.35L426.43 314.35L426.93 314.35L427.43 314.35L427.93 314.35L428.43 314.35L428.93 314.35L429.43 314.35L429.93 314.35L430.43 314.35L430.93 314.35L431.43 314.35L431.93 314.35L432.43 314.35L432.93 314.35L433.43 314.35L433.93 314.35L434.43 314.35L434.93 314.35L435.43 314.36L435.93 314.36L436.43 314.36L436.93 314.36L437.43 314.36L437.93 314.36L438.43 314.36L438.93 314.36L439.43 314.36L439.93 314.36L440.43 314.36L440.93 314.36L441.43 314.36L441.93 314.36L442.43 314.37L442.93 314.37L443.43 314.37L443.93 314.37L444.43 314.37L444.93 314.37L445.43 314.37L445.93 314.37L446.43 314.37L446.93 314.37L447.43 314.37L447.93 314.37L448.43 314.38L448.93 314.38L449.43 314.38L449.93 314.38L450.43 314.38L450.93 314.38L451.43 314.38L451.93 314.38L452.43 314.38L452.93 314.39L453.43 314.39L453.93 314.39L454.43 314.39L454.93 314.39L455.43 314.39L455.93 314.39L456.43 314.39L456.93 314.4L457.43 314.4L457.93 314.4L458.43 314.4L458.93 314.4L459.43 314.4L459.93 314.41L460.43 314.41L460.93 314.41L461.43 314.41L461.93 314.41L462.43 314.41L462.93 314.42L463.43 314.42L463.93 314.42L464.43 314.42L464.93 314.42L465.43 314.43L465.93 314.43L466.43 314.43L466.93 314.43L467.43 314.44L467.93 314.44L468.43 314.44L468.93 314.44L469.43 314.45L469.93 314.45L470.43 314.45L470.93 314.45L471.43 314.46L471.93 314.46L472.43 314.46L472.93 314.47L473.43 314.47L473.93 314.47L474.43 314.48L474.93 314.48L475.43 314.48L475.93 314.49L476.43 314.49L476.93 314.5L477.43 314.5L477.93 314.5L478.43 314.51L478.93 314.51L479.43 314.52L479.93 314.52L480.43 314.53L480.93 314.53L481.43 314.54L481.93 314.55L482.43 314.55L482.93 314.56L483.43 314.56L483.93 314.57L484.43 314.58L484.93 314.59L485.43 314.59L485.93 314.6L486.43 314.61L486.93 314.62L487.43 314.63L487.93 314.64L488.43 314.65L488.93 314.66L489.43 314.67L489.93 314.68L490.43 314.69L490.93 314.7L491.43 314.71L491.93 314.73L492.43 314.74L492.93 314.75L493.43 314.77L493.93 314.79L494.43 314.8L494.93 314.82L495.43 314.84L495.93 314.86L496.43 314.88L496.93 314.9L497.43 314.93L497.93 314.95L498.43 314.98L498.93 315L499.43 315.03L499.93 315.07L500.43 315.1L500.93 315.13L501.43 315.17L501.93 315.21L502.43 315.26L502.93 315.3L503.43 315.35L503.93 315.41L504.43 315.46L504.93 315.53L505.43 315.59L505.93 315.67L506.43 315.74L506.93 315.83L507.43 315.92L507.93 316.02L508.43 316.13L508.93 316.24L509.43 316.37L509.93 316.5L510.43 316.65L510.93 316.81L511.43 316.99L511.93 317.17L512.43 317.38L512.93 317.59L513.43 317.82L513.93 318.06L514.43 318.31L514.93 318.56L515.43 318.82L515.93 319.07L516.43 319.31L516.93 319.54L517.43 319.73L517.93 319.9L518.43 320.02L518.93 320.09L519.43 320.12L519.93 320.1L520.43 320.05L520.93 319.95L521.43 319.83L521.93 319.7L522.43 319.55L522.93 319.4L523.43 319.26L523.93 319.13L524.43 319.02L524.93 318.93L525.43 318.86L525.93 318.8L526.43 318.78L526.93 318.77L527.43 318.79L527.93 318.83L528.43 318.88L528.93 318.95L529.43 319.03L529.93 319.11L530.43 319.19L530.93 319.26L531.43 319.31L531.93 319.34L532.43 319.34L532.93 319.31L533.43 319.24L533.93 319.13L534.43 318.99L534.93 318.83L535.43 318.64L535.93 318.43L536.43 318.22L536.93 318L537.43 317.78L537.93 317.57L538.43 317.37L538.93 317.18L539.43 316.99L539.93 316.82L540.43 316.66L540.93 316.51L541.43 316.38L541.93 316.25L542.43 316.13L542.93 316.02L543.43 315.92L543.93 315.83L544.43 315.74L544.93 315.66L545.43 315.59L545.93 315.52L546.43 315.46L546.93 315.4L547.43 315.35L547.93 315.3L548.43 315.25L548.93 315.21L549.43 315.17L549.93 315.13L550.43 315.09L550.93 315.06L551.43 315.03L551.93 315L552.43 314.97L552.93 314.94L553.43 314.92L553.93 314.9L554.43 314.87L554.93 314.85L555.43 314.83L555.93 314.81L556.43 314.8L556.93 314.78L557.43 314.76L557.93 314.75L558.43 314.73L558.93 314.72L559.43 314.71L559.93 314.7L560.43 314.68L560.93 314.67L561.43 314.66L561.93 314.65L562.43 314.64L562.93 314.63L563.43 314.62L563.93 314.61L564.43 314.6L564.93 314.6L565.43 314.59L565.93 314.58L566.43 314.57L566.93 314.57L567.43 314.56L567.93 314.55L568.43 314.55L568.93 314.54L569.43 314.54L569.93 314.53L570.43 314.53L570.93 314.52L571.43 314.52L571.93 314.51L572.43 314.51L572.93 314.5L573.43 314.5L573.93 314.49L574.43 314.49L574.93 314.49L575.43 314.48L575.93 314.48L576.43 314.47L576.93 314.47L577.43 314.47L577.93 314.46L578.43 314.46L578.93 314.46L579.43 314.46L579.93 314.45L580.43 314.45L580.93 314.45L581.43 314.44L581.93 314.44L582.43 314.44L582.93 314.44L583.43 314.43L583.93 314.43L584.43 314.43L584.93 314.43L585.43 314.42L585.93 314.42L586.43 314.42L586.93 314.42L587.43 314.42L587.93 314.41L588.43 314.41L588.93 314.41L589.43 314.41L589.93 314.41L590.43 314.41L590.93 314.4L591.43 314.4L591.93 314.4L592.43 314.4L592.93 314.4L593.43 314.4L593.93 314.4L594.43 314.39L594.93 314.39L595.43 314.39L595.93 314.39L596.43 314.39L596.93 314.39L597.43 314.39L597.93 314.38L598.43 314.38L598.93 314.38L599.43 314.38L599.93 314.38L600.43 314.38L600.93 314.38L601.43 314.38L601.93 314.38L602.43 314.38L602.93 314.37L603.43 314.37L603.93 314.37L604.43 314.37L604.93 314.37L605.43 314.37L605.93 314.37L606.43 314.37L606.93 314.37L607.43 314.37L607.93 314.37L608.43 314.36L608.93 314.36L609.43 314.36L609.93 314.36L610.43 314.36L610.93 314.36L611.43 314.36L611.93 314.36L612.43 314.36L612.93 314.36L613.43 314.36L613.93 314.36L614.43 314.36L614.93 314.36L615.43 314.35L615.93 314.35L616.43 314.35L616.93 314.35L617.43 314.35L617.93 314.35L618.43 314.35L618.93 314.35L619.43 314.35L619.93 314.35L620.43 314.35L620.93 314.35L621.43 314.35L621.93 314.35L622.43 314.35L622.93 314.35L623.43 314.35L623.93 314.35L624.43 314.35L624.93 314.34L625.43 314.34L625.93 314.34L626.43 314.34L626.93 314.34L627.43 314.34L627.93 314.34L628.43 314.34L628.93 314.34L629.43 314.34L629.93 314.34L630.43 314.34L630.93 314.34L631.43 314.34L631.93 314.34L632.43 314.34L632.93 314.34L633.43 314.34L633.93 314.34L634.43 314.34L634.93 314.34L635.43 314.34L635.93 314.34L636.43 314.34L636.93 314.34L637.43 314.34L637.93 314.33L638.43 314.33L638.93 314.33L639.43 314.33L639.93 314.33L640.43 314.33L640.93 314.33L641.43 314.33L641.93 314.33L642.43 314.33L642.93 314.33L643.43 314.33L643.93 314.33L644.43 314.33L644.93 314.33L645.43 314.33L645.93 314.33" fill="none" stroke="#c9e6a3" stroke-width="1.45" stroke-linejoin="round"/>
<path d="M402.93 314.38L403.43 314.38L403.93 314.38L404.43 314.38L404.93 314.39L405.43 314.39L405.93 314.39L406.43 314.39L406.93 314.39L407.43 314.4L407.93 314.4L408.43 314.4L408.93 314.4L409.43 314.4L409.93 314.41L410.43 314.41L410.93 314.41L411.43 314.41L411.93 314.42L412.43 314.42L412.93 314.42L413.43 314.43L413.93 314.43L414.43 314.43L414.93 314.44L415.43 314.44L415.93 314.44L416.43 314.45L416.93 314.45L417.43 314.46L417.93 314.46L418.43 314.46L418.93 314.47L419.43 314.47L419.93 314.48L420.43 314.49L420.93 314.49L421.43 314.5L421.93 314.51L422.43 314.51L422.93 314.52L423.43 314.53L423.93 314.54L424.43 314.54L424.93 314.55L425.43 314.56L425.93 314.57L426.43 314.59L426.93 314.6L427.43 314.61L427.93 314.62L428.43 314.64L428.93 314.66L429.43 314.67L429.93 314.69L430.43 314.71L430.93 314.74L431.43 314.76L431.93 314.79L432.43 314.82L432.93 314.86L433.43 314.91L433.93 314.96L434.43 315.02L434.93 315.1L435.43 315.19L435.93 315.3L436.43 315.44L436.93 315.61L437.43 315.81L437.93 316.06L438.43 316.35L438.93 316.7L439.43 317.11L439.93 317.58L440.43 318.12L440.93 318.72L441.43 319.4L441.93 320.14L442.43 320.93L442.93 321.77L443.43 322.63L443.93 323.51L444.43 324.37L444.93 325.18L445.43 325.92L445.93 326.54L446.43 327.01L446.93 327.3L447.43 327.39L447.93 327.28L448.43 326.96L448.93 326.48L449.43 325.84L449.93 325.1L450.43 324.28L450.93 323.42L451.43 322.55L451.93 321.69L452.43 320.87L452.93 320.09L453.43 319.36L453.93 318.7L454.43 318.11L454.93 317.59L455.43 317.13L455.93 316.74L456.43 316.41L456.93 316.13L457.43 315.89L457.93 315.7L458.43 315.55L458.93 315.42L459.43 315.32L459.93 315.24L460.43 315.18L460.93 315.12L461.43 315.08L461.93 315.05L462.43 315.03L462.93 315.01L463.43 314.99L463.93 314.98L464.43 314.98L464.93 314.98L465.43 314.98L465.93 314.98L466.43 314.99L466.93 315L467.43 315.02L467.93 315.04L468.43 315.07L468.93 315.1L469.43 315.15L469.93 315.2L470.43 315.28L470.93 315.37L471.43 315.48L471.93 315.63L472.43 315.81L472.93 316.04L473.43 316.31L473.93 316.64L474.43 317.03L474.93 317.49L475.43 318.02L475.93 318.62L476.43 319.29L476.93 320.01L477.43 320.79L477.93 321.59L478.43 322.4L478.93 323.19L479.43 323.92L479.93 324.56L480.43 325.04L480.93 325.35L481.43 325.44L481.93 325.31L482.43 324.98L482.93 324.47L483.43 323.81L483.93 323.07L484.43 322.27L484.93 321.45L485.43 320.65L485.93 319.88L486.43 319.15L486.93 318.49L487.43 317.9L487.93 317.37L488.43 316.92L488.93 316.53L489.43 316.2L489.93 315.93L490.43 315.7L490.93 315.52L491.43 315.37L491.93 315.25L492.43 315.16L492.93 315.08L493.43 315.02L493.93 314.97L494.43 314.92L494.93 314.89L495.43 314.86L495.93 314.83L496.43 314.81L496.93 314.79L497.43 314.77L497.93 314.76L498.43 314.75L498.93 314.74L499.43 314.73L499.93 314.72L500.43 314.71L500.93 314.71L501.43 314.71L501.93 314.7L502.43 314.71L502.93 314.71L503.43 314.71L503.93 314.72L504.43 314.73L504.93 314.74L505.43 314.75L505.93 314.77L506.43 314.8L506.93 314.82L507.43 314.86L507.93 314.91L508.43 314.97L508.93 315.07L509.43 315.2L509.93 315.38L510.43 315.64L510.93 316.01L511.43 316.49L511.93 317.11L512.43 317.87L512.93 318.74L513.43 319.66L513.93 320.52L514.43 321.18L514.93 321.47L515.43 321.3L515.93 320.72L516.43 319.89L516.93 318.97L517.43 318.08L517.93 317.29L518.43 316.63L518.93 316.11L519.43 315.72L519.93 315.43L520.43 315.22L520.93 315.08L521.43 314.98L521.93 314.91L522.43 314.85L522.93 314.81L523.43 314.78L523.93 314.75L524.43 314.73L524.93 314.72L525.43 314.71L525.93 314.7L526.43 314.69L526.93 314.68L527.43 314.68L527.93 314.68L528.43 314.69L528.93 314.69L529.43 314.7L529.93 314.71L530.43 314.72L530.93 314.74L531.43 314.76L531.93 314.79L532.43 314.82L532.93 314.87L533.43 314.93L533.93 315.01L534.43 315.12L534.93 315.28L535.43 315.51L535.93 315.84L536.43 316.27L536.93 316.84L537.43 317.54L537.93 318.37L538.43 319.28L538.93 320.19L539.43 320.95L539.93 321.41L540.43 321.42L540.93 320.99L541.43 320.25L541.93 319.35L542.43 318.44L542.93 317.6L543.43 316.89L543.93 316.31L544.43 315.87L544.93 315.54L545.43 315.31L545.93 315.15L546.43 315.03L546.93 314.95L547.43 314.89L547.93 314.85L548.43 314.81L548.93 314.79L549.43 314.76L549.93 314.75L550.43 314.73L550.93 314.72L551.43 314.71L551.93 314.71L552.43 314.71L552.93 314.7L553.43 314.7L553.93 314.7L554.43 314.71L554.93 314.71L555.43 314.72L555.93 314.73L556.43 314.74L556.93 314.75L557.43 314.76L557.93 314.78L558.43 314.79L558.93 314.82L559.43 314.84L559.93 314.87L560.43 314.9L560.93 314.94L561.43 314.99L561.93 315.05L562.43 315.12L562.93 315.21L563.43 315.33L563.93 315.47L564.43 315.64L564.93 315.85L565.43 316.1L565.93 316.41L566.43 316.78L566.93 317.21L567.43 317.71L567.93 318.27L568.43 318.9L568.93 319.59L569.43 320.32L569.93 321.09L570.43 321.87L570.93 322.63L571.43 323.35L571.93 323.98L572.43 324.48L572.93 324.81L573.43 324.94L573.93 324.87L574.43 324.59L574.93 324.13L575.43 323.54L575.93 322.85L576.43 322.1L576.93 321.32L577.43 320.55L577.93 319.81L578.43 319.12L578.93 318.48L579.43 317.9L579.93 317.39L580.43 316.95L580.93 316.57L581.43 316.25L581.93 315.99L582.43 315.77L582.93 315.6L583.43 315.46L583.93 315.35L584.43 315.26L584.93 315.19L585.43 315.13L585.93 315.09L586.43 315.06L586.93 315.03L587.43 315.01L587.93 315L588.43 314.99L588.93 314.99L589.43 314.98L589.93 314.99L590.43 314.99L590.93 315L591.43 315.02L591.93 315.03L592.43 315.06L592.93 315.09L593.43 315.13L593.93 315.19L594.43 315.25L594.93 315.34L595.43 315.44L595.93 315.57L596.43 315.73L596.93 315.92L597.43 316.16L597.93 316.45L598.43 316.79L598.93 317.19L599.43 317.65L599.93 318.19L600.43 318.79L600.93 319.46L601.43 320.19L601.93 320.98L602.43 321.81L602.93 322.67L603.43 323.54L603.93 324.4L604.43 325.2L604.93 325.93L605.43 326.55L605.93 327.02L606.43 327.3L606.93 327.39L607.43 327.27L607.93 326.95L608.43 326.46L608.93 325.82L609.43 325.07L609.93 324.25L610.43 323.39L610.93 322.51L611.43 321.65L611.93 320.82L612.43 320.03L612.93 319.3L613.43 318.64L613.93 318.04L614.43 317.51L614.93 317.05L615.43 316.65L615.93 316.31L616.43 316.02L616.93 315.78L617.43 315.58L617.93 315.42L618.43 315.29L618.93 315.18L619.43 315.09L619.93 315.01L620.43 314.95L620.93 314.9L621.43 314.86L621.93 314.82L622.43 314.79L622.93 314.76L623.43 314.73L623.93 314.71L624.43 314.69L624.93 314.67L625.43 314.65L625.93 314.64L626.43 314.62L626.93 314.61L627.43 314.6L627.93 314.58L628.43 314.57L628.93 314.56L629.43 314.55L629.93 314.54L630.43 314.53L630.93 314.53L631.43 314.52L631.93 314.51L632.43 314.5L632.93 314.5L633.43 314.49L633.93 314.48L634.43 314.48L634.93 314.47L635.43 314.47L635.93 314.46L636.43 314.46L636.93 314.45L637.43 314.45L637.93 314.45L638.43 314.44L638.93 314.44L639.43 314.43L639.93 314.43L640.43 314.43L640.93 314.42L641.43 314.42L641.93 314.42L642.43 314.42L642.93 314.41L643.43 314.41L643.93 314.41L644.43 314.41L644.93 314.4L645.43 314.4L645.93 314.4" fill="none" stroke="#4f8c16" stroke-width="1.45" stroke-linejoin="round"/>
<path d="M402.93 314.38L403.43 314.38L403.93 314.38L404.43 314.38L404.93 314.38L405.43 314.38L405.93 314.38L406.43 314.38L406.93 314.38L407.43 314.39L407.93 314.39L408.43 314.39L408.93 314.39L409.43 314.39L409.93 314.39L410.43 314.39L410.93 314.39L411.43 314.4L411.93 314.4L412.43 314.4L412.93 314.4L413.43 314.4L413.93 314.4L414.43 314.4L414.93 314.41L415.43 314.41L415.93 314.41L416.43 314.41L416.93 314.41L417.43 314.42L417.93 314.42L418.43 314.42L418.93 314.42L419.43 314.42L419.93 314.43L420.43 314.43L420.93 314.43L421.43 314.43L421.93 314.43L422.43 314.44L422.93 314.44L423.43 314.44L423.93 314.44L424.43 314.45L424.93 314.45L425.43 314.45L425.93 314.46L426.43 314.46L426.93 314.46L427.43 314.47L427.93 314.47L428.43 314.47L428.93 314.48L429.43 314.48L429.93 314.48L430.43 314.49L430.93 314.49L431.43 314.5L431.93 314.5L432.43 314.51L432.93 314.51L433.43 314.52L433.93 314.52L434.43 314.53L434.93 314.53L435.43 314.54L435.93 314.54L436.43 314.55L436.93 314.56L437.43 314.57L437.93 314.57L438.43 314.58L438.93 314.59L439.43 314.6L439.93 314.61L440.43 314.62L440.93 314.63L441.43 314.64L441.93 314.65L442.43 314.66L442.93 314.67L443.43 314.68L443.93 314.7L444.43 314.71L444.93 314.73L445.43 314.74L445.93 314.76L446.43 314.78L446.93 314.8L447.43 314.82L447.93 314.85L448.43 314.87L448.93 314.9L449.43 314.92L449.93 314.96L450.43 314.99L450.93 315.03L451.43 315.06L451.93 315.11L452.43 315.15L452.93 315.21L453.43 315.26L453.93 315.32L454.43 315.39L454.93 315.47L455.43 315.56L455.93 315.65L456.43 315.76L456.93 315.88L457.43 316.02L457.93 316.19L458.43 316.37L458.93 316.59L459.43 316.84L459.93 317.14L460.43 317.49L460.93 317.92L461.43 318.44L461.93 319.09L462.43 319.9L462.93 320.93L463.43 322.27L463.93 324.04L464.43 326.45L464.93 329.79L465.43 334.5L465.93 341.21L466.43 350.61L466.93 362.61L467.43 374.32L467.93 379.07L468.43 372.99L468.93 360.93L469.43 349.23L469.93 340.24L470.43 333.86L470.93 329.4L471.43 326.24L471.93 323.95L472.43 322.27L472.93 321.01L473.43 320.04L473.93 319.28L474.43 318.69L474.93 318.21L475.43 317.83L475.93 317.52L476.43 317.27L476.93 317.07L477.43 316.91L477.93 316.79L478.43 316.69L478.93 316.62L479.43 316.57L479.93 316.55L480.43 316.54L480.93 316.57L481.43 316.61L481.93 316.68L482.43 316.78L482.93 316.92L483.43 317.09L483.93 317.31L484.43 317.6L484.93 317.96L485.43 318.41L485.93 319L486.43 319.77L486.93 320.79L487.43 322.16L487.93 324.05L488.43 326.69L488.93 330.46L489.43 335.82L489.93 343.16L490.43 351.85L490.93 358.68L491.43 358.93L491.93 352.37L492.43 343.66L492.93 336.18L493.43 330.68L493.93 326.81L494.43 324.09L494.93 322.14L495.43 320.73L495.93 319.67L496.43 318.87L496.93 318.24L497.43 317.76L497.93 317.37L498.43 317.05L498.93 316.8L499.43 316.59L499.93 316.41L500.43 316.27L500.93 316.16L501.43 316.06L501.93 315.98L502.43 315.92L502.93 315.88L503.43 315.85L503.93 315.83L504.43 315.82L504.93 315.83L505.43 315.85L505.93 315.89L506.43 315.94L506.93 316.02L507.43 316.12L507.93 316.25L508.43 316.41L508.93 316.63L509.43 316.91L509.93 317.27L510.43 317.75L510.93 318.4L511.43 319.29L511.93 320.54L512.43 322.32L512.93 324.86L513.43 328.35L513.93 332.58L514.43 336.12L514.93 336.63L515.43 333.68L515.93 329.43L516.43 325.7L516.93 322.92L517.43 320.97L517.93 319.61L518.43 318.64L518.93 317.95L519.43 317.44L519.93 317.06L520.43 316.77L520.93 316.56L521.43 316.4L521.93 316.28L522.43 316.2L522.93 316.15L523.43 316.13L523.93 316.13L524.43 316.16L524.93 316.22L525.43 316.31L525.93 316.44L526.43 316.62L526.93 316.86L527.43 317.17L527.93 317.59L528.43 318.16L528.93 318.93L529.43 320.02L529.93 321.55L530.43 323.75L530.93 326.85L531.43 330.86L531.93 334.95L532.43 336.9L532.93 335.16L533.43 331.13L533.93 327.07L534.43 323.9L534.93 321.65L535.43 320.07L535.93 318.96L536.43 318.16L536.93 317.57L537.43 317.14L537.93 316.8L538.43 316.55L538.93 316.35L539.43 316.2L539.93 316.08L540.43 315.99L540.93 315.92L541.43 315.87L541.93 315.84L542.43 315.83L542.93 315.82L543.43 315.83L543.93 315.86L544.43 315.89L544.93 315.94L545.43 316.01L545.93 316.09L546.43 316.19L546.93 316.32L547.43 316.47L547.93 316.65L548.43 316.88L548.93 317.15L549.43 317.49L549.93 317.91L550.43 318.44L550.93 319.11L551.43 319.99L551.93 321.15L552.43 322.73L552.93 324.9L553.43 327.96L553.93 332.32L554.43 338.47L554.93 346.55L555.43 355.07L555.93 359.74L556.43 356.91L556.93 348.91L557.43 340.48L557.93 333.81L558.43 329.04L558.93 325.7L559.43 323.34L559.93 321.65L560.43 320.41L560.93 319.49L561.43 318.79L561.93 318.25L562.43 317.82L562.93 317.49L563.43 317.23L563.93 317.03L564.43 316.87L564.93 316.75L565.43 316.66L565.93 316.59L566.43 316.56L566.93 316.54L567.43 316.55L567.93 316.58L568.43 316.64L568.93 316.72L569.43 316.82L569.93 316.96L570.43 317.14L570.93 317.35L571.43 317.62L571.93 317.95L572.43 318.36L572.93 318.87L573.43 319.52L573.93 320.33L574.43 321.39L574.93 322.78L575.43 324.64L575.93 327.18L576.43 330.73L576.93 335.76L577.43 342.94L577.93 352.9L578.43 365.19L578.93 376.08L579.43 378.67L579.93 370.79L580.43 358.38L580.93 347.13L581.43 338.69L581.93 332.72L582.43 328.54L582.93 325.56L583.43 323.39L583.93 321.78L584.43 320.55L584.93 319.6L585.43 318.85L585.93 318.25L586.43 317.77L586.93 317.36L587.43 317.03L587.93 316.75L588.43 316.51L588.93 316.31L589.43 316.13L589.93 315.98L590.43 315.84L590.93 315.72L591.43 315.62L591.93 315.53L592.43 315.44L592.93 315.37L593.43 315.3L593.93 315.24L594.43 315.19L594.93 315.14L595.43 315.09L595.93 315.05L596.43 315.01L596.93 314.98L597.43 314.95L597.93 314.92L598.43 314.89L598.93 314.86L599.43 314.84L599.93 314.82L600.43 314.79L600.93 314.77L601.43 314.76L601.93 314.74L602.43 314.72L602.93 314.71L603.43 314.69L603.93 314.68L604.43 314.67L604.93 314.65L605.43 314.64L605.93 314.63L606.43 314.62L606.93 314.61L607.43 314.6L607.93 314.59L608.43 314.59L608.93 314.58L609.43 314.57L609.93 314.56L610.43 314.56L610.93 314.55L611.43 314.54L611.93 314.54L612.43 314.53L612.93 314.52L613.43 314.52L613.93 314.51L614.43 314.51L614.93 314.5L615.43 314.5L615.93 314.49L616.43 314.49L616.93 314.49L617.43 314.48L617.93 314.48L618.43 314.47L618.93 314.47L619.43 314.47L619.93 314.46L620.43 314.46L620.93 314.46L621.43 314.45L621.93 314.45L622.43 314.45L622.93 314.45L623.43 314.44L623.93 314.44L624.43 314.44L624.93 314.44L625.43 314.43L625.93 314.43L626.43 314.43L626.93 314.43L627.43 314.42L627.93 314.42L628.43 314.42L628.93 314.42L629.43 314.42L629.93 314.41L630.43 314.41L630.93 314.41L631.43 314.41L631.93 314.41L632.43 314.41L632.93 314.4L633.43 314.4L633.93 314.4L634.43 314.4L634.93 314.4L635.43 314.4L635.93 314.4L636.43 314.39L636.93 314.39L637.43 314.39L637.93 314.39L638.43 314.39L638.93 314.39L639.43 314.39L639.93 314.39L640.43 314.38L640.93 314.38L641.43 314.38L641.93 314.38L642.43 314.38L642.93 314.38L643.43 314.38L643.93 314.38L644.43 314.38L644.93 314.38L645.43 314.37L645.93 314.37" fill="none" stroke="#79bd1d" stroke-width="1.45" stroke-linejoin="round"/>
<text x="404.4" y="306.4" font-size="9.3" text-anchor="start" font-weight="normal" fill="#222" >As prepared</text>
<text x="401.38" y="347.4" font-size="9.3" fill="#222">χ-Fe:</text>
<text x="433.08" y="347.4" font-size="9.3" fill="#222">64%</text>
<text x="401.38" y="358.8" font-size="9.3" fill="#222">Fe<tspan font-size="6.5" font-style="italic" dy="2.2">x</tspan><tspan dy="-2.2">O:</tspan></text>
<text x="433.08" y="358.8" font-size="9.3" fill="#222">36%</text>
<line x1="391.5" y1="399.3" x2="391.5" y2="505" stroke="#3a3a3a" stroke-width="1.0"/>
<line x1="388.5" y1="429.3" x2="391.5" y2="429.3" stroke="#3a3a3a" stroke-width="0.9"/>
<text x="386.98" y="431.9" font-size="9.3" text-anchor="end" font-weight="normal" fill="#222" >6.6</text>
<line x1="388.5" y1="474.7" x2="391.5" y2="474.7" stroke="#3a3a3a" stroke-width="0.9"/>
<text x="386.98" y="477.3" font-size="9.3" text-anchor="end" font-weight="normal" fill="#222" >6.3</text>
<path d="M402.93 416.3L403.43 416.1L403.93 418.57L404.43 417.54L404.93 417.19L405.43 417.13L405.93 416.91L406.43 418.45L406.93 417.55L407.43 418.73L407.93 417.47L408.43 416.12L408.93 418.13L409.43 417.37L409.93 417.45L410.43 418.59L410.93 417.43L411.43 418.33L411.93 417.6L412.43 417.13L412.93 417.92L413.43 417.22L413.93 418.37L414.43 418.2L414.93 417.64L415.43 417.98L415.93 417.96L416.43 417.43L416.93 418.16L417.43 417.46L417.93 417.99L418.43 417L418.93 417.66L419.43 417.86L419.93 417.1L420.43 417.34L420.93 417.27L421.43 418.06L421.93 417.15L422.43 417.88L422.93 418.56L423.43 417.83L423.93 416.59L424.43 417.68L424.93 418.26L425.43 417.42L425.93 418.3L426.43 417.99L426.93 417.87L427.43 417.44L427.93 417.28L428.43 417.44L428.93 417.65L429.43 417.94L429.93 417.87L430.43 417.42L430.93 417.65L431.43 417.85L431.93 416.58L432.43 417.12L432.93 417.1L433.43 417.48L433.93 417.43L434.43 417.45L434.93 417.06L435.43 418.03L435.93 417.78L436.43 416.57L436.93 417.62L437.43 416.9L437.93 418.68L438.43 417.32L438.93 417.36L439.43 417.66L439.93 417.48L440.43 417.57L440.93 418.58L441.43 417.75L441.93 418.14L442.43 418.32L442.93 417L443.43 418.67L443.93 418.04L444.43 418.21L444.93 417.07L445.43 418.33L445.93 418.07L446.43 417.48L446.93 419.26L447.43 418.18L447.93 417.68L448.43 417.96L448.93 418.42L449.43 418.56L449.93 418.23L450.43 418.64L450.93 418.81L451.43 417.12L451.93 417.61L452.43 417.34L452.93 418L453.43 418.87L453.93 418.39L454.43 417.34L454.93 417.84L455.43 418.69L455.93 417.74L456.43 418.04L456.93 418.31L457.43 417.01L457.93 418.67L458.43 418.43L458.93 418.6L459.43 417.67L459.93 417.84L460.43 417.98L460.93 418.55L461.43 418.47L461.93 418.55L462.43 419.63L462.93 419.37L463.43 418.16L463.93 418.25L464.43 419.76L464.93 418.61L465.43 419.85L465.93 420.25L466.43 419.28L466.93 419.75L467.43 420.22L467.93 419.87L468.43 419.87L468.93 420.17L469.43 420.84L469.93 420.06L470.43 420.13L470.93 419.92L471.43 419.34L471.93 420.92L472.43 418.68L472.93 419.64L473.43 420.38L473.93 419.42L474.43 420.79L474.93 421.45L475.43 420.71L475.93 421.69L476.43 421.5L476.93 422.91L477.43 423.56L477.93 424.66L478.43 426.32L478.93 427.38L479.43 429.54L479.93 431.69L480.43 433.91L480.93 437.66L481.43 441.21L481.93 444.55L482.43 450.55L482.93 455.57L483.43 461.17L483.93 465.71L484.43 470.59L484.93 475.61L485.43 479.97L485.93 483.45L486.43 483.84L486.93 483.83L487.43 480.33L487.93 477.22L488.43 475.43L488.93 473.22L489.43 471.43L489.93 468.59L490.43 466.76L490.93 464.12L491.43 462.89L491.93 459.49L492.43 456.16L492.93 450.44L493.43 446.41L493.93 442.04L494.43 439.16L494.93 435.93L495.43 432.82L495.93 432.42L496.43 432.77L496.93 433.42L497.43 434.79L497.93 436.13L498.43 439.28L498.93 444.79L499.43 450.44L499.93 454.94L500.43 460.83L500.93 466.88L501.43 472.35L501.93 477.25L502.43 483.35L502.93 487.96L503.43 489.64L503.93 487.37L504.43 483.82L504.93 478.43L505.43 472.49L505.93 466.23L506.43 459.77L506.93 452.6L507.43 448.05L507.93 443.27L508.43 438.66L508.93 435.53L509.43 433.56L509.93 434.25L510.43 434.79L510.93 437.82L511.43 439.17L511.93 440.52L512.43 441.17L512.93 441.61L513.43 440.69L513.93 438.75L514.43 436.68L514.93 434.39L515.43 434.26L515.93 435.3L516.43 438.2L516.93 442.07L517.43 446.36L517.93 451.44L518.43 456.26L518.93 462.66L519.43 466.2L519.93 466.35L520.43 464.12L520.93 459.98L521.43 454.92L521.93 448.76L522.43 443.54L522.93 440.11L523.43 435.18L523.93 432.43L524.43 430.57L524.93 429.28L525.43 428.66L525.93 428.01L526.43 427.87L526.93 428.34L527.43 430.19L527.93 433.65L528.43 437.5L528.93 441.84L529.43 446.11L529.93 451.43L530.43 457.09L530.93 462.06L531.43 464.6L531.93 464.1L532.43 460.37L532.93 455.71L533.43 450.89L533.93 447.61L534.43 442.92L534.93 438.62L535.43 436.23L535.93 436.62L536.43 436.01L536.93 436.79L537.43 436.77L537.93 436.53L538.43 437.05L538.93 436.94L539.43 436.96L539.93 437.54L540.43 437.91L540.93 439.24L541.43 440.08L541.93 441.51L542.43 443.03L542.93 443.29L543.43 447.46L543.93 450.88L544.43 456.49L544.93 461.21L545.43 466.35L545.93 472.25L546.43 477.45L546.93 484.17L547.43 488.71L547.93 490.19L548.43 490.24L548.93 487.15L549.43 482.72L549.93 477.65L550.43 473.97L550.93 467.37L551.43 460.09L551.93 453.4L552.43 447.79L552.93 443.8L553.43 440.2L553.93 436.67L554.43 435.05L554.93 433.93L555.43 433.99L555.93 435.09L556.43 436.52L556.93 438.41L557.43 440.03L557.93 442.4L558.43 445.73L558.93 449.05L559.43 452.55L559.93 453.69L560.43 456.01L560.93 457.88L561.43 458.8L561.93 460.35L562.43 460.98L562.93 461.09L563.43 461.68L563.93 462.05L564.43 462.38L564.93 462.48L565.43 465.04L565.93 469.67L566.43 472.46L566.93 475.9L567.43 476.76L567.93 473.48L568.43 468.11L568.93 461.49L569.43 455.88L569.93 449.75L570.43 442.54L570.93 436.82L571.43 432.68L571.93 429.47L572.43 427.04L572.93 424.73L573.43 424.35L573.93 423.95L574.43 423.31L574.93 422.6L575.43 421.06L575.93 422.01L576.43 420.55L576.93 420.64L577.43 421.46L577.93 419.61L578.43 420.51L578.93 420.02L579.43 419.61L579.93 419.04L580.43 419.68L580.93 419.04L581.43 419.84L581.93 419.84L582.43 418.16L582.93 418.6L583.43 418.62L583.93 418L584.43 417.96L584.93 418.64L585.43 418.39L585.93 417.43L586.43 418.06L586.93 418.68L587.43 417.56L587.93 417.7L588.43 419.24L588.93 419.03L589.43 417.16L589.93 417.3L590.43 418.35L590.93 417.33L591.43 417.89L591.93 417.74L592.43 418.34L592.93 416.37L593.43 416.55L593.93 417.14L594.43 418.52L594.93 417.76L595.43 416.76L595.93 418.12L596.43 418.24L596.93 417.62L597.43 417.54L597.93 418.01L598.43 418.48L598.93 417.8L599.43 418.02L599.93 417.64L600.43 417.42L600.93 417.07L601.43 417.8L601.93 417.44L602.43 417.47L602.93 418.2L603.43 417.91L603.93 418.15L604.43 416.61L604.93 417.95L605.43 417.23L605.93 417.09L606.43 417.06L606.93 418.36L607.43 418.12L607.93 417.15L608.43 416.88L608.93 417.61L609.43 417.31L609.93 418.65L610.43 416.68L610.93 416.45L611.43 417.44L611.93 417.61L612.43 417.68L612.93 418.07L613.43 418.91L613.93 417.38L614.43 417.26L614.93 416.49L615.43 417.75L615.93 418.14L616.43 417.44L616.93 418.34L617.43 417.62L617.93 418.55L618.43 417.81L618.93 416.93L619.43 417.2L619.93 416.63L620.43 416.51L620.93 417.77L621.43 418.15L621.93 418.83L622.43 417.57L622.93 417.45L623.43 416.9L623.93 418.22L624.43 417.85L624.93 417.23L625.43 418.03L625.93 417.95L626.43 416.42L626.93 418.07L627.43 417.69L627.93 417.35L628.43 417.34L628.93 418.7L629.43 418.57L629.93 418.75L630.43 416.88L630.93 417.19L631.43 418.17L631.93 416.84L632.43 417.15L632.93 416.46L633.43 418.77L633.93 418.27L634.43 417.89L634.93 417.74L635.43 417.34L635.93 417.35L636.43 417.99L636.93 417.15L637.43 418.37L637.93 417.29L638.43 417.05L638.93 418.42L639.43 417.51L639.93 417.95L640.43 417.34L640.93 416.18L641.43 417.94L641.93 416.75L642.43 418.28L642.93 416.62L643.43 416.43L643.93 417.79L644.43 417.87L644.93 417.67L645.43 416.84L645.93 418.16" fill="none" stroke="#383838" stroke-width="1.4" stroke-linejoin="round"/>
<path d="M402.93 417.63L403.43 417.63L403.93 417.63L404.43 417.63L404.93 417.63L405.43 417.63L405.93 417.63L406.43 417.63L406.93 417.63L407.43 417.63L407.93 417.63L408.43 417.63L408.93 417.63L409.43 417.63L409.93 417.63L410.43 417.63L410.93 417.63L411.43 417.64L411.93 417.64L412.43 417.64L412.93 417.64L413.43 417.64L413.93 417.64L414.43 417.64L414.93 417.64L415.43 417.64L415.93 417.64L416.43 417.64L416.93 417.64L417.43 417.64L417.93 417.64L418.43 417.64L418.93 417.64L419.43 417.64L419.93 417.64L420.43 417.64L420.93 417.64L421.43 417.64L421.93 417.64L422.43 417.65L422.93 417.65L423.43 417.65L423.93 417.65L424.43 417.65L424.93 417.65L425.43 417.65L425.93 417.65L426.43 417.65L426.93 417.65L427.43 417.65L427.93 417.65L428.43 417.65L428.93 417.65L429.43 417.65L429.93 417.65L430.43 417.66L430.93 417.66L431.43 417.66L431.93 417.66L432.43 417.66L432.93 417.66L433.43 417.66L433.93 417.66L434.43 417.66L434.93 417.66L435.43 417.66L435.93 417.66L436.43 417.67L436.93 417.67L437.43 417.67L437.93 417.67L438.43 417.67L438.93 417.67L439.43 417.67L439.93 417.67L440.43 417.67L440.93 417.68L441.43 417.68L441.93 417.68L442.43 417.68L442.93 417.68L443.43 417.68L443.93 417.68L444.43 417.69L444.93 417.69L445.43 417.69L445.93 417.69L446.43 417.69L446.93 417.69L447.43 417.7L447.93 417.7L448.43 417.7L448.93 417.7L449.43 417.7L449.93 417.7L450.43 417.71L450.93 417.71L451.43 417.71L451.93 417.71L452.43 417.72L452.93 417.72L453.43 417.72L453.93 417.72L454.43 417.73L454.93 417.73L455.43 417.73L455.93 417.74L456.43 417.74L456.93 417.74L457.43 417.75L457.93 417.75L458.43 417.75L458.93 417.76L459.43 417.76L459.93 417.77L460.43 417.77L460.93 417.78L461.43 417.78L461.93 417.79L462.43 417.79L462.93 417.8L463.43 417.8L463.93 417.81L464.43 417.82L464.93 417.82L465.43 417.83L465.93 417.84L466.43 417.85L466.93 417.86L467.43 417.87L467.93 417.88L468.43 417.89L468.93 417.9L469.43 417.91L469.93 417.92L470.43 417.94L470.93 417.95L471.43 417.97L471.93 417.98L472.43 418L472.93 418.02L473.43 418.04L473.93 418.07L474.43 418.09L474.93 418.12L475.43 418.15L475.93 418.19L476.43 418.22L476.93 418.26L477.43 418.31L477.93 418.36L478.43 418.42L478.93 418.48L479.43 418.55L479.93 418.64L480.43 418.73L480.93 418.84L481.43 418.97L481.93 419.12L482.43 419.3L482.93 419.51L483.43 419.77L483.93 420.09L484.43 420.48L484.93 420.98L485.43 421.62L485.93 422.47L486.43 423.61L486.93 425.19L487.43 427.43L487.93 430.69L488.43 435.51L488.93 442.45L489.43 451.26L489.93 458.68L490.43 458.98L490.93 451.89L491.43 443.08L491.93 436.03L492.43 431.14L492.93 427.84L493.43 425.6L493.93 424.04L494.43 422.94L494.93 422.14L495.43 421.56L495.93 421.13L496.43 420.83L496.93 420.62L497.43 420.48L497.93 420.41L498.43 420.41L498.93 420.48L499.43 420.62L499.93 420.84L500.43 421.18L500.93 421.67L501.43 422.36L501.93 423.35L502.43 424.79L502.93 426.92L503.43 430.09L503.93 434.68L504.43 440.51L504.93 445.43L505.43 445.6L505.93 440.85L506.43 434.95L506.93 430.23L507.43 426.95L507.93 424.73L508.43 423.21L508.93 422.16L509.43 421.4L509.93 420.86L510.43 420.45L510.93 420.15L511.43 419.93L511.93 419.77L512.43 419.65L512.93 419.58L513.43 419.55L513.93 419.56L514.43 419.62L514.93 419.71L515.43 419.87L515.93 420.11L516.43 420.45L516.93 420.94L517.43 421.65L517.93 422.71L518.43 424.28L518.93 426.58L519.43 429.63L519.93 432.53L520.43 433.26L520.93 431.11L521.43 427.95L521.93 425.28L522.43 423.41L522.93 422.16L523.43 421.33L523.93 420.77L524.43 420.4L524.93 420.16L525.43 420.03L525.93 419.98L526.43 420.01L526.93 420.12L527.43 420.33L527.93 420.66L528.43 421.16L528.93 421.91L529.43 423.03L529.93 424.72L530.43 427.17L530.93 430.29L531.43 432.92L531.93 433.02L532.43 430.48L532.93 427.32L533.43 424.81L533.93 423.06L534.43 421.89L534.93 421.1L535.43 420.56L535.93 420.19L536.43 419.93L536.93 419.75L537.43 419.64L537.93 419.57L538.43 419.55L538.93 419.57L539.43 419.63L539.93 419.73L540.43 419.88L540.93 420.08L541.43 420.36L541.93 420.74L542.43 421.24L542.93 421.93L543.43 422.9L543.93 424.27L544.43 426.27L544.93 429.24L545.43 433.56L545.93 439.26L546.43 444.69L546.93 446.06L547.43 442.05L547.93 436.14L548.43 431.15L548.93 427.64L549.43 425.27L549.93 423.68L550.43 422.58L550.93 421.83L551.43 421.29L551.93 420.92L552.43 420.67L552.93 420.51L553.43 420.42L553.93 420.41L554.43 420.46L554.93 420.57L555.43 420.76L555.93 421.04L556.43 421.43L556.93 421.97L557.43 422.7L557.93 423.71L558.43 425.13L558.93 427.16L559.43 430.14L559.93 434.55L560.43 441L560.93 449.51L561.43 457.63L561.93 459.63L562.43 453.58L562.93 444.66L563.43 437.12L563.93 431.79L564.43 428.17L564.93 425.7L565.43 423.97L565.93 422.74L566.43 421.82L566.93 421.13L567.43 420.6L567.93 420.18L568.43 419.85L568.93 419.58L569.43 419.35L569.93 419.17L570.43 419.01L570.93 418.87L571.43 418.76L571.93 418.66L572.43 418.58L572.93 418.5L573.43 418.43L573.93 418.37L574.43 418.32L574.93 418.28L575.43 418.23L575.93 418.2L576.43 418.16L576.93 418.13L577.43 418.1L577.93 418.07L578.43 418.05L578.93 418.03L579.43 418.01L579.93 417.99L580.43 417.97L580.93 417.96L581.43 417.94L581.93 417.93L582.43 417.91L582.93 417.9L583.43 417.89L583.93 417.88L584.43 417.87L584.93 417.86L585.43 417.85L585.93 417.84L586.43 417.83L586.93 417.83L587.43 417.82L587.93 417.81L588.43 417.81L588.93 417.8L589.43 417.79L589.93 417.79L590.43 417.78L590.93 417.78L591.43 417.77L591.93 417.77L592.43 417.76L592.93 417.76L593.43 417.76L593.93 417.75L594.43 417.75L594.93 417.74L595.43 417.74L595.93 417.74L596.43 417.73L596.93 417.73L597.43 417.73L597.93 417.73L598.43 417.72L598.93 417.72L599.43 417.72L599.93 417.71L600.43 417.71L600.93 417.71L601.43 417.71L601.93 417.71L602.43 417.7L602.93 417.7L603.43 417.7L603.93 417.7L604.43 417.7L604.93 417.69L605.43 417.69L605.93 417.69L606.43 417.69L606.93 417.69L607.43 417.69L607.93 417.68L608.43 417.68L608.93 417.68L609.43 417.68L609.93 417.68L610.43 417.68L610.93 417.68L611.43 417.67L611.93 417.67L612.43 417.67L612.93 417.67L613.43 417.67L613.93 417.67L614.43 417.67L614.93 417.67L615.43 417.67L615.93 417.66L616.43 417.66L616.93 417.66L617.43 417.66L617.93 417.66L618.43 417.66L618.93 417.66L619.43 417.66L619.93 417.66L620.43 417.66L620.93 417.66L621.43 417.66L621.93 417.65L622.43 417.65L622.93 417.65L623.43 417.65L623.93 417.65L624.43 417.65L624.93 417.65L625.43 417.65L625.93 417.65L626.43 417.65L626.93 417.65L627.43 417.65L627.93 417.65L628.43 417.65L628.93 417.65L629.43 417.65L629.93 417.64L630.43 417.64L630.93 417.64L631.43 417.64L631.93 417.64L632.43 417.64L632.93 417.64L633.43 417.64L633.93 417.64L634.43 417.64L634.93 417.64L635.43 417.64L635.93 417.64L636.43 417.64L636.93 417.64L637.43 417.64L637.93 417.64L638.43 417.64L638.93 417.64L639.43 417.64L639.93 417.64L640.43 417.64L640.93 417.63L641.43 417.63L641.93 417.63L642.43 417.63L642.93 417.63L643.43 417.63L643.93 417.63L644.43 417.63L644.93 417.63L645.43 417.63L645.93 417.63" fill="none" stroke="#c6832a" stroke-width="1.45" stroke-linejoin="round"/>
<path d="M402.93 417.64L403.43 417.64L403.93 417.64L404.43 417.64L404.93 417.64L405.43 417.64L405.93 417.64L406.43 417.64L406.93 417.64L407.43 417.64L407.93 417.64L408.43 417.64L408.93 417.65L409.43 417.65L409.93 417.65L410.43 417.65L410.93 417.65L411.43 417.65L411.93 417.65L412.43 417.65L412.93 417.65L413.43 417.65L413.93 417.65L414.43 417.65L414.93 417.65L415.43 417.65L415.93 417.65L416.43 417.65L416.93 417.65L417.43 417.65L417.93 417.66L418.43 417.66L418.93 417.66L419.43 417.66L419.93 417.66L420.43 417.66L420.93 417.66L421.43 417.66L421.93 417.66L422.43 417.66L422.93 417.66L423.43 417.66L423.93 417.66L424.43 417.67L424.93 417.67L425.43 417.67L425.93 417.67L426.43 417.67L426.93 417.67L427.43 417.67L427.93 417.67L428.43 417.67L428.93 417.67L429.43 417.67L429.93 417.68L430.43 417.68L430.93 417.68L431.43 417.68L431.93 417.68L432.43 417.68L432.93 417.68L433.43 417.68L433.93 417.69L434.43 417.69L434.93 417.69L435.43 417.69L435.93 417.69L436.43 417.69L436.93 417.69L437.43 417.7L437.93 417.7L438.43 417.7L438.93 417.7L439.43 417.7L439.93 417.7L440.43 417.71L440.93 417.71L441.43 417.71L441.93 417.71L442.43 417.71L442.93 417.72L443.43 417.72L443.93 417.72L444.43 417.72L444.93 417.73L445.43 417.73L445.93 417.73L446.43 417.73L446.93 417.74L447.43 417.74L447.93 417.74L448.43 417.75L448.93 417.75L449.43 417.75L449.93 417.76L450.43 417.76L450.93 417.76L451.43 417.77L451.93 417.77L452.43 417.78L452.93 417.78L453.43 417.78L453.93 417.79L454.43 417.79L454.93 417.8L455.43 417.81L455.93 417.81L456.43 417.82L456.93 417.82L457.43 417.83L457.93 417.84L458.43 417.84L458.93 417.85L459.43 417.86L459.93 417.87L460.43 417.88L460.93 417.89L461.43 417.9L461.93 417.91L462.43 417.92L462.93 417.93L463.43 417.94L463.93 417.96L464.43 417.97L464.93 417.98L465.43 418L465.93 418.02L466.43 418.04L466.93 418.06L467.43 418.08L467.93 418.1L468.43 418.13L468.93 418.15L469.43 418.18L469.93 418.21L470.43 418.25L470.93 418.29L471.43 418.33L471.93 418.38L472.43 418.43L472.93 418.49L473.43 418.55L473.93 418.62L474.43 418.7L474.93 418.79L475.43 418.9L475.93 419.02L476.43 419.16L476.93 419.32L477.43 419.51L477.93 419.73L478.43 420L478.93 420.32L479.43 420.71L479.93 421.2L480.43 421.82L480.93 422.62L481.43 423.66L481.93 425.06L482.43 426.99L482.93 429.71L483.43 433.67L483.93 439.5L484.43 447.99L484.93 459.19L485.43 469.87L485.93 472.54L486.43 464.66L486.93 453.01L487.43 443.19L487.93 436.25L488.43 431.56L488.93 428.37L489.43 426.16L489.93 424.59L490.43 423.45L490.93 422.61L491.43 421.98L491.93 421.5L492.43 421.14L492.93 420.87L493.43 420.68L493.93 420.55L494.43 420.47L494.93 420.45L495.43 420.48L495.93 420.56L496.43 420.71L496.93 420.93L497.43 421.25L497.93 421.69L498.43 422.29L498.93 423.11L499.43 424.28L499.93 425.94L500.43 428.36L500.93 431.95L501.43 437.24L501.93 444.44L502.43 452.01L502.93 455.24L503.43 451.08L503.93 443.31L504.43 436.31L504.93 431.25L505.43 427.82L505.93 425.49L506.43 423.87L506.93 422.72L507.43 421.89L507.93 421.26L508.43 420.79L508.93 420.44L509.43 420.16L509.93 419.94L510.43 419.78L510.93 419.65L511.43 419.57L511.93 419.51L512.43 419.48L512.93 419.48L513.43 419.52L513.93 419.59L514.43 419.7L514.93 419.86L515.43 420.09L515.93 420.42L516.43 420.88L516.93 421.53L517.43 422.48L517.93 423.89L518.43 425.98L518.93 428.96L519.43 432.56L519.93 435.15L520.43 434.55L520.93 431.35L521.43 427.87L521.93 425.2L522.43 423.38L522.93 422.15L523.43 421.32L523.93 420.76L524.43 420.37L524.93 420.1L525.43 419.92L525.93 419.81L526.43 419.77L526.93 419.78L527.43 419.84L527.93 419.97L528.43 420.18L528.93 420.48L529.43 420.92L529.93 421.57L530.43 422.51L530.93 423.91L531.43 425.99L531.93 428.97L532.43 432.56L532.93 435.15L533.43 434.55L533.93 431.34L534.43 427.85L534.93 425.18L535.43 423.35L535.93 422.12L536.43 421.28L536.93 420.7L537.43 420.29L537.93 420L538.43 419.8L538.93 419.65L539.43 419.56L539.93 419.5L540.43 419.48L540.93 419.49L541.43 419.53L541.93 419.59L542.43 419.69L542.93 419.83L543.43 420.01L543.93 420.24L544.43 420.55L544.93 420.94L545.43 421.45L545.93 422.14L546.43 423.07L546.93 424.35L547.43 426.17L547.93 428.83L548.43 432.75L548.93 438.45L549.43 445.99L549.93 453.17L550.43 454.97L550.93 449.67L551.43 441.84L551.93 435.24L552.43 430.58L552.93 427.44L553.43 425.31L553.93 423.84L554.43 422.8L554.93 422.06L555.43 421.52L555.93 421.13L556.43 420.85L556.93 420.65L557.43 420.53L557.93 420.46L558.43 420.45L558.93 420.49L559.43 420.58L559.93 420.73L560.43 420.95L560.93 421.25L561.43 421.65L561.93 422.17L562.43 422.87L562.93 423.8L563.43 425.06L563.93 426.82L564.43 429.31L564.93 432.94L565.43 438.29L565.93 446.16L566.43 456.89L566.93 468.15L567.43 472.94L567.93 466.77L568.43 455.22L568.93 444.8L569.43 437.28L569.93 432.17L570.43 428.69L570.93 426.27L571.43 424.54L571.93 423.28L572.43 422.33L572.93 421.6L573.43 421.03L573.93 420.57L574.43 420.2L574.93 419.9L575.43 419.65L575.93 419.44L576.43 419.26L576.93 419.11L577.43 418.98L577.93 418.86L578.43 418.76L578.93 418.67L579.43 418.6L579.93 418.53L580.43 418.47L580.93 418.41L581.43 418.36L581.93 418.32L582.43 418.27L582.93 418.24L583.43 418.2L583.93 418.17L584.43 418.14L584.93 418.12L585.43 418.09L585.93 418.07L586.43 418.05L586.93 418.03L587.43 418.01L587.93 418L588.43 417.98L588.93 417.96L589.43 417.95L589.93 417.94L590.43 417.93L590.93 417.91L591.43 417.9L591.93 417.89L592.43 417.88L592.93 417.87L593.43 417.87L593.93 417.86L594.43 417.85L594.93 417.84L595.43 417.83L595.93 417.83L596.43 417.82L596.93 417.82L597.43 417.81L597.93 417.8L598.43 417.8L598.93 417.79L599.43 417.79L599.93 417.78L600.43 417.78L600.93 417.77L601.43 417.77L601.93 417.77L602.43 417.76L602.93 417.76L603.43 417.76L603.93 417.75L604.43 417.75L604.93 417.75L605.43 417.74L605.93 417.74L606.43 417.74L606.93 417.73L607.43 417.73L607.93 417.73L608.43 417.73L608.93 417.72L609.43 417.72L609.93 417.72L610.43 417.72L610.93 417.71L611.43 417.71L611.93 417.71L612.43 417.71L612.93 417.71L613.43 417.7L613.93 417.7L614.43 417.7L614.93 417.7L615.43 417.7L615.93 417.7L616.43 417.69L616.93 417.69L617.43 417.69L617.93 417.69L618.43 417.69L618.93 417.69L619.43 417.69L619.93 417.68L620.43 417.68L620.93 417.68L621.43 417.68L621.93 417.68L622.43 417.68L622.93 417.68L623.43 417.68L623.93 417.67L624.43 417.67L624.93 417.67L625.43 417.67L625.93 417.67L626.43 417.67L626.93 417.67L627.43 417.67L627.93 417.67L628.43 417.67L628.93 417.66L629.43 417.66L629.93 417.66L630.43 417.66L630.93 417.66L631.43 417.66L631.93 417.66L632.43 417.66L632.93 417.66L633.43 417.66L633.93 417.66L634.43 417.66L634.93 417.66L635.43 417.65L635.93 417.65L636.43 417.65L636.93 417.65L637.43 417.65L637.93 417.65L638.43 417.65L638.93 417.65L639.43 417.65L639.93 417.65L640.43 417.65L640.93 417.65L641.43 417.65L641.93 417.65L642.43 417.65L642.93 417.65L643.43 417.65L643.93 417.65L644.43 417.64L644.93 417.64L645.43 417.64L645.93 417.64" fill="none" stroke="#f5a71b" stroke-width="1.45" stroke-linejoin="round"/>
<path d="M402.93 417.62L403.43 417.62L403.93 417.62L404.43 417.62L404.93 417.62L405.43 417.62L405.93 417.62L406.43 417.62L406.93 417.62L407.43 417.62L407.93 417.62L408.43 417.62L408.93 417.62L409.43 417.62L409.93 417.62L410.43 417.62L410.93 417.62L411.43 417.62L411.93 417.62L412.43 417.62L412.93 417.62L413.43 417.62L413.93 417.62L414.43 417.62L414.93 417.62L415.43 417.62L415.93 417.62L416.43 417.62L416.93 417.62L417.43 417.62L417.93 417.62L418.43 417.62L418.93 417.63L419.43 417.63L419.93 417.63L420.43 417.63L420.93 417.63L421.43 417.63L421.93 417.63L422.43 417.63L422.93 417.63L423.43 417.63L423.93 417.63L424.43 417.63L424.93 417.63L425.43 417.63L425.93 417.63L426.43 417.63L426.93 417.63L427.43 417.63L427.93 417.63L428.43 417.63L428.93 417.63L429.43 417.63L429.93 417.63L430.43 417.63L430.93 417.63L431.43 417.63L431.93 417.63L432.43 417.63L432.93 417.63L433.43 417.63L433.93 417.63L434.43 417.64L434.93 417.64L435.43 417.64L435.93 417.64L436.43 417.64L436.93 417.64L437.43 417.64L437.93 417.64L438.43 417.64L438.93 417.64L439.43 417.64L439.93 417.64L440.43 417.64L440.93 417.64L441.43 417.64L441.93 417.64L442.43 417.64L442.93 417.64L443.43 417.64L443.93 417.65L444.43 417.65L444.93 417.65L445.43 417.65L445.93 417.65L446.43 417.65L446.93 417.65L447.43 417.65L447.93 417.65L448.43 417.65L448.93 417.65L449.43 417.65L449.93 417.65L450.43 417.65L450.93 417.66L451.43 417.66L451.93 417.66L452.43 417.66L452.93 417.66L453.43 417.66L453.93 417.66L454.43 417.66L454.93 417.66L455.43 417.66L455.93 417.67L456.43 417.67L456.93 417.67L457.43 417.67L457.93 417.67L458.43 417.67L458.93 417.67L459.43 417.67L459.93 417.68L460.43 417.68L460.93 417.68L461.43 417.68L461.93 417.68L462.43 417.68L462.93 417.68L463.43 417.69L463.93 417.69L464.43 417.69L464.93 417.69L465.43 417.69L465.93 417.7L466.43 417.7L466.93 417.7L467.43 417.7L467.93 417.7L468.43 417.71L468.93 417.71L469.43 417.71L469.93 417.71L470.43 417.72L470.93 417.72L471.43 417.72L471.93 417.73L472.43 417.73L472.93 417.73L473.43 417.74L473.93 417.74L474.43 417.74L474.93 417.75L475.43 417.75L475.93 417.76L476.43 417.76L476.93 417.77L477.43 417.77L477.93 417.78L478.43 417.78L478.93 417.79L479.43 417.79L479.93 417.8L480.43 417.81L480.93 417.82L481.43 417.82L481.93 417.83L482.43 417.84L482.93 417.85L483.43 417.86L483.93 417.87L484.43 417.88L484.93 417.89L485.43 417.91L485.93 417.92L486.43 417.93L486.93 417.95L487.43 417.97L487.93 417.99L488.43 418.01L488.93 418.03L489.43 418.05L489.93 418.08L490.43 418.11L490.93 418.14L491.43 418.17L491.93 418.21L492.43 418.26L492.93 418.31L493.43 418.36L493.93 418.43L494.43 418.5L494.93 418.58L495.43 418.68L495.93 418.79L496.43 418.92L496.93 419.08L497.43 419.26L497.93 419.49L498.43 419.78L498.93 420.13L499.43 420.59L499.93 421.18L500.43 421.98L500.93 423.06L501.43 424.58L501.93 426.74L502.43 429.85L502.93 434.16L503.43 439.37L503.93 443.58L504.43 443.8L504.93 439.9L505.43 434.81L505.93 430.57L506.43 427.56L506.93 425.53L507.43 424.2L507.93 423.37L508.43 422.9L508.93 422.73L509.43 422.83L509.93 423.25L510.43 424.04L510.93 425.34L511.43 427.34L511.93 430.17L512.43 433.46L512.93 435.73L513.43 435.15L513.93 432.2L514.43 428.85L514.93 426.17L515.43 424.29L515.93 423.01L516.43 422.15L516.93 421.59L517.43 421.25L517.93 421.08L518.43 421.08L518.93 421.24L519.43 421.61L519.93 422.24L520.43 423.23L520.93 424.65L521.43 426.31L521.93 427.46L522.43 427.21L522.93 425.79L523.43 424.19L523.93 422.95L524.43 422.15L524.93 421.7L525.43 421.53L525.93 421.63L526.43 422L526.93 422.7L527.43 423.82L527.93 425.35L528.43 426.91L528.93 427.55L529.43 426.71L529.93 425.08L530.43 423.56L530.93 422.46L531.43 421.74L531.93 421.32L532.43 421.1L532.93 421.07L533.43 421.19L533.93 421.48L534.43 421.98L534.93 422.75L535.43 423.9L535.93 425.6L536.43 428.06L536.93 431.29L537.43 434.52L537.93 435.89L538.43 434.25L538.93 431.03L539.43 428.01L539.93 425.79L540.43 424.32L540.93 423.41L541.43 422.91L541.93 422.73L542.43 422.83L542.93 423.21L543.43 423.94L543.93 425.12L544.43 426.94L544.93 429.66L545.43 433.57L545.93 438.55L546.43 443.07L546.93 444.11L547.43 440.71L547.93 435.49L548.43 430.87L548.93 427.46L549.43 425.07L549.93 423.41L550.43 422.23L550.93 421.37L551.43 420.73L551.93 420.24L552.43 419.86L552.93 419.56L553.43 419.32L553.93 419.12L554.43 418.96L554.93 418.82L555.43 418.7L555.93 418.6L556.43 418.52L556.93 418.44L557.43 418.38L557.93 418.32L558.43 418.27L558.93 418.23L559.43 418.18L559.93 418.15L560.43 418.12L560.93 418.09L561.43 418.06L561.93 418.03L562.43 418.01L562.93 417.99L563.43 417.97L563.93 417.95L564.43 417.94L564.93 417.92L565.43 417.91L565.93 417.9L566.43 417.88L566.93 417.87L567.43 417.86L567.93 417.85L568.43 417.84L568.93 417.83L569.43 417.83L569.93 417.82L570.43 417.81L570.93 417.8L571.43 417.8L571.93 417.79L572.43 417.78L572.93 417.78L573.43 417.77L573.93 417.77L574.43 417.76L574.93 417.76L575.43 417.75L575.93 417.75L576.43 417.75L576.93 417.74L577.43 417.74L577.93 417.73L578.43 417.73L578.93 417.73L579.43 417.72L579.93 417.72L580.43 417.72L580.93 417.72L581.43 417.71L581.93 417.71L582.43 417.71L582.93 417.71L583.43 417.7L583.93 417.7L584.43 417.7L584.93 417.7L585.43 417.69L585.93 417.69L586.43 417.69L586.93 417.69L587.43 417.69L587.93 417.69L588.43 417.68L588.93 417.68L589.43 417.68L589.93 417.68L590.43 417.68L590.93 417.68L591.43 417.67L591.93 417.67L592.43 417.67L592.93 417.67L593.43 417.67L593.93 417.67L594.43 417.67L594.93 417.67L595.43 417.66L595.93 417.66L596.43 417.66L596.93 417.66L597.43 417.66L597.93 417.66L598.43 417.66L598.93 417.66L599.43 417.66L599.93 417.66L600.43 417.65L600.93 417.65L601.43 417.65L601.93 417.65L602.43 417.65L602.93 417.65L603.43 417.65L603.93 417.65L604.43 417.65L604.93 417.65L605.43 417.65L605.93 417.65L606.43 417.65L606.93 417.65L607.43 417.64L607.93 417.64L608.43 417.64L608.93 417.64L609.43 417.64L609.93 417.64L610.43 417.64L610.93 417.64L611.43 417.64L611.93 417.64L612.43 417.64L612.93 417.64L613.43 417.64L613.93 417.64L614.43 417.64L614.93 417.64L615.43 417.64L615.93 417.64L616.43 417.64L616.93 417.63L617.43 417.63L617.93 417.63L618.43 417.63L618.93 417.63L619.43 417.63L619.93 417.63L620.43 417.63L620.93 417.63L621.43 417.63L621.93 417.63L622.43 417.63L622.93 417.63L623.43 417.63L623.93 417.63L624.43 417.63L624.93 417.63L625.43 417.63L625.93 417.63L626.43 417.63L626.93 417.63L627.43 417.63L627.93 417.63L628.43 417.63L628.93 417.63L629.43 417.63L629.93 417.63L630.43 417.63L630.93 417.63L631.43 417.63L631.93 417.63L632.43 417.62L632.93 417.62L633.43 417.62L633.93 417.62L634.43 417.62L634.93 417.62L635.43 417.62L635.93 417.62L636.43 417.62L636.93 417.62L637.43 417.62L637.93 417.62L638.43 417.62L638.93 417.62L639.43 417.62L639.93 417.62L640.43 417.62L640.93 417.62L641.43 417.62L641.93 417.62L642.43 417.62L642.93 417.62L643.43 417.62L643.93 417.62L644.43 417.62L644.93 417.62L645.43 417.62L645.93 417.62" fill="none" stroke="#fcd28a" stroke-width="1.45" stroke-linejoin="round"/>
<text x="402.5" y="409" font-size="9.3" text-anchor="start" font-weight="normal" fill="#222" >Carburized</text>
<text x="401.38" y="444.7" font-size="9.3" fill="#222">χ-Fe<tspan font-size="6.5" dy="2.8">5</tspan><tspan dy="-2.8">C</tspan><tspan font-size="6.5" dy="2.8">2</tspan><tspan dy="-2.8">:</tspan></text>
<text x="442.28" y="444.7" font-size="9.3" fill="#222">100%</text>
<line x1="391.5" y1="514.9" x2="391.5" y2="620.2" stroke="#3a3a3a" stroke-width="1.0"/>
<line x1="388.5" y1="536" x2="391.5" y2="536" stroke="#3a3a3a" stroke-width="0.9"/>
<text x="386.98" y="538.6" font-size="9.3" text-anchor="end" font-weight="normal" fill="#222" >1.75</text>
<line x1="388.5" y1="594.4" x2="391.5" y2="594.4" stroke="#3a3a3a" stroke-width="0.9"/>
<text x="386.98" y="597" font-size="9.3" text-anchor="end" font-weight="normal" fill="#222" >1.68</text>
<path d="M402.93 529.76L403.43 530.81L403.93 530.47L404.43 530.9L404.93 532.2L405.43 530.63L405.93 531.89L406.43 532.03L406.93 529.5L407.43 530.08L407.93 530.9L408.43 530.68L408.93 531.62L409.43 529.27L409.93 532.06L410.43 532.08L410.93 531.12L411.43 529.85L411.93 531.31L412.43 530.74L412.93 531.89L413.43 531.21L413.93 532.06L414.43 530.85L414.93 532.81L415.43 528.88L415.93 530.23L416.43 531.82L416.93 529.71L417.43 532.07L417.93 530.02L418.43 531.4L418.93 530.34L419.43 530.84L419.93 531.48L420.43 531.19L420.93 530.9L421.43 533.56L421.93 531.31L422.43 530.28L422.93 532.27L423.43 532.16L423.93 532.58L424.43 533.18L424.93 530.31L425.43 532.41L425.93 532.5L426.43 531.3L426.93 531.56L427.43 528.15L427.93 530.7L428.43 533.18L428.93 529.42L429.43 530.74L429.93 531.6L430.43 531.9L430.93 533.01L431.43 529.45L431.93 531.34L432.43 532.2L432.93 529.92L433.43 531.26L433.93 533.28L434.43 532.68L434.93 531.87L435.43 528.56L435.93 531.16L436.43 531.71L436.93 530.98L437.43 531.23L437.93 534.54L438.43 531.07L438.93 530.28L439.43 531.56L439.93 530.97L440.43 530.97L440.93 531.21L441.43 532.11L441.93 531.55L442.43 530.04L442.93 531.16L443.43 531.8L443.93 530.81L444.43 532.51L444.93 532.12L445.43 530.47L445.93 531.85L446.43 533.59L446.93 533.15L447.43 531.46L447.93 532.47L448.43 530.83L448.93 530.02L449.43 532.13L449.93 531.82L450.43 532.11L450.93 531.56L451.43 531.94L451.93 531.07L452.43 532.12L452.93 532.52L453.43 531.6L453.93 532.54L454.43 529.85L454.93 530.9L455.43 533.26L455.93 533.62L456.43 532.06L456.93 531.72L457.43 530.54L457.93 532.27L458.43 532.74L458.93 530.41L459.43 532.58L459.93 532.54L460.43 532.53L460.93 530.94L461.43 532.71L461.93 530.64L462.43 533.78L462.93 532.43L463.43 531.14L463.93 533.77L464.43 533.62L464.93 531.88L465.43 534.99L465.93 532.04L466.43 533.68L466.93 534.82L467.43 531.83L467.93 535.07L468.43 534.15L468.93 534.18L469.43 533.16L469.93 534.41L470.43 533L470.93 533.06L471.43 533.49L471.93 532.69L472.43 535.31L472.93 532.53L473.43 533.13L473.93 533.7L474.43 534.26L474.93 535.3L475.43 535.69L475.93 535.18L476.43 535.6L476.93 536.59L477.43 538.03L477.93 539L478.43 539.5L478.93 540.03L479.43 544.49L479.93 546.28L480.43 548.86L480.93 552.27L481.43 555.35L481.93 559.26L482.43 564.86L482.93 570.63L483.43 576.09L483.93 580.79L484.43 586.18L484.93 591.86L485.43 595.99L485.93 599.76L486.43 599.73L486.93 599.54L487.43 596.88L487.93 593.38L488.43 590.76L488.93 589.69L489.43 586.58L489.93 584.95L490.43 582.06L490.93 580.41L491.43 577.37L491.93 573.75L492.43 570.61L492.93 565.63L493.43 561.41L493.93 556.8L494.43 553.27L494.93 550.62L495.43 548.42L495.93 547.58L496.43 548.13L496.93 548.59L497.43 549.91L497.93 551.45L498.43 554.62L498.93 559.57L499.43 565.33L499.93 572.06L500.43 576.47L500.93 582.4L501.43 588.11L501.93 593.57L502.43 599.52L502.93 603.47L503.43 604.77L503.93 604.11L504.43 598.45L504.93 594.07L505.43 588.61L505.93 582.61L506.43 575.71L506.93 568.22L507.43 562.48L507.93 557.27L508.43 552.98L508.93 550.06L509.43 547.24L509.93 548.86L510.43 549.91L510.93 551.86L511.43 552.96L511.93 554.73L512.43 555.25L512.93 555.61L513.43 553.77L513.93 552.99L514.43 551.72L514.93 549.19L515.43 548.69L515.93 549.32L516.43 554.02L516.93 556.72L517.43 561.53L517.93 566.17L518.43 571.44L518.93 578.12L519.43 581.31L519.93 582.25L520.43 580.13L520.93 575.39L521.43 569.52L521.93 564.13L522.43 558.44L522.93 554.62L523.43 549.95L523.93 545.78L524.43 543.95L524.93 543.03L525.43 542.52L525.93 542.66L526.43 540.68L526.93 542.49L527.43 543.37L527.93 547.45L528.43 551.72L528.93 554.69L529.43 559.23L529.93 566.42L530.43 572.7L530.93 577.74L531.43 579.76L531.93 580.43L532.43 575.56L532.93 570.44L533.43 567.22L533.93 562.55L534.43 557.3L534.93 553.9L535.43 550.73L535.93 550.83L536.43 550.65L536.93 550L537.43 551.36L537.93 551.07L538.43 550.59L538.93 551L539.43 552.32L539.93 551.92L540.43 552.79L540.93 554L541.43 554.76L541.93 555.04L542.43 557.82L542.93 559.75L543.43 562.76L543.93 567.56L544.43 571.9L544.93 577.45L545.43 582.91L545.93 587.45L546.43 595.22L546.93 601.5L547.43 605.76L547.93 608.6L548.43 607.12L548.93 603.09L549.43 599.89L549.93 594.22L550.43 588.97L550.93 583.31L551.43 576.98L551.93 569.21L552.43 562.42L552.93 558.99L553.43 555.27L553.93 551.08L554.43 548.98L554.93 548.23L555.43 548.49L555.93 550.01L556.43 551.73L556.93 553.76L557.43 555.16L557.93 557.83L558.43 561.23L558.93 564.73L559.43 566.66L559.93 569.48L560.43 571.26L560.93 572.85L561.43 574.23L561.93 575.39L562.43 576.2L562.93 575.97L563.43 577.25L563.93 577.13L564.43 577.51L564.93 578.25L565.43 581.01L565.93 584.22L566.43 588.7L566.93 590.88L567.43 591.16L567.93 588.2L568.43 584.5L568.93 575.78L569.43 571.12L569.93 565.15L570.43 557.05L570.93 552.19L571.43 548.12L571.93 544.36L572.43 542.57L572.93 539.57L573.43 537.51L573.93 537.51L574.43 536.09L574.93 534.82L575.43 534.35L575.93 537.04L576.43 534.29L576.93 534.47L577.43 533.64L577.93 534.16L578.43 533.61L578.93 533.26L579.43 532.31L579.93 531.96L580.43 532.48L580.93 533.39L581.43 535.06L581.93 533.94L582.43 534.62L582.93 533.17L583.43 532.49L583.93 531.14L584.43 532.42L584.93 530.13L585.43 531.96L585.93 533.89L586.43 532.49L586.93 533.27L587.43 531.66L587.93 530.59L588.43 531.49L588.93 531.54L589.43 533.18L589.93 533.95L590.43 531.08L590.93 531.45L591.43 531.64L591.93 531.4L592.43 530.43L592.93 531.8L593.43 532.06L593.93 532.05L594.43 530.36L594.93 531.48L595.43 529.75L595.93 532.51L596.43 530.46L596.93 531.22L597.43 531.02L597.93 530.86L598.43 530.34L598.93 529.58L599.43 533.24L599.93 531.67L600.43 531.67L600.93 533.58L601.43 531.26L601.93 531.94L602.43 531.37L602.93 532.59L603.43 531.87L603.93 531.67L604.43 531.07L604.93 531.63L605.43 532.55L605.93 529.15L606.43 531.2L606.93 530.89L607.43 531.02L607.93 529.26L608.43 532.1L608.93 530.45L609.43 531.1L609.93 530.81L610.43 529.58L610.93 530.87L611.43 529.4L611.93 530.34L612.43 531L612.93 531.33L613.43 531.39L613.93 531.19L614.43 533.58L614.93 531.79L615.43 530.05L615.93 530.69L616.43 530.64L616.93 531.15L617.43 530.7L617.93 530.44L618.43 533.07L618.93 531.38L619.43 530.98L619.93 531.07L620.43 531.11L620.93 532.8L621.43 531.84L621.93 532.51L622.43 528.06L622.93 531.68L623.43 532.45L623.93 533.41L624.43 531.37L624.93 529.53L625.43 531.95L625.93 530.71L626.43 529.46L626.93 530.69L627.43 532.45L627.93 532.6L628.43 532.09L628.93 530.24L629.43 533.98L629.93 530.11L630.43 531.26L630.93 529.82L631.43 532.72L631.93 531.81L632.43 532.27L632.93 531.43L633.43 531.27L633.93 531.52L634.43 529.36L634.93 532.38L635.43 532.3L635.93 530.93L636.43 531.33L636.93 531.66L637.43 532.99L637.93 531.8L638.43 531.39L638.93 530.81L639.43 529.77L639.93 530.72L640.43 531.42L640.93 531.08L641.43 531.42L641.93 532.13L642.43 531.8L642.93 531.64L643.43 532.04L643.93 531.54L644.43 531.31L644.93 531.84L645.43 529.53L645.93 532.66" fill="none" stroke="#383838" stroke-width="1.4" stroke-linejoin="round"/>
<path d="M402.93 531.33L403.43 531.33L403.93 531.33L404.43 531.33L404.93 531.33L405.43 531.33L405.93 531.33L406.43 531.33L406.93 531.33L407.43 531.33L407.93 531.33L408.43 531.33L408.93 531.33L409.43 531.33L409.93 531.33L410.43 531.33L410.93 531.33L411.43 531.34L411.93 531.34L412.43 531.34L412.93 531.34L413.43 531.34L413.93 531.34L414.43 531.34L414.93 531.34L415.43 531.34L415.93 531.34L416.43 531.34L416.93 531.34L417.43 531.34L417.93 531.34L418.43 531.34L418.93 531.34L419.43 531.34L419.93 531.34L420.43 531.34L420.93 531.34L421.43 531.34L421.93 531.34L422.43 531.35L422.93 531.35L423.43 531.35L423.93 531.35L424.43 531.35L424.93 531.35L425.43 531.35L425.93 531.35L426.43 531.35L426.93 531.35L427.43 531.35L427.93 531.35L428.43 531.35L428.93 531.35L429.43 531.35L429.93 531.35L430.43 531.36L430.93 531.36L431.43 531.36L431.93 531.36L432.43 531.36L432.93 531.36L433.43 531.36L433.93 531.36L434.43 531.36L434.93 531.36L435.43 531.36L435.93 531.36L436.43 531.37L436.93 531.37L437.43 531.37L437.93 531.37L438.43 531.37L438.93 531.37L439.43 531.37L439.93 531.37L440.43 531.37L440.93 531.38L441.43 531.38L441.93 531.38L442.43 531.38L442.93 531.38L443.43 531.38L443.93 531.38L444.43 531.39L444.93 531.39L445.43 531.39L445.93 531.39L446.43 531.39L446.93 531.39L447.43 531.4L447.93 531.4L448.43 531.4L448.93 531.4L449.43 531.4L449.93 531.4L450.43 531.41L450.93 531.41L451.43 531.41L451.93 531.41L452.43 531.42L452.93 531.42L453.43 531.42L453.93 531.42L454.43 531.43L454.93 531.43L455.43 531.43L455.93 531.44L456.43 531.44L456.93 531.44L457.43 531.45L457.93 531.45L458.43 531.45L458.93 531.46L459.43 531.46L459.93 531.47L460.43 531.47L460.93 531.48L461.43 531.48L461.93 531.49L462.43 531.49L462.93 531.5L463.43 531.5L463.93 531.51L464.43 531.52L464.93 531.52L465.43 531.53L465.93 531.54L466.43 531.55L466.93 531.56L467.43 531.57L467.93 531.58L468.43 531.59L468.93 531.6L469.43 531.61L469.93 531.62L470.43 531.64L470.93 531.65L471.43 531.67L471.93 531.68L472.43 531.7L472.93 531.72L473.43 531.74L473.93 531.77L474.43 531.79L474.93 531.82L475.43 531.85L475.93 531.89L476.43 531.92L476.93 531.96L477.43 532.01L477.93 532.06L478.43 532.12L478.93 532.18L479.43 532.25L479.93 532.34L480.43 532.43L480.93 532.54L481.43 532.67L481.93 532.82L482.43 533L482.93 533.21L483.43 533.47L483.93 533.79L484.43 534.18L484.93 534.68L485.43 535.32L485.93 536.17L486.43 537.31L486.93 538.89L487.43 541.13L487.93 544.39L488.43 549.21L488.93 556.15L489.43 564.96L489.93 572.38L490.43 572.68L490.93 565.59L491.43 556.78L491.93 549.73L492.43 544.84L492.93 541.54L493.43 539.3L493.93 537.74L494.43 536.64L494.93 535.84L495.43 535.26L495.93 534.83L496.43 534.53L496.93 534.32L497.43 534.18L497.93 534.11L498.43 534.11L498.93 534.18L499.43 534.32L499.93 534.54L500.43 534.88L500.93 535.37L501.43 536.06L501.93 537.05L502.43 538.49L502.93 540.62L503.43 543.79L503.93 548.38L504.43 554.21L504.93 559.13L505.43 559.3L505.93 554.55L506.43 548.65L506.93 543.93L507.43 540.65L507.93 538.43L508.43 536.91L508.93 535.86L509.43 535.1L509.93 534.56L510.43 534.15L510.93 533.85L511.43 533.63L511.93 533.47L512.43 533.35L512.93 533.28L513.43 533.25L513.93 533.26L514.43 533.32L514.93 533.41L515.43 533.57L515.93 533.81L516.43 534.15L516.93 534.64L517.43 535.35L517.93 536.41L518.43 537.98L518.93 540.28L519.43 543.33L519.93 546.23L520.43 546.96L520.93 544.81L521.43 541.65L521.93 538.98L522.43 537.11L522.93 535.86L523.43 535.03L523.93 534.47L524.43 534.1L524.93 533.86L525.43 533.73L525.93 533.68L526.43 533.71L526.93 533.82L527.43 534.03L527.93 534.36L528.43 534.86L528.93 535.61L529.43 536.73L529.93 538.42L530.43 540.87L530.93 543.99L531.43 546.62L531.93 546.72L532.43 544.18L532.93 541.02L533.43 538.51L533.93 536.76L534.43 535.59L534.93 534.8L535.43 534.26L535.93 533.89L536.43 533.63L536.93 533.45L537.43 533.34L537.93 533.27L538.43 533.25L538.93 533.27L539.43 533.33L539.93 533.43L540.43 533.58L540.93 533.78L541.43 534.06L541.93 534.44L542.43 534.94L542.93 535.63L543.43 536.6L543.93 537.97L544.43 539.97L544.93 542.94L545.43 547.26L545.93 552.96L546.43 558.39L546.93 559.76L547.43 555.75L547.93 549.84L548.43 544.85L548.93 541.34L549.43 538.97L549.93 537.38L550.43 536.28L550.93 535.53L551.43 534.99L551.93 534.62L552.43 534.37L552.93 534.21L553.43 534.12L553.93 534.11L554.43 534.16L554.93 534.27L555.43 534.46L555.93 534.74L556.43 535.13L556.93 535.67L557.43 536.4L557.93 537.41L558.43 538.83L558.93 540.86L559.43 543.84L559.93 548.25L560.43 554.7L560.93 563.21L561.43 571.33L561.93 573.33L562.43 567.28L562.93 558.36L563.43 550.82L563.93 545.49L564.43 541.87L564.93 539.4L565.43 537.67L565.93 536.44L566.43 535.52L566.93 534.83L567.43 534.3L567.93 533.88L568.43 533.55L568.93 533.28L569.43 533.05L569.93 532.87L570.43 532.71L570.93 532.57L571.43 532.46L571.93 532.36L572.43 532.28L572.93 532.2L573.43 532.13L573.93 532.07L574.43 532.02L574.93 531.98L575.43 531.93L575.93 531.9L576.43 531.86L576.93 531.83L577.43 531.8L577.93 531.77L578.43 531.75L578.93 531.73L579.43 531.71L579.93 531.69L580.43 531.67L580.93 531.66L581.43 531.64L581.93 531.63L582.43 531.61L582.93 531.6L583.43 531.59L583.93 531.58L584.43 531.57L584.93 531.56L585.43 531.55L585.93 531.54L586.43 531.53L586.93 531.53L587.43 531.52L587.93 531.51L588.43 531.51L588.93 531.5L589.43 531.49L589.93 531.49L590.43 531.48L590.93 531.48L591.43 531.47L591.93 531.47L592.43 531.46L592.93 531.46L593.43 531.46L593.93 531.45L594.43 531.45L594.93 531.44L595.43 531.44L595.93 531.44L596.43 531.43L596.93 531.43L597.43 531.43L597.93 531.43L598.43 531.42L598.93 531.42L599.43 531.42L599.93 531.41L600.43 531.41L600.93 531.41L601.43 531.41L601.93 531.41L602.43 531.4L602.93 531.4L603.43 531.4L603.93 531.4L604.43 531.4L604.93 531.39L605.43 531.39L605.93 531.39L606.43 531.39L606.93 531.39L607.43 531.39L607.93 531.38L608.43 531.38L608.93 531.38L609.43 531.38L609.93 531.38L610.43 531.38L610.93 531.38L611.43 531.37L611.93 531.37L612.43 531.37L612.93 531.37L613.43 531.37L613.93 531.37L614.43 531.37L614.93 531.37L615.43 531.37L615.93 531.36L616.43 531.36L616.93 531.36L617.43 531.36L617.93 531.36L618.43 531.36L618.93 531.36L619.43 531.36L619.93 531.36L620.43 531.36L620.93 531.36L621.43 531.36L621.93 531.35L622.43 531.35L622.93 531.35L623.43 531.35L623.93 531.35L624.43 531.35L624.93 531.35L625.43 531.35L625.93 531.35L626.43 531.35L626.93 531.35L627.43 531.35L627.93 531.35L628.43 531.35L628.93 531.35L629.43 531.35L629.93 531.34L630.43 531.34L630.93 531.34L631.43 531.34L631.93 531.34L632.43 531.34L632.93 531.34L633.43 531.34L633.93 531.34L634.43 531.34L634.93 531.34L635.43 531.34L635.93 531.34L636.43 531.34L636.93 531.34L637.43 531.34L637.93 531.34L638.43 531.34L638.93 531.34L639.43 531.34L639.93 531.34L640.43 531.34L640.93 531.33L641.43 531.33L641.93 531.33L642.43 531.33L642.93 531.33L643.43 531.33L643.93 531.33L644.43 531.33L644.93 531.33L645.43 531.33L645.93 531.33" fill="none" stroke="#c6832a" stroke-width="1.45" stroke-linejoin="round"/>
<path d="M402.93 531.34L403.43 531.34L403.93 531.34L404.43 531.34L404.93 531.34L405.43 531.34L405.93 531.34L406.43 531.34L406.93 531.34L407.43 531.34L407.93 531.34L408.43 531.34L408.93 531.35L409.43 531.35L409.93 531.35L410.43 531.35L410.93 531.35L411.43 531.35L411.93 531.35L412.43 531.35L412.93 531.35L413.43 531.35L413.93 531.35L414.43 531.35L414.93 531.35L415.43 531.35L415.93 531.35L416.43 531.35L416.93 531.35L417.43 531.35L417.93 531.36L418.43 531.36L418.93 531.36L419.43 531.36L419.93 531.36L420.43 531.36L420.93 531.36L421.43 531.36L421.93 531.36L422.43 531.36L422.93 531.36L423.43 531.36L423.93 531.36L424.43 531.37L424.93 531.37L425.43 531.37L425.93 531.37L426.43 531.37L426.93 531.37L427.43 531.37L427.93 531.37L428.43 531.37L428.93 531.37L429.43 531.37L429.93 531.38L430.43 531.38L430.93 531.38L431.43 531.38L431.93 531.38L432.43 531.38L432.93 531.38L433.43 531.38L433.93 531.39L434.43 531.39L434.93 531.39L435.43 531.39L435.93 531.39L436.43 531.39L436.93 531.39L437.43 531.4L437.93 531.4L438.43 531.4L438.93 531.4L439.43 531.4L439.93 531.4L440.43 531.41L440.93 531.41L441.43 531.41L441.93 531.41L442.43 531.41L442.93 531.42L443.43 531.42L443.93 531.42L444.43 531.42L444.93 531.43L445.43 531.43L445.93 531.43L446.43 531.43L446.93 531.44L447.43 531.44L447.93 531.44L448.43 531.45L448.93 531.45L449.43 531.45L449.93 531.46L450.43 531.46L450.93 531.46L451.43 531.47L451.93 531.47L452.43 531.48L452.93 531.48L453.43 531.48L453.93 531.49L454.43 531.49L454.93 531.5L455.43 531.51L455.93 531.51L456.43 531.52L456.93 531.52L457.43 531.53L457.93 531.54L458.43 531.54L458.93 531.55L459.43 531.56L459.93 531.57L460.43 531.58L460.93 531.59L461.43 531.6L461.93 531.61L462.43 531.62L462.93 531.63L463.43 531.64L463.93 531.66L464.43 531.67L464.93 531.68L465.43 531.7L465.93 531.72L466.43 531.74L466.93 531.76L467.43 531.78L467.93 531.8L468.43 531.83L468.93 531.85L469.43 531.88L469.93 531.91L470.43 531.95L470.93 531.99L471.43 532.03L471.93 532.08L472.43 532.13L472.93 532.19L473.43 532.25L473.93 532.32L474.43 532.4L474.93 532.49L475.43 532.6L475.93 532.72L476.43 532.86L476.93 533.02L477.43 533.21L477.93 533.43L478.43 533.7L478.93 534.02L479.43 534.41L479.93 534.9L480.43 535.52L480.93 536.32L481.43 537.36L481.93 538.76L482.43 540.69L482.93 543.41L483.43 547.37L483.93 553.2L484.43 561.69L484.93 572.89L485.43 583.57L485.93 586.24L486.43 578.36L486.93 566.71L487.43 556.89L487.93 549.95L488.43 545.26L488.93 542.07L489.43 539.86L489.93 538.29L490.43 537.15L490.93 536.31L491.43 535.68L491.93 535.2L492.43 534.84L492.93 534.57L493.43 534.38L493.93 534.25L494.43 534.17L494.93 534.15L495.43 534.18L495.93 534.26L496.43 534.41L496.93 534.63L497.43 534.95L497.93 535.39L498.43 535.99L498.93 536.81L499.43 537.98L499.93 539.64L500.43 542.06L500.93 545.65L501.43 550.94L501.93 558.14L502.43 565.71L502.93 568.94L503.43 564.78L503.93 557.01L504.43 550.01L504.93 544.95L505.43 541.52L505.93 539.19L506.43 537.57L506.93 536.42L507.43 535.59L507.93 534.96L508.43 534.49L508.93 534.14L509.43 533.86L509.93 533.64L510.43 533.48L510.93 533.35L511.43 533.27L511.93 533.21L512.43 533.18L512.93 533.18L513.43 533.22L513.93 533.29L514.43 533.4L514.93 533.56L515.43 533.79L515.93 534.12L516.43 534.58L516.93 535.23L517.43 536.18L517.93 537.59L518.43 539.68L518.93 542.66L519.43 546.26L519.93 548.85L520.43 548.25L520.93 545.05L521.43 541.57L521.93 538.9L522.43 537.08L522.93 535.85L523.43 535.02L523.93 534.46L524.43 534.07L524.93 533.8L525.43 533.62L525.93 533.51L526.43 533.47L526.93 533.48L527.43 533.54L527.93 533.67L528.43 533.88L528.93 534.18L529.43 534.62L529.93 535.27L530.43 536.21L530.93 537.61L531.43 539.69L531.93 542.67L532.43 546.26L532.93 548.85L533.43 548.25L533.93 545.04L534.43 541.55L534.93 538.88L535.43 537.05L535.93 535.82L536.43 534.98L536.93 534.4L537.43 533.99L537.93 533.7L538.43 533.5L538.93 533.35L539.43 533.26L539.93 533.2L540.43 533.18L540.93 533.19L541.43 533.23L541.93 533.29L542.43 533.39L542.93 533.53L543.43 533.71L543.93 533.94L544.43 534.25L544.93 534.64L545.43 535.15L545.93 535.84L546.43 536.77L546.93 538.05L547.43 539.87L547.93 542.53L548.43 546.45L548.93 552.15L549.43 559.69L549.93 566.87L550.43 568.67L550.93 563.37L551.43 555.54L551.93 548.94L552.43 544.28L552.93 541.14L553.43 539.01L553.93 537.54L554.43 536.5L554.93 535.76L555.43 535.22L555.93 534.83L556.43 534.55L556.93 534.35L557.43 534.23L557.93 534.16L558.43 534.15L558.93 534.19L559.43 534.28L559.93 534.43L560.43 534.65L560.93 534.95L561.43 535.35L561.93 535.87L562.43 536.57L562.93 537.5L563.43 538.76L563.93 540.52L564.43 543.01L564.93 546.64L565.43 551.99L565.93 559.86L566.43 570.59L566.93 581.85L567.43 586.64L567.93 580.47L568.43 568.92L568.93 558.5L569.43 550.98L569.93 545.87L570.43 542.39L570.93 539.97L571.43 538.24L571.93 536.98L572.43 536.03L572.93 535.3L573.43 534.73L573.93 534.27L574.43 533.9L574.93 533.6L575.43 533.35L575.93 533.14L576.43 532.96L576.93 532.81L577.43 532.68L577.93 532.56L578.43 532.46L578.93 532.37L579.43 532.3L579.93 532.23L580.43 532.17L580.93 532.11L581.43 532.06L581.93 532.02L582.43 531.97L582.93 531.94L583.43 531.9L583.93 531.87L584.43 531.84L584.93 531.82L585.43 531.79L585.93 531.77L586.43 531.75L586.93 531.73L587.43 531.71L587.93 531.7L588.43 531.68L588.93 531.66L589.43 531.65L589.93 531.64L590.43 531.63L590.93 531.61L591.43 531.6L591.93 531.59L592.43 531.58L592.93 531.57L593.43 531.57L593.93 531.56L594.43 531.55L594.93 531.54L595.43 531.53L595.93 531.53L596.43 531.52L596.93 531.52L597.43 531.51L597.93 531.5L598.43 531.5L598.93 531.49L599.43 531.49L599.93 531.48L600.43 531.48L600.93 531.47L601.43 531.47L601.93 531.47L602.43 531.46L602.93 531.46L603.43 531.46L603.93 531.45L604.43 531.45L604.93 531.45L605.43 531.44L605.93 531.44L606.43 531.44L606.93 531.43L607.43 531.43L607.93 531.43L608.43 531.43L608.93 531.42L609.43 531.42L609.93 531.42L610.43 531.42L610.93 531.41L611.43 531.41L611.93 531.41L612.43 531.41L612.93 531.41L613.43 531.4L613.93 531.4L614.43 531.4L614.93 531.4L615.43 531.4L615.93 531.4L616.43 531.39L616.93 531.39L617.43 531.39L617.93 531.39L618.43 531.39L618.93 531.39L619.43 531.39L619.93 531.38L620.43 531.38L620.93 531.38L621.43 531.38L621.93 531.38L622.43 531.38L622.93 531.38L623.43 531.38L623.93 531.37L624.43 531.37L624.93 531.37L625.43 531.37L625.93 531.37L626.43 531.37L626.93 531.37L627.43 531.37L627.93 531.37L628.43 531.37L628.93 531.36L629.43 531.36L629.93 531.36L630.43 531.36L630.93 531.36L631.43 531.36L631.93 531.36L632.43 531.36L632.93 531.36L633.43 531.36L633.93 531.36L634.43 531.36L634.93 531.36L635.43 531.35L635.93 531.35L636.43 531.35L636.93 531.35L637.43 531.35L637.93 531.35L638.43 531.35L638.93 531.35L639.43 531.35L639.93 531.35L640.43 531.35L640.93 531.35L641.43 531.35L641.93 531.35L642.43 531.35L642.93 531.35L643.43 531.35L643.93 531.35L644.43 531.34L644.93 531.34L645.43 531.34L645.93 531.34" fill="none" stroke="#f5a71b" stroke-width="1.45" stroke-linejoin="round"/>
<path d="M402.93 531.32L403.43 531.32L403.93 531.32L404.43 531.32L404.93 531.32L405.43 531.32L405.93 531.32L406.43 531.32L406.93 531.32L407.43 531.32L407.93 531.32L408.43 531.32L408.93 531.32L409.43 531.32L409.93 531.32L410.43 531.32L410.93 531.32L411.43 531.32L411.93 531.32L412.43 531.32L412.93 531.32L413.43 531.32L413.93 531.32L414.43 531.32L414.93 531.32L415.43 531.32L415.93 531.32L416.43 531.32L416.93 531.32L417.43 531.32L417.93 531.32L418.43 531.32L418.93 531.33L419.43 531.33L419.93 531.33L420.43 531.33L420.93 531.33L421.43 531.33L421.93 531.33L422.43 531.33L422.93 531.33L423.43 531.33L423.93 531.33L424.43 531.33L424.93 531.33L425.43 531.33L425.93 531.33L426.43 531.33L426.93 531.33L427.43 531.33L427.93 531.33L428.43 531.33L428.93 531.33L429.43 531.33L429.93 531.33L430.43 531.33L430.93 531.33L431.43 531.33L431.93 531.33L432.43 531.33L432.93 531.33L433.43 531.33L433.93 531.33L434.43 531.34L434.93 531.34L435.43 531.34L435.93 531.34L436.43 531.34L436.93 531.34L437.43 531.34L437.93 531.34L438.43 531.34L438.93 531.34L439.43 531.34L439.93 531.34L440.43 531.34L440.93 531.34L441.43 531.34L441.93 531.34L442.43 531.34L442.93 531.34L443.43 531.34L443.93 531.35L444.43 531.35L444.93 531.35L445.43 531.35L445.93 531.35L446.43 531.35L446.93 531.35L447.43 531.35L447.93 531.35L448.43 531.35L448.93 531.35L449.43 531.35L449.93 531.35L450.43 531.35L450.93 531.36L451.43 531.36L451.93 531.36L452.43 531.36L452.93 531.36L453.43 531.36L453.93 531.36L454.43 531.36L454.93 531.36L455.43 531.36L455.93 531.37L456.43 531.37L456.93 531.37L457.43 531.37L457.93 531.37L458.43 531.37L458.93 531.37L459.43 531.37L459.93 531.38L460.43 531.38L460.93 531.38L461.43 531.38L461.93 531.38L462.43 531.38L462.93 531.38L463.43 531.39L463.93 531.39L464.43 531.39L464.93 531.39L465.43 531.39L465.93 531.4L466.43 531.4L466.93 531.4L467.43 531.4L467.93 531.4L468.43 531.41L468.93 531.41L469.43 531.41L469.93 531.41L470.43 531.42L470.93 531.42L471.43 531.42L471.93 531.43L472.43 531.43L472.93 531.43L473.43 531.44L473.93 531.44L474.43 531.44L474.93 531.45L475.43 531.45L475.93 531.46L476.43 531.46L476.93 531.47L477.43 531.47L477.93 531.48L478.43 531.48L478.93 531.49L479.43 531.49L479.93 531.5L480.43 531.51L480.93 531.52L481.43 531.52L481.93 531.53L482.43 531.54L482.93 531.55L483.43 531.56L483.93 531.57L484.43 531.58L484.93 531.59L485.43 531.61L485.93 531.62L486.43 531.63L486.93 531.65L487.43 531.67L487.93 531.69L488.43 531.71L488.93 531.73L489.43 531.75L489.93 531.78L490.43 531.81L490.93 531.84L491.43 531.87L491.93 531.91L492.43 531.96L492.93 532.01L493.43 532.06L493.93 532.13L494.43 532.2L494.93 532.28L495.43 532.38L495.93 532.49L496.43 532.62L496.93 532.78L497.43 532.96L497.93 533.19L498.43 533.48L498.93 533.83L499.43 534.29L499.93 534.88L500.43 535.68L500.93 536.76L501.43 538.28L501.93 540.44L502.43 543.55L502.93 547.86L503.43 553.07L503.93 557.28L504.43 557.5L504.93 553.6L505.43 548.51L505.93 544.27L506.43 541.26L506.93 539.23L507.43 537.9L507.93 537.07L508.43 536.6L508.93 536.43L509.43 536.53L509.93 536.95L510.43 537.74L510.93 539.04L511.43 541.04L511.93 543.87L512.43 547.16L512.93 549.43L513.43 548.85L513.93 545.9L514.43 542.55L514.93 539.87L515.43 537.99L515.93 536.71L516.43 535.85L516.93 535.29L517.43 534.95L517.93 534.78L518.43 534.78L518.93 534.94L519.43 535.31L519.93 535.94L520.43 536.93L520.93 538.35L521.43 540.01L521.93 541.16L522.43 540.91L522.93 539.49L523.43 537.89L523.93 536.65L524.43 535.85L524.93 535.4L525.43 535.23L525.93 535.33L526.43 535.7L526.93 536.4L527.43 537.52L527.93 539.05L528.43 540.61L528.93 541.25L529.43 540.41L529.93 538.78L530.43 537.26L530.93 536.16L531.43 535.44L531.93 535.02L532.43 534.8L532.93 534.77L533.43 534.89L533.93 535.18L534.43 535.68L534.93 536.45L535.43 537.6L535.93 539.3L536.43 541.76L536.93 544.99L537.43 548.22L537.93 549.59L538.43 547.95L538.93 544.73L539.43 541.71L539.93 539.49L540.43 538.02L540.93 537.11L541.43 536.61L541.93 536.43L542.43 536.53L542.93 536.91L543.43 537.64L543.93 538.82L544.43 540.64L544.93 543.36L545.43 547.27L545.93 552.25L546.43 556.77L546.93 557.81L547.43 554.41L547.93 549.19L548.43 544.57L548.93 541.16L549.43 538.77L549.93 537.11L550.43 535.93L550.93 535.07L551.43 534.43L551.93 533.94L552.43 533.56L552.93 533.26L553.43 533.02L553.93 532.82L554.43 532.66L554.93 532.52L555.43 532.4L555.93 532.3L556.43 532.22L556.93 532.14L557.43 532.08L557.93 532.02L558.43 531.97L558.93 531.93L559.43 531.88L559.93 531.85L560.43 531.82L560.93 531.79L561.43 531.76L561.93 531.73L562.43 531.71L562.93 531.69L563.43 531.67L563.93 531.65L564.43 531.64L564.93 531.62L565.43 531.61L565.93 531.6L566.43 531.58L566.93 531.57L567.43 531.56L567.93 531.55L568.43 531.54L568.93 531.53L569.43 531.53L569.93 531.52L570.43 531.51L570.93 531.5L571.43 531.5L571.93 531.49L572.43 531.48L572.93 531.48L573.43 531.47L573.93 531.47L574.43 531.46L574.93 531.46L575.43 531.45L575.93 531.45L576.43 531.45L576.93 531.44L577.43 531.44L577.93 531.43L578.43 531.43L578.93 531.43L579.43 531.42L579.93 531.42L580.43 531.42L580.93 531.42L581.43 531.41L581.93 531.41L582.43 531.41L582.93 531.41L583.43 531.4L583.93 531.4L584.43 531.4L584.93 531.4L585.43 531.39L585.93 531.39L586.43 531.39L586.93 531.39L587.43 531.39L587.93 531.39L588.43 531.38L588.93 531.38L589.43 531.38L589.93 531.38L590.43 531.38L590.93 531.38L591.43 531.37L591.93 531.37L592.43 531.37L592.93 531.37L593.43 531.37L593.93 531.37L594.43 531.37L594.93 531.37L595.43 531.36L595.93 531.36L596.43 531.36L596.93 531.36L597.43 531.36L597.93 531.36L598.43 531.36L598.93 531.36L599.43 531.36L599.93 531.36L600.43 531.35L600.93 531.35L601.43 531.35L601.93 531.35L602.43 531.35L602.93 531.35L603.43 531.35L603.93 531.35L604.43 531.35L604.93 531.35L605.43 531.35L605.93 531.35L606.43 531.35L606.93 531.35L607.43 531.34L607.93 531.34L608.43 531.34L608.93 531.34L609.43 531.34L609.93 531.34L610.43 531.34L610.93 531.34L611.43 531.34L611.93 531.34L612.43 531.34L612.93 531.34L613.43 531.34L613.93 531.34L614.43 531.34L614.93 531.34L615.43 531.34L615.93 531.34L616.43 531.34L616.93 531.33L617.43 531.33L617.93 531.33L618.43 531.33L618.93 531.33L619.43 531.33L619.93 531.33L620.43 531.33L620.93 531.33L621.43 531.33L621.93 531.33L622.43 531.33L622.93 531.33L623.43 531.33L623.93 531.33L624.43 531.33L624.93 531.33L625.43 531.33L625.93 531.33L626.43 531.33L626.93 531.33L627.43 531.33L627.93 531.33L628.43 531.33L628.93 531.33L629.43 531.33L629.93 531.33L630.43 531.33L630.93 531.33L631.43 531.33L631.93 531.33L632.43 531.32L632.93 531.32L633.43 531.32L633.93 531.32L634.43 531.32L634.93 531.32L635.43 531.32L635.93 531.32L636.43 531.32L636.93 531.32L637.43 531.32L637.93 531.32L638.43 531.32L638.93 531.32L639.43 531.32L639.93 531.32L640.43 531.32L640.93 531.32L641.43 531.32L641.93 531.32L642.43 531.32L642.93 531.32L643.43 531.32L643.93 531.32L644.43 531.32L644.93 531.32L645.43 531.32L645.93 531.32" fill="none" stroke="#fcd28a" stroke-width="1.45" stroke-linejoin="round"/>
<text x="403.2" y="523.5" font-size="9.3" text-anchor="start" font-weight="normal" fill="#222" >After reaction</text>
<text x="401.38" y="559.7" font-size="9.3" fill="#222">χ-Fe<tspan font-size="6.5" dy="2.8">5</tspan><tspan dy="-2.8">C</tspan><tspan font-size="6.5" dy="2.8">2</tspan><tspan dy="-2.8">:</tspan></text>
<text x="442.28" y="559.7" font-size="9.3" fill="#222">100%</text>
</svg></body></html>
